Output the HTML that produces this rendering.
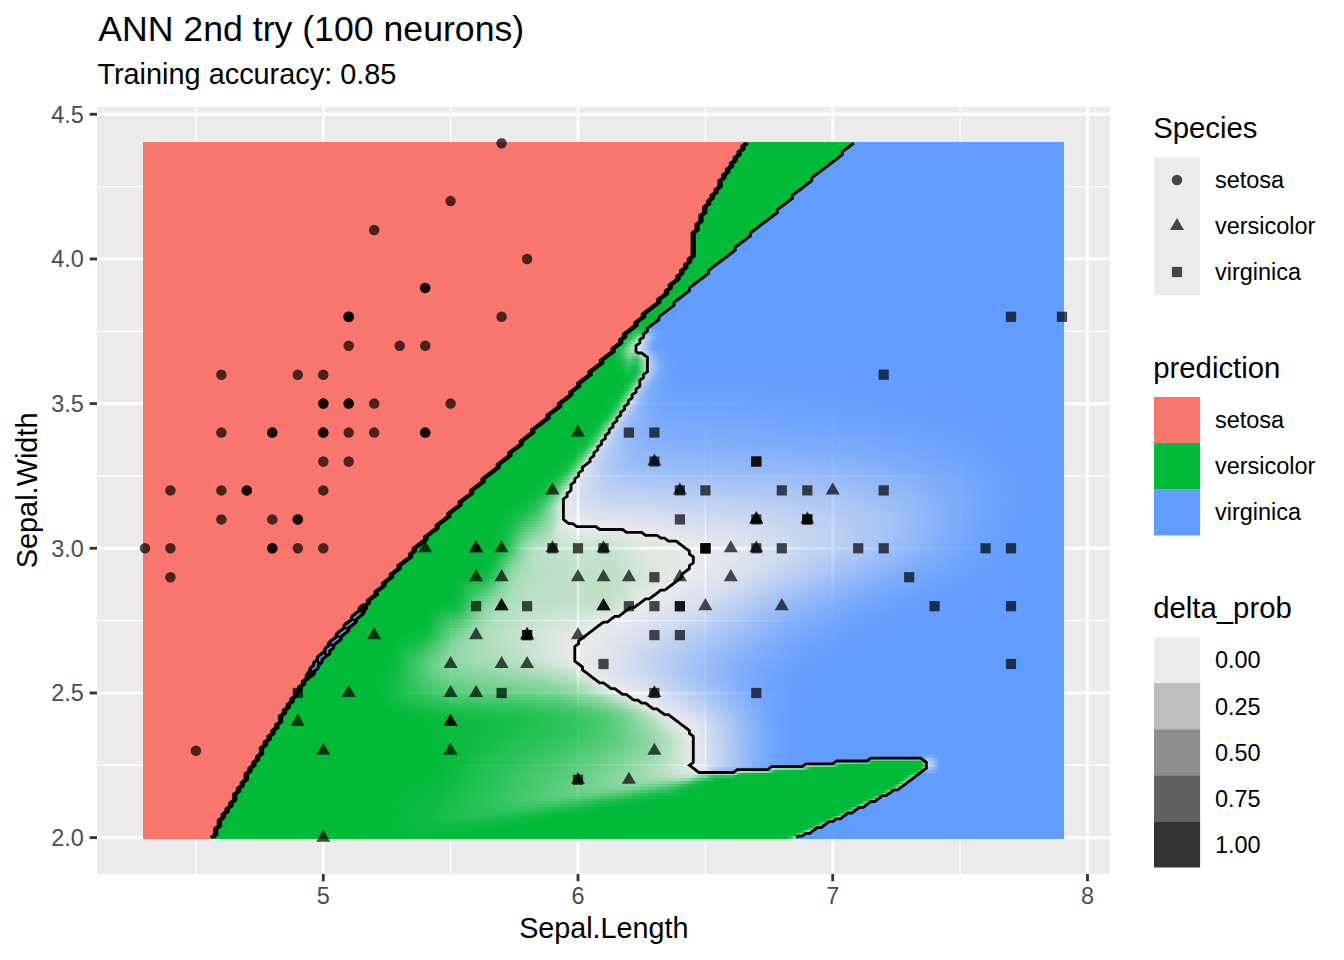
<!DOCTYPE html>
<html><head><meta charset="utf-8"><title>ANN 2nd try (100 neurons)</title>
<style>html,body{margin:0;padding:0;background:#fff}svg{display:block}text{font-family:"Liberation Sans",Arial,Helvetica,sans-serif}</style>
</head><body>
<svg width="1344" height="960" viewBox="0 0 1344 960">
<defs>
<linearGradient id="r0" gradientUnits="userSpaceOnUse" x1="143.04" x2="1063.91" y1="0" y2="0"><stop offset="0" stop-color="#F8766D"/><stop offset=".0747" stop-color="#F8766D"/><stop offset=".0747" stop-color="#00BA38"/><stop offset=".2386" stop-color="#00BA38"/><stop offset=".2759" stop-color="#00BA38" stop-opacity=".98"/><stop offset=".6992" stop-color="#00BA38"/><stop offset=".7033" stop-color="#00BA38" stop-opacity=".84"/><stop offset=".7075" stop-color="#00BA38" stop-opacity=".52"/><stop offset=".7095" stop-color="#00BA38" stop-opacity=".52"/><stop offset=".7095" stop-color="#619CFF"/><stop offset="1" stop-color="#619CFF"/></linearGradient>
<linearGradient id="r1" gradientUnits="userSpaceOnUse" x1="143.04" x2="1063.91" y1="0" y2="0"><stop offset="0" stop-color="#F8766D"/><stop offset=".0788" stop-color="#F8766D"/><stop offset=".0788" stop-color="#00BA38"/><stop offset=".2427" stop-color="#00BA38"/><stop offset=".2967" stop-color="#00BA38" stop-opacity=".98"/><stop offset=".3797" stop-color="#00BA38"/><stop offset=".7075" stop-color="#00BA38"/><stop offset=".7116" stop-color="#00BA38" stop-opacity=".71"/><stop offset=".7158" stop-color="#00BA38" stop-opacity=".39"/><stop offset=".7178" stop-color="#00BA38" stop-opacity=".39"/><stop offset=".7178" stop-color="#619CFF"/><stop offset="1" stop-color="#619CFF"/></linearGradient>
<linearGradient id="r2" gradientUnits="userSpaceOnUse" x1="143.04" x2="1063.91" y1="0" y2="0"><stop offset="0" stop-color="#F8766D"/><stop offset=".0788" stop-color="#F8766D"/><stop offset=".0788" stop-color="#00BA38"/><stop offset=".2427" stop-color="#00BA38"/><stop offset=".305" stop-color="#00BA38" stop-opacity=".97"/><stop offset=".3921" stop-color="#00BA38"/><stop offset=".7116" stop-color="#00BA38"/><stop offset=".7158" stop-color="#00BA38" stop-opacity=".91"/><stop offset=".7241" stop-color="#00BA38" stop-opacity=".23"/><stop offset=".7261" stop-color="#00BA38" stop-opacity=".23"/><stop offset=".7261" stop-color="#619CFF"/><stop offset="1" stop-color="#619CFF"/></linearGradient>
<linearGradient id="r3" gradientUnits="userSpaceOnUse" x1="143.04" x2="1063.91" y1="0" y2="0"><stop offset="0" stop-color="#F8766D"/><stop offset=".0788" stop-color="#F8766D"/><stop offset=".0788" stop-color="#00BA38"/><stop offset=".2469" stop-color="#00BA38"/><stop offset=".3133" stop-color="#00BA38" stop-opacity=".95"/><stop offset=".4087" stop-color="#00BA38"/><stop offset=".7199" stop-color="#00BA38"/><stop offset=".7241" stop-color="#00BA38" stop-opacity=".75"/><stop offset=".7282" stop-color="#00BA38" stop-opacity=".4"/><stop offset=".7303" stop-color="#00BA38" stop-opacity=".4"/><stop offset=".7303" stop-color="#619CFF"/><stop offset="1" stop-color="#619CFF"/></linearGradient>
<linearGradient id="r4" gradientUnits="userSpaceOnUse" x1="143.04" x2="1063.91" y1="0" y2="0"><stop offset="0" stop-color="#F8766D"/><stop offset=".083" stop-color="#F8766D"/><stop offset=".083" stop-color="#00BA38"/><stop offset=".251" stop-color="#00BA38"/><stop offset=".3216" stop-color="#00BA38" stop-opacity=".94"/><stop offset=".4212" stop-color="#00BA38"/><stop offset=".7241" stop-color="#00BA38"/><stop offset=".7282" stop-color="#00BA38" stop-opacity=".92"/><stop offset=".7365" stop-color="#00BA38" stop-opacity=".22"/><stop offset=".7386" stop-color="#00BA38" stop-opacity=".22"/><stop offset=".7386" stop-color="#619CFF"/><stop offset="1" stop-color="#619CFF"/></linearGradient>
<linearGradient id="r5" gradientUnits="userSpaceOnUse" x1="143.04" x2="1063.91" y1="0" y2="0"><stop offset="0" stop-color="#F8766D"/><stop offset=".083" stop-color="#F8766D"/><stop offset=".083" stop-color="#00BA38"/><stop offset=".251" stop-color="#00BA38"/><stop offset=".334" stop-color="#00BA38" stop-opacity=".92"/><stop offset=".4378" stop-color="#00BA38"/><stop offset=".7324" stop-color="#00BA38"/><stop offset=".7365" stop-color="#00BA38" stop-opacity=".75"/><stop offset=".7407" stop-color="#00BA38" stop-opacity=".45"/><stop offset=".7427" stop-color="#00BA38" stop-opacity=".45"/><stop offset=".7427" stop-color="#619CFF"/><stop offset="1" stop-color="#619CFF"/></linearGradient>
<linearGradient id="r6" gradientUnits="userSpaceOnUse" x1="143.04" x2="1063.91" y1="0" y2="0"><stop offset="0" stop-color="#F8766D"/><stop offset=".083" stop-color="#F8766D"/><stop offset=".083" stop-color="#00BA38"/><stop offset=".2552" stop-color="#00BA38"/><stop offset=".3465" stop-color="#00BA38" stop-opacity=".9"/><stop offset=".4502" stop-color="#00BA38"/><stop offset=".7365" stop-color="#00BA38"/><stop offset=".7407" stop-color="#00BA38" stop-opacity=".98"/><stop offset=".749" stop-color="#00BA38" stop-opacity=".37"/><stop offset=".751" stop-color="#00BA38" stop-opacity=".37"/><stop offset=".751" stop-color="#619CFF"/><stop offset="1" stop-color="#619CFF"/></linearGradient>
<linearGradient id="r7" gradientUnits="userSpaceOnUse" x1="143.04" x2="1063.91" y1="0" y2="0"><stop offset="0" stop-color="#F8766D"/><stop offset=".0871" stop-color="#F8766D"/><stop offset=".0871" stop-color="#00BA38"/><stop offset=".2552" stop-color="#00BA38"/><stop offset=".2842" stop-color="#00BA38" stop-opacity=".97"/><stop offset=".3423" stop-color="#00BA38" stop-opacity=".88"/><stop offset=".3631" stop-color="#00BA38" stop-opacity=".87"/><stop offset=".388" stop-color="#00BA38" stop-opacity=".89"/><stop offset=".4378" stop-color="#00BA38" stop-opacity=".98"/><stop offset=".4668" stop-color="#00BA38"/><stop offset=".7448" stop-color="#00BA38"/><stop offset=".749" stop-color="#00BA38" stop-opacity=".9"/><stop offset=".7573" stop-color="#00BA38" stop-opacity=".29"/><stop offset=".7593" stop-color="#00BA38" stop-opacity=".29"/><stop offset=".7593" stop-color="#619CFF"/><stop offset="1" stop-color="#619CFF"/></linearGradient>
<linearGradient id="r8" gradientUnits="userSpaceOnUse" x1="143.04" x2="1063.91" y1="0" y2="0"><stop offset="0" stop-color="#F8766D"/><stop offset=".0871" stop-color="#F8766D"/><stop offset=".0871" stop-color="#00BA38"/><stop offset=".2676" stop-color="#00BA38" stop-opacity=".99"/><stop offset=".2884" stop-color="#00BA38" stop-opacity=".97"/><stop offset=".3548" stop-color="#00BA38" stop-opacity=".86"/><stop offset=".3797" stop-color="#00BA38" stop-opacity=".84"/><stop offset=".4004" stop-color="#00BA38" stop-opacity=".86"/><stop offset=".4502" stop-color="#00BA38" stop-opacity=".97"/><stop offset=".4793" stop-color="#00BA38" stop-opacity=".99"/><stop offset=".7531" stop-color="#00BA38"/><stop offset=".7573" stop-color="#00BA38" stop-opacity=".81"/><stop offset=".7614" stop-color="#00BA38" stop-opacity=".47"/><stop offset=".7635" stop-color="#00BA38" stop-opacity=".47"/><stop offset=".7635" stop-color="#619CFF"/><stop offset="1" stop-color="#619CFF"/></linearGradient>
<linearGradient id="r9" gradientUnits="userSpaceOnUse" x1="143.04" x2="1063.91" y1="0" y2="0"><stop offset="0" stop-color="#F8766D"/><stop offset=".0913" stop-color="#F8766D"/><stop offset=".0913" stop-color="#00BA38"/><stop offset=".2759" stop-color="#00BA38" stop-opacity=".99"/><stop offset=".3631" stop-color="#00BA38" stop-opacity=".84"/><stop offset=".3921" stop-color="#00BA38" stop-opacity=".81"/><stop offset=".4129" stop-color="#00BA38" stop-opacity=".83"/><stop offset=".4668" stop-color="#00BA38" stop-opacity=".96"/><stop offset=".4959" stop-color="#00BA38" stop-opacity=".99"/><stop offset=".7573" stop-color="#00BA38"/><stop offset=".7614" stop-color="#00BA38" stop-opacity=".99"/><stop offset=".7697" stop-color="#00BA38" stop-opacity=".3"/><stop offset=".7718" stop-color="#00BA38" stop-opacity=".3"/><stop offset=".7718" stop-color="#619CFF"/><stop offset="1" stop-color="#619CFF"/></linearGradient>
<linearGradient id="r10" gradientUnits="userSpaceOnUse" x1="143.04" x2="1063.91" y1="0" y2="0"><stop offset="0" stop-color="#F8766D"/><stop offset=".0913" stop-color="#F8766D"/><stop offset=".0913" stop-color="#00BA38"/><stop offset=".2344" stop-color="#00BA38"/><stop offset=".2801" stop-color="#00BA38" stop-opacity=".98"/><stop offset=".3174" stop-color="#00BA38" stop-opacity=".93"/><stop offset=".3838" stop-color="#00BA38" stop-opacity=".8"/><stop offset=".4046" stop-color="#00BA38" stop-opacity=".78"/><stop offset=".4295" stop-color="#00BA38" stop-opacity=".81"/><stop offset=".4834" stop-color="#00BA38" stop-opacity=".96"/><stop offset=".5124" stop-color="#00BA38" stop-opacity=".99"/><stop offset=".7656" stop-color="#00BA38"/><stop offset=".7697" stop-color="#00BA38" stop-opacity=".82"/><stop offset=".7739" stop-color="#00BA38" stop-opacity=".48"/><stop offset=".7759" stop-color="#00BA38" stop-opacity=".48"/><stop offset=".7759" stop-color="#619CFF"/><stop offset="1" stop-color="#619CFF"/></linearGradient>
<linearGradient id="r11" gradientUnits="userSpaceOnUse" x1="143.04" x2="1063.91" y1="0" y2="0"><stop offset="0" stop-color="#F8766D"/><stop offset=".0954" stop-color="#F8766D"/><stop offset=".0954" stop-color="#00BA38"/><stop offset=".2801" stop-color="#00BA38" stop-opacity=".98"/><stop offset=".3174" stop-color="#00BA38" stop-opacity=".94"/><stop offset=".3921" stop-color="#00BA38" stop-opacity=".77"/><stop offset=".417" stop-color="#00BA38" stop-opacity=".74"/><stop offset=".4419" stop-color="#00BA38" stop-opacity=".77"/><stop offset=".4917" stop-color="#00BA38" stop-opacity=".93"/><stop offset=".5249" stop-color="#00BA38" stop-opacity=".99"/><stop offset=".7739" stop-color="#00BA38"/><stop offset=".7822" stop-color="#00BA38" stop-opacity=".31"/><stop offset=".7842" stop-color="#00BA38" stop-opacity=".31"/><stop offset=".7842" stop-color="#619CFF"/><stop offset="1" stop-color="#619CFF"/></linearGradient>
<linearGradient id="r12" gradientUnits="userSpaceOnUse" x1="143.04" x2="1063.91" y1="0" y2="0"><stop offset="0" stop-color="#F8766D"/><stop offset=".0954" stop-color="#F8766D"/><stop offset=".0954" stop-color="#00BA38"/><stop offset=".2344" stop-color="#00BA38"/><stop offset=".2842" stop-color="#00BA38" stop-opacity=".98"/><stop offset=".3216" stop-color="#00BA38" stop-opacity=".93"/><stop offset=".4046" stop-color="#00BA38" stop-opacity=".74"/><stop offset=".4336" stop-color="#00BA38" stop-opacity=".7"/><stop offset=".4544" stop-color="#00BA38" stop-opacity=".73"/><stop offset=".5083" stop-color="#00BA38" stop-opacity=".92"/><stop offset=".5415" stop-color="#00BA38" stop-opacity=".99"/><stop offset=".778" stop-color="#00BA38"/><stop offset=".7822" stop-color="#00BA38" stop-opacity=".83"/><stop offset=".7863" stop-color="#00BA38" stop-opacity=".49"/><stop offset=".7884" stop-color="#00BA38" stop-opacity=".49"/><stop offset=".7884" stop-color="#619CFF"/><stop offset="1" stop-color="#619CFF"/></linearGradient>
<linearGradient id="r13" gradientUnits="userSpaceOnUse" x1="143.04" x2="1063.91" y1="0" y2="0"><stop offset="0" stop-color="#F8766D"/><stop offset=".0996" stop-color="#F8766D"/><stop offset=".0996" stop-color="#00BA38"/><stop offset=".2842" stop-color="#00BA38" stop-opacity=".98"/><stop offset=".3216" stop-color="#00BA38" stop-opacity=".94"/><stop offset=".4212" stop-color="#00BA38" stop-opacity=".69"/><stop offset=".4461" stop-color="#00BA38" stop-opacity=".66"/><stop offset=".471" stop-color="#00BA38" stop-opacity=".7"/><stop offset=".5249" stop-color="#00BA38" stop-opacity=".92"/><stop offset=".5581" stop-color="#00BA38" stop-opacity=".98"/><stop offset=".5996" stop-color="#00BA38"/><stop offset=".7863" stop-color="#00BA38"/><stop offset=".7946" stop-color="#00BA38" stop-opacity=".32"/><stop offset=".7967" stop-color="#00BA38" stop-opacity=".32"/><stop offset=".7967" stop-color="#619CFF"/><stop offset="1" stop-color="#619CFF"/></linearGradient>
<linearGradient id="r14" gradientUnits="userSpaceOnUse" x1="143.04" x2="1063.91" y1="0" y2="0"><stop offset="0" stop-color="#F8766D"/><stop offset=".0996" stop-color="#F8766D"/><stop offset=".0996" stop-color="#00BA38"/><stop offset=".2552" stop-color="#00BA38"/><stop offset=".3133" stop-color="#00BA38" stop-opacity=".96"/><stop offset=".4336" stop-color="#00BA38" stop-opacity=".66"/><stop offset=".4627" stop-color="#00BA38" stop-opacity=".62"/><stop offset=".4876" stop-color="#00BA38" stop-opacity=".66"/><stop offset=".5415" stop-color="#00BA38" stop-opacity=".91"/><stop offset=".5747" stop-color="#00BA38" stop-opacity=".98"/><stop offset=".6079" stop-color="#00BA38"/><stop offset=".7905" stop-color="#00BA38"/><stop offset=".7946" stop-color="#00BA38" stop-opacity=".84"/><stop offset=".7988" stop-color="#00BA38" stop-opacity=".5"/><stop offset=".8008" stop-color="#00BA38" stop-opacity=".5"/><stop offset=".8008" stop-color="#619CFF"/><stop offset="1" stop-color="#619CFF"/></linearGradient>
<linearGradient id="r15" gradientUnits="userSpaceOnUse" x1="143.04" x2="1063.91" y1="0" y2="0"><stop offset="0" stop-color="#F8766D"/><stop offset=".0996" stop-color="#F8766D"/><stop offset=".0996" stop-color="#00BA38"/><stop offset=".251" stop-color="#00BA38"/><stop offset=".3133" stop-color="#00BA38" stop-opacity=".96"/><stop offset=".334" stop-color="#00BA38" stop-opacity=".92"/><stop offset=".4461" stop-color="#00BA38" stop-opacity=".62"/><stop offset=".4793" stop-color="#00BA38" stop-opacity=".58"/><stop offset=".5041" stop-color="#00BA38" stop-opacity=".63"/><stop offset=".5581" stop-color="#00BA38" stop-opacity=".9"/><stop offset=".5913" stop-color="#00BA38" stop-opacity=".99"/><stop offset=".7988" stop-color="#00BA38"/><stop offset=".8071" stop-color="#00BA38" stop-opacity=".31"/><stop offset=".8091" stop-color="#00BA38" stop-opacity=".31"/><stop offset=".8091" stop-color="#619CFF"/><stop offset="1" stop-color="#619CFF"/></linearGradient>
<linearGradient id="r16" gradientUnits="userSpaceOnUse" x1="143.04" x2="1063.91" y1="0" y2="0"><stop offset="0" stop-color="#F8766D"/><stop offset=".1037" stop-color="#F8766D"/><stop offset=".1037" stop-color="#00BA38"/><stop offset=".251" stop-color="#00BA38"/><stop offset=".3133" stop-color="#00BA38" stop-opacity=".97"/><stop offset=".4046" stop-color="#00BA38" stop-opacity=".75"/><stop offset=".4668" stop-color="#00BA38" stop-opacity=".57"/><stop offset=".4959" stop-color="#00BA38" stop-opacity=".53"/><stop offset=".5083" stop-color="#00BA38" stop-opacity=".55"/><stop offset=".5207" stop-color="#00BA38" stop-opacity=".59"/><stop offset=".583" stop-color="#00BA38" stop-opacity=".94"/><stop offset=".5996" stop-color="#00BA38" stop-opacity=".99"/><stop offset=".8029" stop-color="#00BA38"/><stop offset=".8071" stop-color="#00BA38" stop-opacity=".83"/><stop offset=".8112" stop-color="#00BA38" stop-opacity=".48"/><stop offset=".8133" stop-color="#00BA38" stop-opacity=".48"/><stop offset=".8133" stop-color="#619CFF"/><stop offset="1" stop-color="#619CFF"/></linearGradient>
<linearGradient id="r17" gradientUnits="userSpaceOnUse" x1="143.04" x2="1063.91" y1="0" y2="0"><stop offset="0" stop-color="#F8766D"/><stop offset=".1037" stop-color="#F8766D"/><stop offset=".1037" stop-color="#00BA38"/><stop offset=".251" stop-color="#00BA38"/><stop offset=".3174" stop-color="#00BA38" stop-opacity=".97"/><stop offset=".4087" stop-color="#00BA38" stop-opacity=".74"/><stop offset=".4834" stop-color="#00BA38" stop-opacity=".52"/><stop offset=".5083" stop-color="#00BA38" stop-opacity=".48"/><stop offset=".5249" stop-color="#00BA38" stop-opacity=".5"/><stop offset=".5415" stop-color="#00BA38" stop-opacity=".57"/><stop offset=".5705" stop-color="#00BA38" stop-opacity=".75"/><stop offset=".5913" stop-color="#00BA38" stop-opacity=".94"/><stop offset=".6037" stop-color="#00BA38" stop-opacity=".98"/><stop offset=".6328" stop-color="#00BA38"/><stop offset=".8071" stop-color="#00BA38"/><stop offset=".8112" stop-color="#00BA38" stop-opacity=".99"/><stop offset=".8154" stop-color="#00BA38" stop-opacity=".64"/><stop offset=".8195" stop-color="#00BA38" stop-opacity=".23"/><stop offset=".8216" stop-color="#00BA38" stop-opacity=".23"/><stop offset=".8216" stop-color="#619CFF"/><stop offset="1" stop-color="#619CFF"/></linearGradient>
<linearGradient id="r18" gradientUnits="userSpaceOnUse" x1="143.04" x2="1063.91" y1="0" y2="0"><stop offset="0" stop-color="#F8766D"/><stop offset=".1079" stop-color="#F8766D"/><stop offset=".1079" stop-color="#00BA38"/><stop offset=".251" stop-color="#00BA38"/><stop offset=".3174" stop-color="#00BA38" stop-opacity=".97"/><stop offset=".4129" stop-color="#00BA38" stop-opacity=".74"/><stop offset=".5" stop-color="#00BA38" stop-opacity=".47"/><stop offset=".5249" stop-color="#00BA38" stop-opacity=".43"/><stop offset=".5456" stop-color="#00BA38" stop-opacity=".47"/><stop offset=".5664" stop-color="#00BA38" stop-opacity=".58"/><stop offset=".5788" stop-color="#00BA38" stop-opacity=".69"/><stop offset=".5996" stop-color="#00BA38" stop-opacity=".95"/><stop offset=".6079" stop-color="#00BA38" stop-opacity=".98"/><stop offset=".6328" stop-color="#00BA38"/><stop offset=".8154" stop-color="#00BA38"/><stop offset=".8195" stop-color="#00BA38" stop-opacity=".7"/><stop offset=".8237" stop-color="#00BA38" stop-opacity=".26"/><stop offset=".8257" stop-color="#00BA38" stop-opacity=".26"/><stop offset=".8257" stop-color="#619CFF"/><stop offset="1" stop-color="#619CFF"/></linearGradient>
<linearGradient id="r19" gradientUnits="userSpaceOnUse" x1="143.04" x2="1063.91" y1="0" y2="0"><stop offset="0" stop-color="#F8766D"/><stop offset=".1079" stop-color="#F8766D"/><stop offset=".1079" stop-color="#00BA38"/><stop offset=".251" stop-color="#00BA38"/><stop offset=".3174" stop-color="#00BA38" stop-opacity=".98"/><stop offset=".417" stop-color="#00BA38" stop-opacity=".73"/><stop offset=".4627" stop-color="#00BA38" stop-opacity=".6"/><stop offset=".5124" stop-color="#00BA38" stop-opacity=".43"/><stop offset=".5415" stop-color="#00BA38" stop-opacity=".38"/><stop offset=".5581" stop-color="#00BA38" stop-opacity=".41"/><stop offset=".5788" stop-color="#00BA38" stop-opacity=".49"/><stop offset=".583" stop-color="#00BA38" stop-opacity=".53"/><stop offset=".5913" stop-color="#00BA38" stop-opacity=".66"/><stop offset=".5996" stop-color="#00BA38" stop-opacity=".84"/><stop offset=".6037" stop-color="#00BA38" stop-opacity=".91"/><stop offset=".6079" stop-color="#00BA38" stop-opacity=".94"/><stop offset=".6245" stop-color="#00BA38"/><stop offset=".8195" stop-color="#00BA38"/><stop offset=".8237" stop-color="#00BA38" stop-opacity=".73"/><stop offset=".8278" stop-color="#00BA38" stop-opacity=".29"/><stop offset=".8299" stop-color="#00BA38" stop-opacity=".29"/><stop offset=".8299" stop-color="#619CFF"/><stop offset="1" stop-color="#619CFF"/></linearGradient>
<linearGradient id="r20" gradientUnits="userSpaceOnUse" x1="143.04" x2="1063.91" y1="0" y2="0"><stop offset="0" stop-color="#F8766D"/><stop offset=".112" stop-color="#F8766D"/><stop offset=".112" stop-color="#00BA38"/><stop offset=".251" stop-color="#00BA38"/><stop offset=".3174" stop-color="#00BA38" stop-opacity=".98"/><stop offset=".4585" stop-color="#00BA38" stop-opacity=".62"/><stop offset=".5332" stop-color="#00BA38" stop-opacity=".36"/><stop offset=".5788" stop-color="#00BA38" stop-opacity=".3"/><stop offset=".583" stop-color="#00BA38" stop-opacity=".3"/><stop offset=".5913" stop-color="#00BA38" stop-opacity=".38"/><stop offset=".5954" stop-color="#00BA38" stop-opacity=".46"/><stop offset=".6037" stop-color="#00BA38" stop-opacity=".68"/><stop offset=".6079" stop-color="#00BA38" stop-opacity=".75"/><stop offset=".612" stop-color="#00BA38" stop-opacity=".79"/><stop offset=".6162" stop-color="#00BA38" stop-opacity=".85"/><stop offset=".6203" stop-color="#00BA38" stop-opacity=".94"/><stop offset=".6245" stop-color="#00BA38" stop-opacity=".99"/><stop offset=".8237" stop-color="#00BA38"/><stop offset=".8278" stop-color="#00BA38" stop-opacity=".76"/><stop offset=".832" stop-color="#00BA38" stop-opacity=".32"/><stop offset=".834" stop-color="#00BA38" stop-opacity=".32"/><stop offset=".834" stop-color="#619CFF"/><stop offset="1" stop-color="#619CFF"/></linearGradient>
<linearGradient id="r21" gradientUnits="userSpaceOnUse" x1="143.04" x2="1063.91" y1="0" y2="0"><stop offset="0" stop-color="#F8766D"/><stop offset=".112" stop-color="#F8766D"/><stop offset=".112" stop-color="#00BA38"/><stop offset=".2801" stop-color="#00BA38"/><stop offset=".3216" stop-color="#00BA38" stop-opacity=".98"/><stop offset=".4627" stop-color="#00BA38" stop-opacity=".62"/><stop offset=".5664" stop-color="#00BA38" stop-opacity=".25"/><stop offset=".583" stop-color="#00BA38" stop-opacity=".18"/><stop offset=".5913" stop-color="#00BA38" stop-opacity=".17"/><stop offset=".5954" stop-color="#00BA38" stop-opacity=".19"/><stop offset=".5996" stop-color="#00BA38" stop-opacity=".27"/><stop offset=".612" stop-color="#00BA38" stop-opacity=".57"/><stop offset=".6162" stop-color="#00BA38" stop-opacity=".73"/><stop offset=".6203" stop-color="#00BA38" stop-opacity=".82"/><stop offset=".6411" stop-color="#00BA38" stop-opacity=".82"/><stop offset=".6452" stop-color="#00BA38"/><stop offset=".8278" stop-color="#00BA38"/><stop offset=".832" stop-color="#00BA38" stop-opacity=".79"/><stop offset=".8361" stop-color="#00BA38" stop-opacity=".36"/><stop offset=".8382" stop-color="#00BA38" stop-opacity=".36"/><stop offset=".8382" stop-color="#619CFF"/><stop offset="1" stop-color="#619CFF"/></linearGradient>
<linearGradient id="r22" gradientUnits="userSpaceOnUse" x1="143.04" x2="1063.91" y1="0" y2="0"><stop offset="0" stop-color="#F8766D"/><stop offset=".112" stop-color="#F8766D"/><stop offset=".112" stop-color="#00BA38"/><stop offset=".2801" stop-color="#00BA38"/><stop offset=".3216" stop-color="#00BA38" stop-opacity=".98"/><stop offset=".471" stop-color="#00BA38" stop-opacity=".6"/><stop offset=".5622" stop-color="#00BA38" stop-opacity=".24"/><stop offset=".5954" stop-color="#00BA38" stop-opacity=".07"/><stop offset=".5996" stop-color="#00BA38" stop-opacity=".08"/><stop offset=".6037" stop-color="#00BA38" stop-opacity=".15"/><stop offset=".6079" stop-color="#00BA38" stop-opacity=".24"/><stop offset=".6411" stop-color="#00BA38" stop-opacity=".24"/><stop offset=".6452" stop-color="#00BA38" stop-opacity=".68"/><stop offset=".6494" stop-color="#00BA38" stop-opacity=".91"/><stop offset=".6826" stop-color="#00BA38"/><stop offset=".832" stop-color="#00BA38"/><stop offset=".8361" stop-color="#00BA38" stop-opacity=".85"/><stop offset=".8402" stop-color="#00BA38" stop-opacity=".44"/><stop offset=".8423" stop-color="#00BA38" stop-opacity=".44"/><stop offset=".8423" stop-color="#619CFF"/><stop offset=".8485" stop-color="#619CFF"/><stop offset=".8527" stop-color="#619CFF" stop-opacity=".93"/><stop offset=".861" stop-color="#619CFF"/><stop offset="1" stop-color="#619CFF"/></linearGradient>
<linearGradient id="r23" gradientUnits="userSpaceOnUse" x1="143.04" x2="1063.91" y1="0" y2="0"><stop offset="0" stop-color="#F8766D"/><stop offset=".1162" stop-color="#F8766D"/><stop offset=".1162" stop-color="#00BA38"/><stop offset=".2842" stop-color="#00BA38"/><stop offset=".3216" stop-color="#00BA38" stop-opacity=".98"/><stop offset=".4751" stop-color="#00BA38" stop-opacity=".6"/><stop offset=".5373" stop-color="#00BA38" stop-opacity=".36"/><stop offset=".5871" stop-color="#00BA38" stop-opacity=".11"/><stop offset=".5954" stop-color="#00BA38" stop-opacity=".05"/><stop offset=".6017" stop-color="#00BA38" stop-opacity=".02"/><stop offset=".6017" stop-color="#619CFF" stop-opacity=".03"/><stop offset=".6037" stop-color="#619CFF" stop-opacity=".03"/><stop offset=".6079" stop-color="#619CFF" stop-opacity=".07"/><stop offset=".612" stop-color="#619CFF" stop-opacity=".17"/><stop offset=".6203" stop-color="#619CFF" stop-opacity=".44"/><stop offset=".6245" stop-color="#619CFF" stop-opacity=".52"/><stop offset=".6328" stop-color="#619CFF" stop-opacity=".6"/><stop offset=".6432" stop-color="#619CFF" stop-opacity=".64"/><stop offset=".6432" stop-color="#00BA38" stop-opacity=".25"/><stop offset=".6452" stop-color="#00BA38" stop-opacity=".25"/><stop offset=".6494" stop-color="#00BA38" stop-opacity=".33"/><stop offset=".6784" stop-color="#00BA38" stop-opacity=".41"/><stop offset=".6826" stop-color="#00BA38" stop-opacity=".69"/><stop offset=".6867" stop-color="#00BA38" stop-opacity=".93"/><stop offset=".7116" stop-color="#00BA38"/><stop offset=".8361" stop-color="#00BA38"/><stop offset=".8402" stop-color="#00BA38" stop-opacity=".94"/><stop offset=".8444" stop-color="#00BA38" stop-opacity=".53"/><stop offset=".8465" stop-color="#00BA38" stop-opacity=".53"/><stop offset=".8465" stop-color="#619CFF" stop-opacity=".81"/><stop offset=".8485" stop-color="#619CFF" stop-opacity=".81"/><stop offset=".8527" stop-color="#619CFF" stop-opacity=".72"/><stop offset=".8568" stop-color="#619CFF" stop-opacity=".76"/><stop offset=".861" stop-color="#619CFF" stop-opacity=".92"/><stop offset=".8651" stop-color="#619CFF"/><stop offset="1" stop-color="#619CFF"/></linearGradient>
<linearGradient id="r24" gradientUnits="userSpaceOnUse" x1="143.04" x2="1063.91" y1="0" y2="0"><stop offset="0" stop-color="#F8766D"/><stop offset=".1162" stop-color="#F8766D"/><stop offset=".1162" stop-color="#00BA38"/><stop offset=".305" stop-color="#00BA38"/><stop offset=".3257" stop-color="#00BA38" stop-opacity=".98"/><stop offset=".3714" stop-color="#00BA38" stop-opacity=".86"/><stop offset=".4212" stop-color="#00BA38" stop-opacity=".75"/><stop offset=".4793" stop-color="#00BA38" stop-opacity=".59"/><stop offset=".5415" stop-color="#00BA38" stop-opacity=".35"/><stop offset=".5975" stop-color="#00BA38" stop-opacity=".03"/><stop offset=".5975" stop-color="#619CFF" stop-opacity=".02"/><stop offset=".6037" stop-color="#619CFF" stop-opacity=".04"/><stop offset=".6079" stop-color="#619CFF" stop-opacity=".08"/><stop offset=".612" stop-color="#619CFF" stop-opacity=".15"/><stop offset=".6203" stop-color="#619CFF" stop-opacity=".37"/><stop offset=".6245" stop-color="#619CFF" stop-opacity=".45"/><stop offset=".6286" stop-color="#619CFF" stop-opacity=".5"/><stop offset=".6452" stop-color="#619CFF" stop-opacity=".63"/><stop offset=".666" stop-color="#619CFF" stop-opacity=".81"/><stop offset=".6805" stop-color="#619CFF" stop-opacity=".88"/><stop offset=".6805" stop-color="#00BA38" stop-opacity=".21"/><stop offset=".6826" stop-color="#00BA38" stop-opacity=".21"/><stop offset=".6867" stop-color="#00BA38" stop-opacity=".35"/><stop offset=".7158" stop-color="#00BA38" stop-opacity=".43"/><stop offset=".7199" stop-color="#00BA38" stop-opacity=".68"/><stop offset=".7241" stop-color="#00BA38" stop-opacity=".99"/><stop offset=".7282" stop-color="#00BA38"/><stop offset=".8444" stop-color="#00BA38"/><stop offset=".8485" stop-color="#00BA38" stop-opacity=".45"/><stop offset=".8506" stop-color="#00BA38" stop-opacity=".45"/><stop offset=".8506" stop-color="#619CFF" stop-opacity=".51"/><stop offset=".8527" stop-color="#619CFF" stop-opacity=".51"/><stop offset=".8568" stop-color="#619CFF" stop-opacity=".58"/><stop offset=".8651" stop-color="#619CFF"/><stop offset="1" stop-color="#619CFF"/></linearGradient>
<linearGradient id="r25" gradientUnits="userSpaceOnUse" x1="143.04" x2="1063.91" y1="0" y2="0"><stop offset="0" stop-color="#F8766D"/><stop offset=".1203" stop-color="#F8766D"/><stop offset=".1203" stop-color="#00BA38"/><stop offset=".305" stop-color="#00BA38"/><stop offset=".3299" stop-color="#00BA38" stop-opacity=".97"/><stop offset=".3714" stop-color="#00BA38" stop-opacity=".86"/><stop offset=".4295" stop-color="#00BA38" stop-opacity=".74"/><stop offset=".4793" stop-color="#00BA38" stop-opacity=".6"/><stop offset=".5415" stop-color="#00BA38" stop-opacity=".37"/><stop offset=".5581" stop-color="#00BA38" stop-opacity=".28"/><stop offset=".583" stop-color="#00BA38" stop-opacity=".12"/><stop offset=".5913" stop-color="#00BA38" stop-opacity=".05"/><stop offset=".5934" stop-color="#00BA38" stop-opacity=".05"/><stop offset=".5934" stop-color="#619CFF" stop-opacity=".01"/><stop offset=".5996" stop-color="#619CFF" stop-opacity=".03"/><stop offset=".6079" stop-color="#619CFF" stop-opacity=".09"/><stop offset=".612" stop-color="#619CFF" stop-opacity=".13"/><stop offset=".6245" stop-color="#619CFF" stop-opacity=".36"/><stop offset=".666" stop-color="#619CFF" stop-opacity=".79"/><stop offset=".6826" stop-color="#619CFF" stop-opacity=".9"/><stop offset=".695" stop-color="#619CFF" stop-opacity=".95"/><stop offset=".7033" stop-color="#619CFF" stop-opacity=".98"/><stop offset=".7178" stop-color="#619CFF"/><stop offset=".7178" stop-color="#00BA38" stop-opacity=".29"/><stop offset=".7199" stop-color="#00BA38" stop-opacity=".29"/><stop offset=".7241" stop-color="#00BA38" stop-opacity=".41"/><stop offset=".749" stop-color="#00BA38" stop-opacity=".5"/><stop offset=".7531" stop-color="#00BA38" stop-opacity=".8"/><stop offset=".7573" stop-color="#00BA38"/><stop offset=".8444" stop-color="#00BA38"/><stop offset=".8485" stop-color="#00BA38" stop-opacity=".76"/><stop offset=".8506" stop-color="#00BA38" stop-opacity=".76"/><stop offset=".8506" stop-color="#619CFF" stop-opacity=".31"/><stop offset=".8527" stop-color="#619CFF" stop-opacity=".31"/><stop offset=".8568" stop-color="#619CFF" stop-opacity=".45"/><stop offset=".8651" stop-color="#619CFF" stop-opacity=".99"/><stop offset=".8693" stop-color="#619CFF"/><stop offset="1" stop-color="#619CFF"/></linearGradient>
<linearGradient id="r26" gradientUnits="userSpaceOnUse" x1="143.04" x2="1063.91" y1="0" y2="0"><stop offset="0" stop-color="#F8766D"/><stop offset=".1203" stop-color="#F8766D"/><stop offset=".1203" stop-color="#00BA38"/><stop offset=".305" stop-color="#00BA38"/><stop offset=".334" stop-color="#00BA38" stop-opacity=".97"/><stop offset=".4627" stop-color="#00BA38" stop-opacity=".67"/><stop offset=".5207" stop-color="#00BA38" stop-opacity=".47"/><stop offset=".5539" stop-color="#00BA38" stop-opacity=".31"/><stop offset=".583" stop-color="#00BA38" stop-opacity=".12"/><stop offset=".5954" stop-color="#00BA38" stop-opacity=".01"/><stop offset=".5975" stop-color="#00BA38" stop-opacity=".01"/><stop offset=".5975" stop-color="#619CFF" stop-opacity=".03"/><stop offset=".5996" stop-color="#619CFF" stop-opacity=".03"/><stop offset=".6079" stop-color="#619CFF" stop-opacity=".1"/><stop offset=".6618" stop-color="#619CFF" stop-opacity=".72"/><stop offset=".6826" stop-color="#619CFF" stop-opacity=".89"/><stop offset=".7033" stop-color="#619CFF" stop-opacity=".98"/><stop offset=".751" stop-color="#619CFF"/><stop offset=".751" stop-color="#00BA38" stop-opacity=".39"/><stop offset=".7531" stop-color="#00BA38" stop-opacity=".39"/><stop offset=".7573" stop-color="#00BA38" stop-opacity=".43"/><stop offset=".7863" stop-color="#00BA38" stop-opacity=".52"/><stop offset=".7905" stop-color="#00BA38" stop-opacity=".94"/><stop offset=".7946" stop-color="#00BA38"/><stop offset=".8444" stop-color="#00BA38"/><stop offset=".8485" stop-color="#00BA38" stop-opacity=".55"/><stop offset=".8506" stop-color="#00BA38" stop-opacity=".55"/><stop offset=".8506" stop-color="#619CFF" stop-opacity=".33"/><stop offset=".8527" stop-color="#619CFF" stop-opacity=".33"/><stop offset=".8568" stop-color="#619CFF" stop-opacity=".46"/><stop offset=".8651" stop-color="#619CFF" stop-opacity=".99"/><stop offset="1" stop-color="#619CFF"/></linearGradient>
<linearGradient id="r27" gradientUnits="userSpaceOnUse" x1="143.04" x2="1063.91" y1="0" y2="0"><stop offset="0" stop-color="#F8766D"/><stop offset=".1245" stop-color="#F8766D"/><stop offset=".1245" stop-color="#00BA38"/><stop offset=".305" stop-color="#00BA38"/><stop offset=".3382" stop-color="#00BA38" stop-opacity=".96"/><stop offset=".3714" stop-color="#00BA38" stop-opacity=".87"/><stop offset=".4585" stop-color="#00BA38" stop-opacity=".69"/><stop offset=".5166" stop-color="#00BA38" stop-opacity=".5"/><stop offset=".5539" stop-color="#00BA38" stop-opacity=".33"/><stop offset=".583" stop-color="#00BA38" stop-opacity=".12"/><stop offset=".5954" stop-color="#00BA38" stop-opacity=".02"/><stop offset=".5975" stop-color="#00BA38" stop-opacity=".02"/><stop offset=".5975" stop-color="#619CFF" stop-opacity=".03"/><stop offset=".6037" stop-color="#619CFF" stop-opacity=".06"/><stop offset=".6203" stop-color="#619CFF" stop-opacity=".23"/><stop offset=".666" stop-color="#619CFF" stop-opacity=".75"/><stop offset=".6867" stop-color="#619CFF" stop-opacity=".91"/><stop offset=".7033" stop-color="#619CFF" stop-opacity=".98"/><stop offset=".7158" stop-color="#619CFF"/><stop offset=".7884" stop-color="#619CFF"/><stop offset=".7884" stop-color="#00BA38" stop-opacity=".59"/><stop offset=".8465" stop-color="#00BA38" stop-opacity=".6"/><stop offset=".8465" stop-color="#619CFF" stop-opacity=".67"/><stop offset=".8485" stop-color="#619CFF" stop-opacity=".67"/><stop offset=".8527" stop-color="#619CFF" stop-opacity=".53"/><stop offset=".8568" stop-color="#619CFF" stop-opacity=".6"/><stop offset=".8651" stop-color="#619CFF"/><stop offset="1" stop-color="#619CFF"/></linearGradient>
<linearGradient id="r28" gradientUnits="userSpaceOnUse" x1="143.04" x2="1063.91" y1="0" y2="0"><stop offset="0" stop-color="#F8766D"/><stop offset=".1245" stop-color="#F8766D"/><stop offset=".1245" stop-color="#00BA38"/><stop offset=".3008" stop-color="#00BA38"/><stop offset=".3423" stop-color="#00BA38" stop-opacity=".95"/><stop offset=".4585" stop-color="#00BA38" stop-opacity=".7"/><stop offset=".5166" stop-color="#00BA38" stop-opacity=".52"/><stop offset=".5539" stop-color="#00BA38" stop-opacity=".34"/><stop offset=".5913" stop-color="#00BA38" stop-opacity=".06"/><stop offset=".5975" stop-color="#00BA38" stop-opacity=".03"/><stop offset=".5975" stop-color="#619CFF" stop-opacity=".03"/><stop offset=".6037" stop-color="#619CFF" stop-opacity=".06"/><stop offset=".6203" stop-color="#619CFF" stop-opacity=".23"/><stop offset=".6701" stop-color="#619CFF" stop-opacity=".79"/><stop offset=".6867" stop-color="#619CFF" stop-opacity=".91"/><stop offset=".7033" stop-color="#619CFF" stop-opacity=".98"/><stop offset=".7199" stop-color="#619CFF"/><stop offset=".8444" stop-color="#619CFF"/><stop offset=".8485" stop-color="#619CFF" stop-opacity=".83"/><stop offset=".8527" stop-color="#619CFF" stop-opacity=".74"/><stop offset=".8568" stop-color="#619CFF" stop-opacity=".78"/><stop offset=".861" stop-color="#619CFF" stop-opacity=".94"/><stop offset=".8651" stop-color="#619CFF"/><stop offset="1" stop-color="#619CFF"/></linearGradient>
<linearGradient id="r29" gradientUnits="userSpaceOnUse" x1="143.04" x2="1063.91" y1="0" y2="0"><stop offset="0" stop-color="#F8766D"/><stop offset=".1286" stop-color="#F8766D"/><stop offset=".1286" stop-color="#00BA38"/><stop offset=".3133" stop-color="#00BA38" stop-opacity=".99"/><stop offset=".3423" stop-color="#00BA38" stop-opacity=".96"/><stop offset=".3797" stop-color="#00BA38" stop-opacity=".87"/><stop offset=".4378" stop-color="#00BA38" stop-opacity=".77"/><stop offset=".4751" stop-color="#00BA38" stop-opacity=".67"/><stop offset=".529" stop-color="#00BA38" stop-opacity=".48"/><stop offset=".5539" stop-color="#00BA38" stop-opacity=".35"/><stop offset=".5913" stop-color="#00BA38" stop-opacity=".06"/><stop offset=".5975" stop-color="#00BA38" stop-opacity=".03"/><stop offset=".5975" stop-color="#619CFF" stop-opacity=".03"/><stop offset=".6037" stop-color="#619CFF" stop-opacity=".06"/><stop offset=".6162" stop-color="#619CFF" stop-opacity=".18"/><stop offset=".6701" stop-color="#619CFF" stop-opacity=".79"/><stop offset=".6867" stop-color="#619CFF" stop-opacity=".91"/><stop offset=".7033" stop-color="#619CFF" stop-opacity=".98"/><stop offset=".7241" stop-color="#619CFF"/><stop offset=".8485" stop-color="#619CFF"/><stop offset=".8527" stop-color="#619CFF" stop-opacity=".95"/><stop offset=".861" stop-color="#619CFF"/><stop offset="1" stop-color="#619CFF"/></linearGradient>
<linearGradient id="r30" gradientUnits="userSpaceOnUse" x1="143.04" x2="1063.91" y1="0" y2="0"><stop offset="0" stop-color="#F8766D"/><stop offset=".1286" stop-color="#F8766D"/><stop offset=".1286" stop-color="#00BA38"/><stop offset=".3091" stop-color="#00BA38"/><stop offset=".3465" stop-color="#00BA38" stop-opacity=".95"/><stop offset=".4419" stop-color="#00BA38" stop-opacity=".77"/><stop offset=".4751" stop-color="#00BA38" stop-opacity=".69"/><stop offset=".529" stop-color="#00BA38" stop-opacity=".49"/><stop offset=".5539" stop-color="#00BA38" stop-opacity=".36"/><stop offset=".5913" stop-color="#00BA38" stop-opacity=".06"/><stop offset=".5975" stop-color="#00BA38" stop-opacity=".03"/><stop offset=".5975" stop-color="#619CFF" stop-opacity=".03"/><stop offset=".6037" stop-color="#619CFF" stop-opacity=".06"/><stop offset=".6162" stop-color="#619CFF" stop-opacity=".18"/><stop offset=".6701" stop-color="#619CFF" stop-opacity=".79"/><stop offset=".6867" stop-color="#619CFF" stop-opacity=".91"/><stop offset=".7033" stop-color="#619CFF" stop-opacity=".98"/><stop offset=".7241" stop-color="#619CFF"/><stop offset="1" stop-color="#619CFF"/></linearGradient>
<linearGradient id="r31" gradientUnits="userSpaceOnUse" x1="143.04" x2="1063.91" y1="0" y2="0"><stop offset="0" stop-color="#F8766D"/><stop offset=".1286" stop-color="#F8766D"/><stop offset=".1286" stop-color="#00BA38"/><stop offset=".3091" stop-color="#00BA38" stop-opacity=".99"/><stop offset=".3465" stop-color="#00BA38" stop-opacity=".95"/><stop offset=".4502" stop-color="#00BA38" stop-opacity=".76"/><stop offset=".4793" stop-color="#00BA38" stop-opacity=".69"/><stop offset=".529" stop-color="#00BA38" stop-opacity=".51"/><stop offset=".5539" stop-color="#00BA38" stop-opacity=".37"/><stop offset=".5913" stop-color="#00BA38" stop-opacity=".06"/><stop offset=".5975" stop-color="#00BA38" stop-opacity=".03"/><stop offset=".5975" stop-color="#619CFF" stop-opacity=".03"/><stop offset=".6037" stop-color="#619CFF" stop-opacity=".06"/><stop offset=".6162" stop-color="#619CFF" stop-opacity=".18"/><stop offset=".6701" stop-color="#619CFF" stop-opacity=".79"/><stop offset=".6867" stop-color="#619CFF" stop-opacity=".91"/><stop offset=".7033" stop-color="#619CFF" stop-opacity=".98"/><stop offset=".7282" stop-color="#619CFF"/><stop offset="1" stop-color="#619CFF"/></linearGradient>
<linearGradient id="r32" gradientUnits="userSpaceOnUse" x1="143.04" x2="1063.91" y1="0" y2="0"><stop offset="0" stop-color="#F8766D"/><stop offset=".1328" stop-color="#F8766D"/><stop offset=".1328" stop-color="#00BA38"/><stop offset=".3091" stop-color="#00BA38" stop-opacity=".99"/><stop offset=".3506" stop-color="#00BA38" stop-opacity=".95"/><stop offset=".4585" stop-color="#00BA38" stop-opacity=".76"/><stop offset=".5" stop-color="#00BA38" stop-opacity=".63"/><stop offset=".5332" stop-color="#00BA38" stop-opacity=".49"/><stop offset=".5539" stop-color="#00BA38" stop-opacity=".37"/><stop offset=".5913" stop-color="#00BA38" stop-opacity=".06"/><stop offset=".5975" stop-color="#00BA38" stop-opacity=".03"/><stop offset=".5975" stop-color="#619CFF" stop-opacity=".03"/><stop offset=".5996" stop-color="#619CFF" stop-opacity=".03"/><stop offset=".6079" stop-color="#619CFF" stop-opacity=".1"/><stop offset=".6701" stop-color="#619CFF" stop-opacity=".79"/><stop offset=".6867" stop-color="#619CFF" stop-opacity=".91"/><stop offset=".7033" stop-color="#619CFF" stop-opacity=".98"/><stop offset=".7282" stop-color="#619CFF"/><stop offset="1" stop-color="#619CFF"/></linearGradient>
<linearGradient id="r33" gradientUnits="userSpaceOnUse" x1="143.04" x2="1063.91" y1="0" y2="0"><stop offset="0" stop-color="#F8766D"/><stop offset=".1328" stop-color="#F8766D"/><stop offset=".1328" stop-color="#00BA38"/><stop offset=".3091" stop-color="#00BA38" stop-opacity=".99"/><stop offset=".3548" stop-color="#00BA38" stop-opacity=".94"/><stop offset=".4627" stop-color="#00BA38" stop-opacity=".76"/><stop offset=".4959" stop-color="#00BA38" stop-opacity=".66"/><stop offset=".529" stop-color="#00BA38" stop-opacity=".52"/><stop offset=".5539" stop-color="#00BA38" stop-opacity=".38"/><stop offset=".5913" stop-color="#00BA38" stop-opacity=".06"/><stop offset=".5975" stop-color="#00BA38" stop-opacity=".03"/><stop offset=".5975" stop-color="#619CFF" stop-opacity=".03"/><stop offset=".5996" stop-color="#619CFF" stop-opacity=".03"/><stop offset=".6079" stop-color="#619CFF" stop-opacity=".1"/><stop offset=".6535" stop-color="#619CFF" stop-opacity=".62"/><stop offset=".6701" stop-color="#619CFF" stop-opacity=".79"/><stop offset=".6867" stop-color="#619CFF" stop-opacity=".91"/><stop offset=".7033" stop-color="#619CFF" stop-opacity=".98"/><stop offset=".7324" stop-color="#619CFF"/><stop offset="1" stop-color="#619CFF"/></linearGradient>
<linearGradient id="r34" gradientUnits="userSpaceOnUse" x1="143.04" x2="1063.91" y1="0" y2="0"><stop offset="0" stop-color="#F8766D"/><stop offset=".1369" stop-color="#F8766D"/><stop offset=".1369" stop-color="#00BA38"/><stop offset=".305" stop-color="#00BA38" stop-opacity=".99"/><stop offset=".3921" stop-color="#00BA38" stop-opacity=".89"/><stop offset=".4668" stop-color="#00BA38" stop-opacity=".76"/><stop offset=".4959" stop-color="#00BA38" stop-opacity=".67"/><stop offset=".529" stop-color="#00BA38" stop-opacity=".53"/><stop offset=".5539" stop-color="#00BA38" stop-opacity=".37"/><stop offset=".5913" stop-color="#00BA38" stop-opacity=".05"/><stop offset=".5975" stop-color="#00BA38" stop-opacity=".02"/><stop offset=".5975" stop-color="#619CFF" stop-opacity=".03"/><stop offset=".6037" stop-color="#619CFF" stop-opacity=".06"/><stop offset=".6535" stop-color="#619CFF" stop-opacity=".62"/><stop offset=".6701" stop-color="#619CFF" stop-opacity=".79"/><stop offset=".6867" stop-color="#619CFF" stop-opacity=".91"/><stop offset=".7033" stop-color="#619CFF" stop-opacity=".97"/><stop offset=".7324" stop-color="#619CFF"/><stop offset="1" stop-color="#619CFF"/></linearGradient>
<linearGradient id="r35" gradientUnits="userSpaceOnUse" x1="143.04" x2="1063.91" y1="0" y2="0"><stop offset="0" stop-color="#F8766D"/><stop offset=".1369" stop-color="#F8766D"/><stop offset=".1369" stop-color="#00BA38"/><stop offset=".305" stop-color="#00BA38" stop-opacity=".99"/><stop offset=".3921" stop-color="#00BA38" stop-opacity=".9"/><stop offset=".4668" stop-color="#00BA38" stop-opacity=".77"/><stop offset=".4959" stop-color="#00BA38" stop-opacity=".68"/><stop offset=".5249" stop-color="#00BA38" stop-opacity=".55"/><stop offset=".5539" stop-color="#00BA38" stop-opacity=".36"/><stop offset=".5788" stop-color="#00BA38" stop-opacity=".14"/><stop offset=".5913" stop-color="#00BA38" stop-opacity=".05"/><stop offset=".5975" stop-color="#00BA38" stop-opacity=".02"/><stop offset=".5975" stop-color="#619CFF" stop-opacity=".03"/><stop offset=".6037" stop-color="#619CFF" stop-opacity=".07"/><stop offset=".6535" stop-color="#619CFF" stop-opacity=".62"/><stop offset=".6701" stop-color="#619CFF" stop-opacity=".79"/><stop offset=".6867" stop-color="#619CFF" stop-opacity=".91"/><stop offset=".7033" stop-color="#619CFF" stop-opacity=".97"/><stop offset=".7324" stop-color="#619CFF"/><stop offset="1" stop-color="#619CFF"/></linearGradient>
<linearGradient id="r36" gradientUnits="userSpaceOnUse" x1="143.04" x2="1063.91" y1="0" y2="0"><stop offset="0" stop-color="#F8766D"/><stop offset=".1411" stop-color="#F8766D"/><stop offset=".1411" stop-color="#00BA38"/><stop offset=".305" stop-color="#00BA38" stop-opacity=".99"/><stop offset=".3963" stop-color="#00BA38" stop-opacity=".9"/><stop offset=".4668" stop-color="#00BA38" stop-opacity=".78"/><stop offset=".4959" stop-color="#00BA38" stop-opacity=".69"/><stop offset=".5249" stop-color="#00BA38" stop-opacity=".54"/><stop offset=".5539" stop-color="#00BA38" stop-opacity=".35"/><stop offset=".5788" stop-color="#00BA38" stop-opacity=".12"/><stop offset=".5934" stop-color="#00BA38" stop-opacity=".04"/><stop offset=".5934" stop-color="#619CFF" stop-opacity=".02"/><stop offset=".5996" stop-color="#619CFF" stop-opacity=".04"/><stop offset=".6037" stop-color="#619CFF" stop-opacity=".07"/><stop offset=".6535" stop-color="#619CFF" stop-opacity=".62"/><stop offset=".6701" stop-color="#619CFF" stop-opacity=".79"/><stop offset=".6867" stop-color="#619CFF" stop-opacity=".91"/><stop offset=".7033" stop-color="#619CFF" stop-opacity=".98"/><stop offset=".7324" stop-color="#619CFF"/><stop offset="1" stop-color="#619CFF"/></linearGradient>
<linearGradient id="r37" gradientUnits="userSpaceOnUse" x1="143.04" x2="1063.91" y1="0" y2="0"><stop offset="0" stop-color="#F8766D"/><stop offset=".1411" stop-color="#F8766D"/><stop offset=".1411" stop-color="#00BA38"/><stop offset=".3008" stop-color="#00BA38" stop-opacity=".99"/><stop offset=".3963" stop-color="#00BA38" stop-opacity=".9"/><stop offset=".4668" stop-color="#00BA38" stop-opacity=".78"/><stop offset=".4959" stop-color="#00BA38" stop-opacity=".69"/><stop offset=".5249" stop-color="#00BA38" stop-opacity=".54"/><stop offset=".5539" stop-color="#00BA38" stop-opacity=".32"/><stop offset=".5788" stop-color="#00BA38" stop-opacity=".09"/><stop offset=".5934" stop-color="#00BA38" stop-opacity=".02"/><stop offset=".5934" stop-color="#619CFF" stop-opacity=".03"/><stop offset=".6037" stop-color="#619CFF" stop-opacity=".08"/><stop offset=".6535" stop-color="#619CFF" stop-opacity=".63"/><stop offset=".6701" stop-color="#619CFF" stop-opacity=".79"/><stop offset=".6867" stop-color="#619CFF" stop-opacity=".91"/><stop offset=".7033" stop-color="#619CFF" stop-opacity=".98"/><stop offset=".7324" stop-color="#619CFF"/><stop offset="1" stop-color="#619CFF"/></linearGradient>
<linearGradient id="r38" gradientUnits="userSpaceOnUse" x1="143.04" x2="1063.91" y1="0" y2="0"><stop offset="0" stop-color="#F8766D"/><stop offset=".1452" stop-color="#F8766D"/><stop offset=".1452" stop-color="#00BA38"/><stop offset=".3008" stop-color="#00BA38" stop-opacity=".99"/><stop offset=".4046" stop-color="#00BA38" stop-opacity=".9"/><stop offset=".471" stop-color="#00BA38" stop-opacity=".78"/><stop offset=".5" stop-color="#00BA38" stop-opacity=".68"/><stop offset=".5249" stop-color="#00BA38" stop-opacity=".53"/><stop offset=".5539" stop-color="#00BA38" stop-opacity=".3"/><stop offset=".5788" stop-color="#00BA38" stop-opacity=".06"/><stop offset=".5892" stop-color="#00BA38" stop-opacity=".02"/><stop offset=".5892" stop-color="#619CFF" stop-opacity=".02"/><stop offset=".5954" stop-color="#619CFF" stop-opacity=".04"/><stop offset=".6037" stop-color="#619CFF" stop-opacity=".1"/><stop offset=".6535" stop-color="#619CFF" stop-opacity=".63"/><stop offset=".6743" stop-color="#619CFF" stop-opacity=".83"/><stop offset=".6867" stop-color="#619CFF" stop-opacity=".91"/><stop offset=".7033" stop-color="#619CFF" stop-opacity=".98"/><stop offset=".7324" stop-color="#619CFF"/><stop offset="1" stop-color="#619CFF"/></linearGradient>
<linearGradient id="r39" gradientUnits="userSpaceOnUse" x1="143.04" x2="1063.91" y1="0" y2="0"><stop offset="0" stop-color="#F8766D"/><stop offset=".1452" stop-color="#F8766D"/><stop offset=".1452" stop-color="#00BA38"/><stop offset=".3008" stop-color="#00BA38" stop-opacity=".99"/><stop offset=".4087" stop-color="#00BA38" stop-opacity=".89"/><stop offset=".471" stop-color="#00BA38" stop-opacity=".78"/><stop offset=".5" stop-color="#00BA38" stop-opacity=".68"/><stop offset=".5249" stop-color="#00BA38" stop-opacity=".53"/><stop offset=".5747" stop-color="#00BA38" stop-opacity=".07"/><stop offset=".5851" stop-color="#00BA38" stop-opacity=".02"/><stop offset=".5851" stop-color="#619CFF" stop-opacity=".02"/><stop offset=".5954" stop-color="#619CFF" stop-opacity=".05"/><stop offset=".6037" stop-color="#619CFF" stop-opacity=".12"/><stop offset=".6535" stop-color="#619CFF" stop-opacity=".64"/><stop offset=".6743" stop-color="#619CFF" stop-opacity=".83"/><stop offset=".6867" stop-color="#619CFF" stop-opacity=".92"/><stop offset=".7033" stop-color="#619CFF" stop-opacity=".98"/><stop offset=".7324" stop-color="#619CFF"/><stop offset="1" stop-color="#619CFF"/></linearGradient>
<linearGradient id="r40" gradientUnits="userSpaceOnUse" x1="143.04" x2="1063.91" y1="0" y2="0"><stop offset="0" stop-color="#F8766D"/><stop offset=".1494" stop-color="#F8766D"/><stop offset=".1494" stop-color="#00BA38"/><stop offset=".2967" stop-color="#00BA38" stop-opacity=".99"/><stop offset=".4087" stop-color="#00BA38" stop-opacity=".89"/><stop offset=".4668" stop-color="#00BA38" stop-opacity=".79"/><stop offset=".5" stop-color="#00BA38" stop-opacity=".68"/><stop offset=".5249" stop-color="#00BA38" stop-opacity=".52"/><stop offset=".5498" stop-color="#00BA38" stop-opacity=".29"/><stop offset=".5664" stop-color="#00BA38" stop-opacity=".11"/><stop offset=".5747" stop-color="#00BA38" stop-opacity=".04"/><stop offset=".5809" stop-color="#00BA38" stop-opacity=".02"/><stop offset=".5809" stop-color="#619CFF" stop-opacity=".03"/><stop offset=".5913" stop-color="#619CFF" stop-opacity=".05"/><stop offset=".6037" stop-color="#619CFF" stop-opacity=".13"/><stop offset=".6535" stop-color="#619CFF" stop-opacity=".65"/><stop offset=".6743" stop-color="#619CFF" stop-opacity=".84"/><stop offset=".6867" stop-color="#619CFF" stop-opacity=".92"/><stop offset=".7033" stop-color="#619CFF" stop-opacity=".98"/><stop offset=".7324" stop-color="#619CFF"/><stop offset="1" stop-color="#619CFF"/></linearGradient>
<linearGradient id="r41" gradientUnits="userSpaceOnUse" x1="143.04" x2="1063.91" y1="0" y2="0"><stop offset="0" stop-color="#F8766D"/><stop offset=".1494" stop-color="#F8766D"/><stop offset=".1494" stop-color="#00BA38"/><stop offset=".2801" stop-color="#00BA38" stop-opacity=".99"/><stop offset=".4129" stop-color="#00BA38" stop-opacity=".88"/><stop offset=".4668" stop-color="#00BA38" stop-opacity=".79"/><stop offset=".5" stop-color="#00BA38" stop-opacity=".67"/><stop offset=".5249" stop-color="#00BA38" stop-opacity=".51"/><stop offset=".5332" stop-color="#00BA38" stop-opacity=".44"/><stop offset=".5622" stop-color="#00BA38" stop-opacity=".12"/><stop offset=".5705" stop-color="#00BA38" stop-opacity=".05"/><stop offset=".5768" stop-color="#00BA38" stop-opacity=".02"/><stop offset=".5768" stop-color="#619CFF" stop-opacity=".04"/><stop offset=".5913" stop-color="#619CFF" stop-opacity=".07"/><stop offset=".6037" stop-color="#619CFF" stop-opacity=".16"/><stop offset=".6535" stop-color="#619CFF" stop-opacity=".66"/><stop offset=".6743" stop-color="#619CFF" stop-opacity=".84"/><stop offset=".6867" stop-color="#619CFF" stop-opacity=".92"/><stop offset=".7033" stop-color="#619CFF" stop-opacity=".98"/><stop offset=".7324" stop-color="#619CFF"/><stop offset="1" stop-color="#619CFF"/></linearGradient>
<linearGradient id="r42" gradientUnits="userSpaceOnUse" x1="143.04" x2="1063.91" y1="0" y2="0"><stop offset="0" stop-color="#F8766D"/><stop offset=".1494" stop-color="#F8766D"/><stop offset=".1494" stop-color="#00BA38"/><stop offset=".2718" stop-color="#00BA38"/><stop offset=".417" stop-color="#00BA38" stop-opacity=".87"/><stop offset=".4668" stop-color="#00BA38" stop-opacity=".78"/><stop offset=".5" stop-color="#00BA38" stop-opacity=".65"/><stop offset=".5249" stop-color="#00BA38" stop-opacity=".5"/><stop offset=".5332" stop-color="#00BA38" stop-opacity=".42"/><stop offset=".5622" stop-color="#00BA38" stop-opacity=".09"/><stop offset=".5726" stop-color="#00BA38" stop-opacity=".03"/><stop offset=".5726" stop-color="#619CFF" stop-opacity=".04"/><stop offset=".5871" stop-color="#619CFF" stop-opacity=".09"/><stop offset=".5996" stop-color="#619CFF" stop-opacity=".16"/><stop offset=".612" stop-color="#619CFF" stop-opacity=".26"/><stop offset=".6494" stop-color="#619CFF" stop-opacity=".63"/><stop offset=".6701" stop-color="#619CFF" stop-opacity=".81"/><stop offset=".6867" stop-color="#619CFF" stop-opacity=".92"/><stop offset=".7033" stop-color="#619CFF" stop-opacity=".98"/><stop offset=".7324" stop-color="#619CFF"/><stop offset="1" stop-color="#619CFF"/></linearGradient>
<linearGradient id="r43" gradientUnits="userSpaceOnUse" x1="143.04" x2="1063.91" y1="0" y2="0"><stop offset="0" stop-color="#F8766D"/><stop offset=".1535" stop-color="#F8766D"/><stop offset=".1535" stop-color="#00BA38"/><stop offset=".2676" stop-color="#00BA38"/><stop offset=".3382" stop-color="#00BA38" stop-opacity=".91"/><stop offset=".417" stop-color="#00BA38" stop-opacity=".85"/><stop offset=".4627" stop-color="#00BA38" stop-opacity=".77"/><stop offset=".5" stop-color="#00BA38" stop-opacity=".63"/><stop offset=".5207" stop-color="#00BA38" stop-opacity=".49"/><stop offset=".5332" stop-color="#00BA38" stop-opacity=".38"/><stop offset=".5581" stop-color="#00BA38" stop-opacity=".08"/><stop offset=".5643" stop-color="#00BA38" stop-opacity=".06"/><stop offset=".5643" stop-color="#619CFF" stop-opacity=".02"/><stop offset=".5705" stop-color="#619CFF" stop-opacity=".04"/><stop offset=".5996" stop-color="#619CFF" stop-opacity=".19"/><stop offset=".612" stop-color="#619CFF" stop-opacity=".29"/><stop offset=".6494" stop-color="#619CFF" stop-opacity=".64"/><stop offset=".6701" stop-color="#619CFF" stop-opacity=".82"/><stop offset=".6867" stop-color="#619CFF" stop-opacity=".92"/><stop offset=".7033" stop-color="#619CFF" stop-opacity=".98"/><stop offset=".7324" stop-color="#619CFF"/><stop offset="1" stop-color="#619CFF"/></linearGradient>
<linearGradient id="r44" gradientUnits="userSpaceOnUse" x1="143.04" x2="1063.91" y1="0" y2="0"><stop offset="0" stop-color="#F8766D"/><stop offset=".1535" stop-color="#F8766D"/><stop offset=".1535" stop-color="#00BA38"/><stop offset=".2676" stop-color="#00BA38" stop-opacity=".99"/><stop offset=".334" stop-color="#00BA38" stop-opacity=".88"/><stop offset=".417" stop-color="#00BA38" stop-opacity=".81"/><stop offset=".4627" stop-color="#00BA38" stop-opacity=".73"/><stop offset=".5041" stop-color="#00BA38" stop-opacity=".55"/><stop offset=".5249" stop-color="#00BA38" stop-opacity=".4"/><stop offset=".5498" stop-color="#00BA38" stop-opacity=".12"/><stop offset=".5581" stop-color="#00BA38" stop-opacity=".04"/><stop offset=".5602" stop-color="#00BA38" stop-opacity=".04"/><stop offset=".5602" stop-color="#619CFF" stop-opacity=".03"/><stop offset=".5705" stop-color="#619CFF" stop-opacity=".06"/><stop offset=".6037" stop-color="#619CFF" stop-opacity=".26"/><stop offset=".6535" stop-color="#619CFF" stop-opacity=".69"/><stop offset=".6743" stop-color="#619CFF" stop-opacity=".85"/><stop offset=".6867" stop-color="#619CFF" stop-opacity=".92"/><stop offset=".7033" stop-color="#619CFF" stop-opacity=".97"/><stop offset=".7365" stop-color="#619CFF"/><stop offset="1" stop-color="#619CFF"/></linearGradient>
<linearGradient id="r45" gradientUnits="userSpaceOnUse" x1="143.04" x2="1063.91" y1="0" y2="0"><stop offset="0" stop-color="#F8766D"/><stop offset=".1577" stop-color="#F8766D"/><stop offset=".1577" stop-color="#00BA38"/><stop offset=".2635" stop-color="#00BA38" stop-opacity=".99"/><stop offset=".2884" stop-color="#00BA38" stop-opacity=".93"/><stop offset=".334" stop-color="#00BA38" stop-opacity=".85"/><stop offset=".4212" stop-color="#00BA38" stop-opacity=".77"/><stop offset=".4585" stop-color="#00BA38" stop-opacity=".7"/><stop offset=".471" stop-color="#00BA38" stop-opacity=".67"/><stop offset=".5" stop-color="#00BA38" stop-opacity=".52"/><stop offset=".5249" stop-color="#00BA38" stop-opacity=".33"/><stop offset=".5456" stop-color="#00BA38" stop-opacity=".09"/><stop offset=".5519" stop-color="#00BA38" stop-opacity=".07"/><stop offset=".5519" stop-color="#619CFF" stop-opacity=".02"/><stop offset=".5664" stop-color="#619CFF" stop-opacity=".07"/><stop offset=".5996" stop-color="#619CFF" stop-opacity=".26"/><stop offset=".6535" stop-color="#619CFF" stop-opacity=".71"/><stop offset=".6743" stop-color="#619CFF" stop-opacity=".86"/><stop offset=".6867" stop-color="#619CFF" stop-opacity=".92"/><stop offset=".7033" stop-color="#619CFF" stop-opacity=".97"/><stop offset=".7365" stop-color="#619CFF"/><stop offset="1" stop-color="#619CFF"/></linearGradient>
<linearGradient id="r46" gradientUnits="userSpaceOnUse" x1="143.04" x2="1063.91" y1="0" y2="0"><stop offset="0" stop-color="#F8766D"/><stop offset=".1577" stop-color="#F8766D"/><stop offset=".1577" stop-color="#00BA38"/><stop offset=".2593" stop-color="#00BA38" stop-opacity=".99"/><stop offset=".2925" stop-color="#00BA38" stop-opacity=".9"/><stop offset=".334" stop-color="#00BA38" stop-opacity=".81"/><stop offset=".4212" stop-color="#00BA38" stop-opacity=".73"/><stop offset=".4544" stop-color="#00BA38" stop-opacity=".67"/><stop offset=".471" stop-color="#00BA38" stop-opacity=".62"/><stop offset=".5" stop-color="#00BA38" stop-opacity=".46"/><stop offset=".5249" stop-color="#00BA38" stop-opacity=".25"/><stop offset=".5373" stop-color="#00BA38" stop-opacity=".11"/><stop offset=".5456" stop-color="#00BA38" stop-opacity=".04"/><stop offset=".5477" stop-color="#00BA38" stop-opacity=".04"/><stop offset=".5477" stop-color="#619CFF" stop-opacity=".03"/><stop offset=".5581" stop-color="#619CFF" stop-opacity=".05"/><stop offset=".5996" stop-color="#619CFF" stop-opacity=".29"/><stop offset=".6701" stop-color="#619CFF" stop-opacity=".84"/><stop offset=".6867" stop-color="#619CFF" stop-opacity=".92"/><stop offset=".7033" stop-color="#619CFF" stop-opacity=".97"/><stop offset=".7365" stop-color="#619CFF"/><stop offset="1" stop-color="#619CFF"/></linearGradient>
<linearGradient id="r47" gradientUnits="userSpaceOnUse" x1="143.04" x2="1063.91" y1="0" y2="0"><stop offset="0" stop-color="#F8766D"/><stop offset=".1618" stop-color="#F8766D"/><stop offset=".1618" stop-color="#00BA38"/><stop offset=".2593" stop-color="#00BA38" stop-opacity=".99"/><stop offset=".2925" stop-color="#00BA38" stop-opacity=".88"/><stop offset=".334" stop-color="#00BA38" stop-opacity=".77"/><stop offset=".4253" stop-color="#00BA38" stop-opacity=".68"/><stop offset=".4544" stop-color="#00BA38" stop-opacity=".63"/><stop offset=".471" stop-color="#00BA38" stop-opacity=".57"/><stop offset=".5" stop-color="#00BA38" stop-opacity=".4"/><stop offset=".5373" stop-color="#00BA38" stop-opacity=".06"/><stop offset=".5394" stop-color="#00BA38" stop-opacity=".06"/><stop offset=".5394" stop-color="#619CFF" stop-opacity=".02"/><stop offset=".5581" stop-color="#619CFF" stop-opacity=".07"/><stop offset=".5996" stop-color="#619CFF" stop-opacity=".33"/><stop offset=".6701" stop-color="#619CFF" stop-opacity=".84"/><stop offset=".6867" stop-color="#619CFF" stop-opacity=".92"/><stop offset=".7033" stop-color="#619CFF" stop-opacity=".97"/><stop offset=".7365" stop-color="#619CFF"/><stop offset="1" stop-color="#619CFF"/></linearGradient>
<linearGradient id="r48" gradientUnits="userSpaceOnUse" x1="143.04" x2="1063.91" y1="0" y2="0"><stop offset="0" stop-color="#F8766D"/><stop offset=".1618" stop-color="#F8766D"/><stop offset=".1618" stop-color="#00BA38"/><stop offset=".2552" stop-color="#00BA38" stop-opacity=".99"/><stop offset=".2676" stop-color="#00BA38" stop-opacity=".96"/><stop offset=".2884" stop-color="#00BA38" stop-opacity=".87"/><stop offset=".334" stop-color="#00BA38" stop-opacity=".73"/><stop offset=".4502" stop-color="#00BA38" stop-opacity=".59"/><stop offset=".4751" stop-color="#00BA38" stop-opacity=".49"/><stop offset=".5" stop-color="#00BA38" stop-opacity=".34"/><stop offset=".5207" stop-color="#00BA38" stop-opacity=".14"/><stop offset=".5311" stop-color="#00BA38" stop-opacity=".08"/><stop offset=".5311" stop-color="#619CFF" stop-opacity=".01"/><stop offset=".5415" stop-color="#619CFF" stop-opacity=".02"/><stop offset=".5581" stop-color="#619CFF" stop-opacity=".1"/><stop offset=".6037" stop-color="#619CFF" stop-opacity=".39"/><stop offset=".666" stop-color="#619CFF" stop-opacity=".82"/><stop offset=".6826" stop-color="#619CFF" stop-opacity=".91"/><stop offset=".7033" stop-color="#619CFF" stop-opacity=".97"/><stop offset=".7407" stop-color="#619CFF"/><stop offset="1" stop-color="#619CFF"/></linearGradient>
<linearGradient id="r49" gradientUnits="userSpaceOnUse" x1="143.04" x2="1063.91" y1="0" y2="0"><stop offset="0" stop-color="#F8766D"/><stop offset=".166" stop-color="#F8766D"/><stop offset=".166" stop-color="#00BA38"/><stop offset=".2552" stop-color="#00BA38" stop-opacity=".99"/><stop offset=".2676" stop-color="#00BA38" stop-opacity=".95"/><stop offset=".2884" stop-color="#00BA38" stop-opacity=".86"/><stop offset=".334" stop-color="#00BA38" stop-opacity=".7"/><stop offset=".4502" stop-color="#00BA38" stop-opacity=".54"/><stop offset=".4751" stop-color="#00BA38" stop-opacity=".44"/><stop offset=".5" stop-color="#00BA38" stop-opacity=".27"/><stop offset=".5166" stop-color="#00BA38" stop-opacity=".11"/><stop offset=".527" stop-color="#00BA38" stop-opacity=".06"/><stop offset=".527" stop-color="#619CFF" stop-opacity=".01"/><stop offset=".5415" stop-color="#619CFF" stop-opacity=".04"/><stop offset=".5581" stop-color="#619CFF" stop-opacity=".12"/><stop offset=".6494" stop-color="#619CFF" stop-opacity=".73"/><stop offset=".6701" stop-color="#619CFF" stop-opacity=".85"/><stop offset=".6867" stop-color="#619CFF" stop-opacity=".92"/><stop offset=".7033" stop-color="#619CFF" stop-opacity=".97"/><stop offset=".7407" stop-color="#619CFF"/><stop offset="1" stop-color="#619CFF"/></linearGradient>
<linearGradient id="r50" gradientUnits="userSpaceOnUse" x1="143.04" x2="1063.91" y1="0" y2="0"><stop offset="0" stop-color="#F8766D"/><stop offset=".166" stop-color="#F8766D"/><stop offset=".166" stop-color="#00BA38"/><stop offset=".2386" stop-color="#00BA38"/><stop offset=".2552" stop-color="#00BA38" stop-opacity=".98"/><stop offset=".2676" stop-color="#00BA38" stop-opacity=".95"/><stop offset=".2884" stop-color="#00BA38" stop-opacity=".85"/><stop offset=".334" stop-color="#00BA38" stop-opacity=".66"/><stop offset=".3631" stop-color="#00BA38" stop-opacity=".61"/><stop offset=".4461" stop-color="#00BA38" stop-opacity=".51"/><stop offset=".471" stop-color="#00BA38" stop-opacity=".42"/><stop offset=".4959" stop-color="#00BA38" stop-opacity=".24"/><stop offset=".5124" stop-color="#00BA38" stop-opacity=".09"/><stop offset=".5187" stop-color="#00BA38" stop-opacity=".07"/><stop offset=".5187" stop-color="#619CFF" stop-opacity=".01"/><stop offset=".5415" stop-color="#619CFF" stop-opacity=".06"/><stop offset=".6577" stop-color="#619CFF" stop-opacity=".79"/><stop offset=".6826" stop-color="#619CFF" stop-opacity=".91"/><stop offset=".7033" stop-color="#619CFF" stop-opacity=".97"/><stop offset=".7448" stop-color="#619CFF"/><stop offset="1" stop-color="#619CFF"/></linearGradient>
<linearGradient id="r51" gradientUnits="userSpaceOnUse" x1="143.04" x2="1063.91" y1="0" y2="0"><stop offset="0" stop-color="#F8766D"/><stop offset=".1701" stop-color="#F8766D"/><stop offset=".1701" stop-color="#00BA38"/><stop offset=".2386" stop-color="#00BA38"/><stop offset=".2552" stop-color="#00BA38" stop-opacity=".98"/><stop offset=".2676" stop-color="#00BA38" stop-opacity=".95"/><stop offset=".3216" stop-color="#00BA38" stop-opacity=".68"/><stop offset=".3382" stop-color="#00BA38" stop-opacity=".62"/><stop offset=".4461" stop-color="#00BA38" stop-opacity=".47"/><stop offset=".471" stop-color="#00BA38" stop-opacity=".37"/><stop offset=".5041" stop-color="#00BA38" stop-opacity=".1"/><stop offset=".5145" stop-color="#00BA38" stop-opacity=".05"/><stop offset=".5145" stop-color="#619CFF" stop-opacity=".02"/><stop offset=".5415" stop-color="#619CFF" stop-opacity=".08"/><stop offset=".6535" stop-color="#619CFF" stop-opacity=".78"/><stop offset=".6784" stop-color="#619CFF" stop-opacity=".9"/><stop offset=".7033" stop-color="#619CFF" stop-opacity=".97"/><stop offset=".7448" stop-color="#619CFF"/><stop offset="1" stop-color="#619CFF"/></linearGradient>
<linearGradient id="r52" gradientUnits="userSpaceOnUse" x1="143.04" x2="1063.91" y1="0" y2="0"><stop offset="0" stop-color="#F8766D"/><stop offset=".1701" stop-color="#F8766D"/><stop offset=".1701" stop-color="#00BA38"/><stop offset=".2386" stop-color="#00BA38"/><stop offset=".2593" stop-color="#00BA38" stop-opacity=".97"/><stop offset=".2718" stop-color="#00BA38" stop-opacity=".93"/><stop offset=".3174" stop-color="#00BA38" stop-opacity=".67"/><stop offset=".334" stop-color="#00BA38" stop-opacity=".6"/><stop offset=".3631" stop-color="#00BA38" stop-opacity=".54"/><stop offset=".4336" stop-color="#00BA38" stop-opacity=".46"/><stop offset=".4544" stop-color="#00BA38" stop-opacity=".4"/><stop offset=".471" stop-color="#00BA38" stop-opacity=".33"/><stop offset=".5" stop-color="#00BA38" stop-opacity=".08"/><stop offset=".5062" stop-color="#00BA38" stop-opacity=".06"/><stop offset=".5062" stop-color="#619CFF" stop-opacity=".01"/><stop offset=".5415" stop-color="#619CFF" stop-opacity=".11"/><stop offset=".6494" stop-color="#619CFF" stop-opacity=".76"/><stop offset=".6784" stop-color="#619CFF" stop-opacity=".9"/><stop offset=".7033" stop-color="#619CFF" stop-opacity=".97"/><stop offset=".749" stop-color="#619CFF"/><stop offset="1" stop-color="#619CFF"/></linearGradient>
<linearGradient id="r53" gradientUnits="userSpaceOnUse" x1="143.04" x2="1063.91" y1="0" y2="0"><stop offset="0" stop-color="#F8766D"/><stop offset=".1743" stop-color="#F8766D"/><stop offset=".1743" stop-color="#00BA38"/><stop offset=".2427" stop-color="#00BA38"/><stop offset=".2635" stop-color="#00BA38" stop-opacity=".96"/><stop offset=".2718" stop-color="#00BA38" stop-opacity=".93"/><stop offset=".3174" stop-color="#00BA38" stop-opacity=".65"/><stop offset=".334" stop-color="#00BA38" stop-opacity=".57"/><stop offset=".3631" stop-color="#00BA38" stop-opacity=".51"/><stop offset=".4336" stop-color="#00BA38" stop-opacity=".42"/><stop offset=".4585" stop-color="#00BA38" stop-opacity=".34"/><stop offset=".471" stop-color="#00BA38" stop-opacity=".28"/><stop offset=".4876" stop-color="#00BA38" stop-opacity=".13"/><stop offset=".5" stop-color="#00BA38" stop-opacity=".04"/><stop offset=".5021" stop-color="#00BA38" stop-opacity=".04"/><stop offset=".5021" stop-color="#619CFF" stop-opacity=".02"/><stop offset=".5124" stop-color="#619CFF" stop-opacity=".04"/><stop offset=".5415" stop-color="#619CFF" stop-opacity=".13"/><stop offset=".6079" stop-color="#619CFF" stop-opacity=".54"/><stop offset=".6494" stop-color="#619CFF" stop-opacity=".77"/><stop offset=".6784" stop-color="#619CFF" stop-opacity=".9"/><stop offset=".7033" stop-color="#619CFF" stop-opacity=".96"/><stop offset=".749" stop-color="#619CFF"/><stop offset="1" stop-color="#619CFF"/></linearGradient>
<linearGradient id="r54" gradientUnits="userSpaceOnUse" x1="143.04" x2="1063.91" y1="0" y2="0"><stop offset="0" stop-color="#F8766D"/><stop offset=".1743" stop-color="#F8766D"/><stop offset=".1743" stop-color="#00BA38"/><stop offset=".2427" stop-color="#00BA38"/><stop offset=".2635" stop-color="#00BA38" stop-opacity=".97"/><stop offset=".2759" stop-color="#00BA38" stop-opacity=".91"/><stop offset=".3174" stop-color="#00BA38" stop-opacity=".63"/><stop offset=".334" stop-color="#00BA38" stop-opacity=".55"/><stop offset=".3631" stop-color="#00BA38" stop-opacity=".48"/><stop offset=".4253" stop-color="#00BA38" stop-opacity=".4"/><stop offset=".4419" stop-color="#00BA38" stop-opacity=".36"/><stop offset=".471" stop-color="#00BA38" stop-opacity=".24"/><stop offset=".4876" stop-color="#00BA38" stop-opacity=".09"/><stop offset=".4938" stop-color="#00BA38" stop-opacity=".06"/><stop offset=".4938" stop-color="#619CFF" stop-opacity=".01"/><stop offset=".5083" stop-color="#619CFF" stop-opacity=".04"/><stop offset=".5415" stop-color="#619CFF" stop-opacity=".16"/><stop offset=".6037" stop-color="#619CFF" stop-opacity=".53"/><stop offset=".6452" stop-color="#619CFF" stop-opacity=".75"/><stop offset=".6784" stop-color="#619CFF" stop-opacity=".9"/><stop offset=".7033" stop-color="#619CFF" stop-opacity=".96"/><stop offset=".7531" stop-color="#619CFF"/><stop offset="1" stop-color="#619CFF"/></linearGradient>
<linearGradient id="r55" gradientUnits="userSpaceOnUse" x1="143.04" x2="1063.91" y1="0" y2="0"><stop offset="0" stop-color="#F8766D"/><stop offset=".1784" stop-color="#F8766D"/><stop offset=".1784" stop-color="#00BA38"/><stop offset=".2469" stop-color="#00BA38"/><stop offset=".2676" stop-color="#00BA38" stop-opacity=".96"/><stop offset=".2759" stop-color="#00BA38" stop-opacity=".92"/><stop offset=".3174" stop-color="#00BA38" stop-opacity=".6"/><stop offset=".334" stop-color="#00BA38" stop-opacity=".52"/><stop offset=".3631" stop-color="#00BA38" stop-opacity=".45"/><stop offset=".4378" stop-color="#00BA38" stop-opacity=".33"/><stop offset=".4668" stop-color="#00BA38" stop-opacity=".23"/><stop offset=".4834" stop-color="#00BA38" stop-opacity=".08"/><stop offset=".4896" stop-color="#00BA38" stop-opacity=".06"/><stop offset=".4896" stop-color="#619CFF" stop-opacity=".01"/><stop offset=".5083" stop-color="#619CFF" stop-opacity=".06"/><stop offset=".5456" stop-color="#619CFF" stop-opacity=".2"/><stop offset=".5996" stop-color="#619CFF" stop-opacity=".52"/><stop offset=".6535" stop-color="#619CFF" stop-opacity=".8"/><stop offset=".6826" stop-color="#619CFF" stop-opacity=".91"/><stop offset=".7033" stop-color="#619CFF" stop-opacity=".96"/><stop offset=".7241" stop-color="#619CFF" stop-opacity=".99"/><stop offset=".7573" stop-color="#619CFF"/><stop offset="1" stop-color="#619CFF"/></linearGradient>
<linearGradient id="r56" gradientUnits="userSpaceOnUse" x1="143.04" x2="1063.91" y1="0" y2="0"><stop offset="0" stop-color="#F8766D"/><stop offset=".1784" stop-color="#F8766D"/><stop offset=".1784" stop-color="#00BA38"/><stop offset=".2469" stop-color="#00BA38"/><stop offset=".2676" stop-color="#00BA38" stop-opacity=".96"/><stop offset=".2759" stop-color="#00BA38" stop-opacity=".92"/><stop offset=".3174" stop-color="#00BA38" stop-opacity=".58"/><stop offset=".334" stop-color="#00BA38" stop-opacity=".5"/><stop offset=".3631" stop-color="#00BA38" stop-opacity=".43"/><stop offset=".4336" stop-color="#00BA38" stop-opacity=".31"/><stop offset=".4668" stop-color="#00BA38" stop-opacity=".19"/><stop offset=".4793" stop-color="#00BA38" stop-opacity=".09"/><stop offset=".4855" stop-color="#00BA38" stop-opacity=".06"/><stop offset=".4855" stop-color="#619CFF" stop-opacity=".01"/><stop offset=".5083" stop-color="#619CFF" stop-opacity=".08"/><stop offset=".5415" stop-color="#619CFF" stop-opacity=".21"/><stop offset=".5954" stop-color="#619CFF" stop-opacity=".51"/><stop offset=".6535" stop-color="#619CFF" stop-opacity=".8"/><stop offset=".6826" stop-color="#619CFF" stop-opacity=".9"/><stop offset=".7033" stop-color="#619CFF" stop-opacity=".95"/><stop offset=".7282" stop-color="#619CFF" stop-opacity=".99"/><stop offset=".7614" stop-color="#619CFF"/><stop offset="1" stop-color="#619CFF"/></linearGradient>
<linearGradient id="r57" gradientUnits="userSpaceOnUse" x1="143.04" x2="1063.91" y1="0" y2="0"><stop offset="0" stop-color="#F8766D"/><stop offset=".1826" stop-color="#F8766D"/><stop offset=".1826" stop-color="#00BA38"/><stop offset=".2469" stop-color="#00BA38"/><stop offset=".2676" stop-color="#00BA38" stop-opacity=".97"/><stop offset=".2759" stop-color="#00BA38" stop-opacity=".93"/><stop offset=".3174" stop-color="#00BA38" stop-opacity=".56"/><stop offset=".334" stop-color="#00BA38" stop-opacity=".47"/><stop offset=".3631" stop-color="#00BA38" stop-opacity=".4"/><stop offset=".4295" stop-color="#00BA38" stop-opacity=".28"/><stop offset=".4668" stop-color="#00BA38" stop-opacity=".15"/><stop offset=".4793" stop-color="#00BA38" stop-opacity=".06"/><stop offset=".4813" stop-color="#00BA38" stop-opacity=".06"/><stop offset=".4813" stop-color="#619CFF" stop-opacity=".01"/><stop offset=".5083" stop-color="#619CFF" stop-opacity=".09"/><stop offset=".5456" stop-color="#619CFF" stop-opacity=".24"/><stop offset=".5954" stop-color="#619CFF" stop-opacity=".52"/><stop offset=".6494" stop-color="#619CFF" stop-opacity=".78"/><stop offset=".6826" stop-color="#619CFF" stop-opacity=".9"/><stop offset=".7033" stop-color="#619CFF" stop-opacity=".95"/><stop offset=".7282" stop-color="#619CFF" stop-opacity=".98"/><stop offset=".7656" stop-color="#619CFF"/><stop offset="1" stop-color="#619CFF"/></linearGradient>
<linearGradient id="r58" gradientUnits="userSpaceOnUse" x1="143.04" x2="1063.91" y1="0" y2="0"><stop offset="0" stop-color="#F8766D"/><stop offset=".1826" stop-color="#F8766D"/><stop offset=".1826" stop-color="#00BA38"/><stop offset=".2469" stop-color="#00BA38"/><stop offset=".2676" stop-color="#00BA38" stop-opacity=".97"/><stop offset=".2801" stop-color="#00BA38" stop-opacity=".9"/><stop offset=".3174" stop-color="#00BA38" stop-opacity=".55"/><stop offset=".334" stop-color="#00BA38" stop-opacity=".45"/><stop offset=".3589" stop-color="#00BA38" stop-opacity=".38"/><stop offset=".4253" stop-color="#00BA38" stop-opacity=".26"/><stop offset=".4627" stop-color="#00BA38" stop-opacity=".13"/><stop offset=".4772" stop-color="#00BA38" stop-opacity=".05"/><stop offset=".4772" stop-color="#619CFF" stop-opacity=".01"/><stop offset=".5083" stop-color="#619CFF" stop-opacity=".1"/><stop offset=".5415" stop-color="#619CFF" stop-opacity=".24"/><stop offset=".5954" stop-color="#619CFF" stop-opacity=".52"/><stop offset=".6494" stop-color="#619CFF" stop-opacity=".78"/><stop offset=".6826" stop-color="#619CFF" stop-opacity=".89"/><stop offset=".7075" stop-color="#619CFF" stop-opacity=".95"/><stop offset=".7324" stop-color="#619CFF" stop-opacity=".98"/><stop offset=".7697" stop-color="#619CFF"/><stop offset="1" stop-color="#619CFF"/></linearGradient>
<linearGradient id="r59" gradientUnits="userSpaceOnUse" x1="143.04" x2="1063.91" y1="0" y2="0"><stop offset="0" stop-color="#F8766D"/><stop offset=".1867" stop-color="#F8766D"/><stop offset=".1867" stop-color="#00BA38"/><stop offset=".251" stop-color="#00BA38"/><stop offset=".2718" stop-color="#00BA38" stop-opacity=".96"/><stop offset=".2801" stop-color="#00BA38" stop-opacity=".91"/><stop offset=".3174" stop-color="#00BA38" stop-opacity=".54"/><stop offset=".334" stop-color="#00BA38" stop-opacity=".43"/><stop offset=".3589" stop-color="#00BA38" stop-opacity=".36"/><stop offset=".4253" stop-color="#00BA38" stop-opacity=".23"/><stop offset=".4772" stop-color="#00BA38" stop-opacity=".02"/><stop offset=".4772" stop-color="#619CFF" stop-opacity=".02"/><stop offset=".5083" stop-color="#619CFF" stop-opacity=".11"/><stop offset=".5373" stop-color="#619CFF" stop-opacity=".22"/><stop offset=".5954" stop-color="#619CFF" stop-opacity=".52"/><stop offset=".6494" stop-color="#619CFF" stop-opacity=".77"/><stop offset=".6826" stop-color="#619CFF" stop-opacity=".88"/><stop offset=".7075" stop-color="#619CFF" stop-opacity=".94"/><stop offset=".7365" stop-color="#619CFF" stop-opacity=".98"/><stop offset=".7739" stop-color="#619CFF"/><stop offset="1" stop-color="#619CFF"/></linearGradient>
<linearGradient id="r60" gradientUnits="userSpaceOnUse" x1="143.04" x2="1063.91" y1="0" y2="0"><stop offset="0" stop-color="#F8766D"/><stop offset=".1867" stop-color="#F8766D"/><stop offset=".1867" stop-color="#00BA38"/><stop offset=".251" stop-color="#00BA38"/><stop offset=".2718" stop-color="#00BA38" stop-opacity=".97"/><stop offset=".2801" stop-color="#00BA38" stop-opacity=".91"/><stop offset=".3174" stop-color="#00BA38" stop-opacity=".53"/><stop offset=".334" stop-color="#00BA38" stop-opacity=".42"/><stop offset=".3589" stop-color="#00BA38" stop-opacity=".34"/><stop offset=".4212" stop-color="#00BA38" stop-opacity=".21"/><stop offset=".473" stop-color="#00BA38" stop-opacity=".02"/><stop offset=".473" stop-color="#619CFF" stop-opacity=".02"/><stop offset=".5083" stop-color="#619CFF" stop-opacity=".11"/><stop offset=".529" stop-color="#619CFF" stop-opacity=".19"/><stop offset=".6494" stop-color="#619CFF" stop-opacity=".76"/><stop offset=".6826" stop-color="#619CFF" stop-opacity=".87"/><stop offset=".7075" stop-color="#619CFF" stop-opacity=".94"/><stop offset=".7365" stop-color="#619CFF" stop-opacity=".98"/><stop offset=".7739" stop-color="#619CFF"/><stop offset="1" stop-color="#619CFF"/></linearGradient>
<linearGradient id="r61" gradientUnits="userSpaceOnUse" x1="143.04" x2="1063.91" y1="0" y2="0"><stop offset="0" stop-color="#F8766D"/><stop offset=".1909" stop-color="#F8766D"/><stop offset=".1909" stop-color="#00BA38"/><stop offset=".2552" stop-color="#00BA38"/><stop offset=".2718" stop-color="#00BA38" stop-opacity=".97"/><stop offset=".2801" stop-color="#00BA38" stop-opacity=".92"/><stop offset=".3216" stop-color="#00BA38" stop-opacity=".5"/><stop offset=".3382" stop-color="#00BA38" stop-opacity=".4"/><stop offset=".3631" stop-color="#00BA38" stop-opacity=".32"/><stop offset=".417" stop-color="#00BA38" stop-opacity=".2"/><stop offset=".4689" stop-color="#00BA38" stop-opacity=".02"/><stop offset=".4689" stop-color="#619CFF" stop-opacity=".01"/><stop offset=".4834" stop-color="#619CFF" stop-opacity=".03"/><stop offset=".5207" stop-color="#619CFF" stop-opacity=".15"/><stop offset=".6535" stop-color="#619CFF" stop-opacity=".77"/><stop offset=".6867" stop-color="#619CFF" stop-opacity=".88"/><stop offset=".7116" stop-color="#619CFF" stop-opacity=".94"/><stop offset=".7407" stop-color="#619CFF" stop-opacity=".98"/><stop offset=".778" stop-color="#619CFF"/><stop offset="1" stop-color="#619CFF"/></linearGradient>
<linearGradient id="r62" gradientUnits="userSpaceOnUse" x1="143.04" x2="1063.91" y1="0" y2="0"><stop offset="0" stop-color="#F8766D"/><stop offset=".1909" stop-color="#F8766D"/><stop offset=".1909" stop-color="#00BA38"/><stop offset=".2552" stop-color="#00BA38"/><stop offset=".2718" stop-color="#00BA38" stop-opacity=".97"/><stop offset=".2801" stop-color="#00BA38" stop-opacity=".92"/><stop offset=".2967" stop-color="#00BA38" stop-opacity=".77"/><stop offset=".3257" stop-color="#00BA38" stop-opacity=".48"/><stop offset=".3382" stop-color="#00BA38" stop-opacity=".39"/><stop offset=".3631" stop-color="#00BA38" stop-opacity=".31"/><stop offset=".417" stop-color="#00BA38" stop-opacity=".19"/><stop offset=".4689" stop-color="#00BA38" stop-opacity=".01"/><stop offset=".4689" stop-color="#619CFF" stop-opacity=".01"/><stop offset=".5124" stop-color="#619CFF" stop-opacity=".12"/><stop offset=".6494" stop-color="#619CFF" stop-opacity=".74"/><stop offset=".6867" stop-color="#619CFF" stop-opacity=".87"/><stop offset=".7158" stop-color="#619CFF" stop-opacity=".94"/><stop offset=".7448" stop-color="#619CFF" stop-opacity=".98"/><stop offset=".7822" stop-color="#619CFF"/><stop offset="1" stop-color="#619CFF"/></linearGradient>
<linearGradient id="r63" gradientUnits="userSpaceOnUse" x1="143.04" x2="1063.91" y1="0" y2="0"><stop offset="0" stop-color="#F8766D"/><stop offset=".195" stop-color="#F8766D"/><stop offset=".195" stop-color="#00BA38"/><stop offset=".2552" stop-color="#00BA38"/><stop offset=".2718" stop-color="#00BA38" stop-opacity=".98"/><stop offset=".2967" stop-color="#00BA38" stop-opacity=".8"/><stop offset=".3257" stop-color="#00BA38" stop-opacity=".5"/><stop offset=".3423" stop-color="#00BA38" stop-opacity=".38"/><stop offset=".3672" stop-color="#00BA38" stop-opacity=".3"/><stop offset=".4129" stop-color="#00BA38" stop-opacity=".19"/><stop offset=".4689" stop-color="#00BA38" stop-opacity=".01"/><stop offset=".4689" stop-color="#619CFF" stop-opacity=".01"/><stop offset=".4834" stop-color="#619CFF" stop-opacity=".03"/><stop offset=".5124" stop-color="#619CFF" stop-opacity=".11"/><stop offset=".6494" stop-color="#619CFF" stop-opacity=".72"/><stop offset=".6867" stop-color="#619CFF" stop-opacity=".85"/><stop offset=".7158" stop-color="#619CFF" stop-opacity=".93"/><stop offset=".749" stop-color="#619CFF" stop-opacity=".97"/><stop offset=".7863" stop-color="#619CFF"/><stop offset="1" stop-color="#619CFF"/></linearGradient>
<linearGradient id="r64" gradientUnits="userSpaceOnUse" x1="143.04" x2="1063.91" y1="0" y2="0"><stop offset="0" stop-color="#F8766D"/><stop offset=".1992" stop-color="#F8766D"/><stop offset=".1992" stop-color="#00BA38"/><stop offset=".2593" stop-color="#00BA38"/><stop offset=".2718" stop-color="#00BA38" stop-opacity=".98"/><stop offset=".3008" stop-color="#00BA38" stop-opacity=".79"/><stop offset=".3299" stop-color="#00BA38" stop-opacity=".48"/><stop offset=".3465" stop-color="#00BA38" stop-opacity=".36"/><stop offset=".4689" stop-color="#00BA38" stop-opacity=".01"/><stop offset=".4689" stop-color="#619CFF" stop-opacity=".01"/><stop offset=".4834" stop-color="#619CFF" stop-opacity=".03"/><stop offset=".5166" stop-color="#619CFF" stop-opacity=".12"/><stop offset=".6535" stop-color="#619CFF" stop-opacity=".73"/><stop offset=".6909" stop-color="#619CFF" stop-opacity=".85"/><stop offset=".7199" stop-color="#619CFF" stop-opacity=".93"/><stop offset=".7531" stop-color="#619CFF" stop-opacity=".97"/><stop offset=".7905" stop-color="#619CFF"/><stop offset="1" stop-color="#619CFF"/></linearGradient>
<linearGradient id="r65" gradientUnits="userSpaceOnUse" x1="143.04" x2="1063.91" y1="0" y2="0"><stop offset="0" stop-color="#F8766D"/><stop offset=".1992" stop-color="#F8766D"/><stop offset=".1992" stop-color="#00BA38"/><stop offset=".2718" stop-color="#00BA38" stop-opacity=".99"/><stop offset=".3008" stop-color="#00BA38" stop-opacity=".83"/><stop offset=".3299" stop-color="#00BA38" stop-opacity=".5"/><stop offset=".3465" stop-color="#00BA38" stop-opacity=".36"/><stop offset=".3672" stop-color="#00BA38" stop-opacity=".29"/><stop offset=".4087" stop-color="#00BA38" stop-opacity=".19"/><stop offset=".4689" stop-color="#00BA38" stop-opacity=".01"/><stop offset=".4689" stop-color="#619CFF" stop-opacity=".01"/><stop offset=".4834" stop-color="#619CFF" stop-opacity=".02"/><stop offset=".5166" stop-color="#619CFF" stop-opacity=".11"/><stop offset=".6577" stop-color="#619CFF" stop-opacity=".73"/><stop offset=".695" stop-color="#619CFF" stop-opacity=".86"/><stop offset=".7241" stop-color="#619CFF" stop-opacity=".93"/><stop offset=".7573" stop-color="#619CFF" stop-opacity=".97"/><stop offset=".7946" stop-color="#619CFF"/><stop offset="1" stop-color="#619CFF"/></linearGradient>
<linearGradient id="r66" gradientUnits="userSpaceOnUse" x1="143.04" x2="1063.91" y1="0" y2="0"><stop offset="0" stop-color="#F8766D"/><stop offset=".2033" stop-color="#F8766D"/><stop offset=".2033" stop-color="#00BA38"/><stop offset=".2635" stop-color="#00BA38"/><stop offset=".2759" stop-color="#00BA38" stop-opacity=".97"/><stop offset=".2967" stop-color="#00BA38" stop-opacity=".88"/><stop offset=".305" stop-color="#00BA38" stop-opacity=".82"/><stop offset=".334" stop-color="#00BA38" stop-opacity=".48"/><stop offset=".3423" stop-color="#00BA38" stop-opacity=".4"/><stop offset=".3506" stop-color="#00BA38" stop-opacity=".35"/><stop offset=".3714" stop-color="#00BA38" stop-opacity=".27"/><stop offset=".4689" stop-color="#00BA38" stop-opacity=".01"/><stop offset=".4689" stop-color="#619CFF" stop-opacity="0"/><stop offset=".4834" stop-color="#619CFF" stop-opacity=".02"/><stop offset=".5166" stop-color="#619CFF" stop-opacity=".11"/><stop offset=".5539" stop-color="#619CFF" stop-opacity=".25"/><stop offset=".6618" stop-color="#619CFF" stop-opacity=".73"/><stop offset=".6992" stop-color="#619CFF" stop-opacity=".86"/><stop offset=".7282" stop-color="#619CFF" stop-opacity=".93"/><stop offset=".7656" stop-color="#619CFF" stop-opacity=".98"/><stop offset=".7988" stop-color="#619CFF" stop-opacity=".99"/><stop offset="1" stop-color="#619CFF"/></linearGradient>
<linearGradient id="r67" gradientUnits="userSpaceOnUse" x1="143.04" x2="1063.91" y1="0" y2="0"><stop offset="0" stop-color="#F8766D"/><stop offset=".2033" stop-color="#F8766D"/><stop offset=".2033" stop-color="#00BA38"/><stop offset=".2676" stop-color="#00BA38"/><stop offset=".2967" stop-color="#00BA38" stop-opacity=".91"/><stop offset=".3008" stop-color="#00BA38" stop-opacity=".89"/><stop offset=".3091" stop-color="#00BA38" stop-opacity=".82"/><stop offset=".334" stop-color="#00BA38" stop-opacity=".5"/><stop offset=".3506" stop-color="#00BA38" stop-opacity=".35"/><stop offset=".3714" stop-color="#00BA38" stop-opacity=".27"/><stop offset=".473" stop-color="#00BA38" stop-opacity="0"/><stop offset=".473" stop-color="#619CFF" stop-opacity="0"/><stop offset=".4834" stop-color="#619CFF" stop-opacity=".01"/><stop offset=".5207" stop-color="#619CFF" stop-opacity=".11"/><stop offset=".5581" stop-color="#619CFF" stop-opacity=".25"/><stop offset=".6701" stop-color="#619CFF" stop-opacity=".74"/><stop offset=".7033" stop-color="#619CFF" stop-opacity=".86"/><stop offset=".7324" stop-color="#619CFF" stop-opacity=".92"/><stop offset=".7656" stop-color="#619CFF" stop-opacity=".97"/><stop offset=".8029" stop-color="#619CFF" stop-opacity=".99"/><stop offset="1" stop-color="#619CFF"/></linearGradient>
<linearGradient id="r68" gradientUnits="userSpaceOnUse" x1="143.04" x2="1063.91" y1="0" y2="0"><stop offset="0" stop-color="#F8766D"/><stop offset=".2075" stop-color="#F8766D"/><stop offset=".2075" stop-color="#00BA38"/><stop offset=".2676" stop-color="#00BA38"/><stop offset=".3008" stop-color="#00BA38" stop-opacity=".92"/><stop offset=".3091" stop-color="#00BA38" stop-opacity=".85"/><stop offset=".3382" stop-color="#00BA38" stop-opacity=".47"/><stop offset=".3465" stop-color="#00BA38" stop-opacity=".39"/><stop offset=".3548" stop-color="#00BA38" stop-opacity=".34"/><stop offset=".3755" stop-color="#00BA38" stop-opacity=".26"/><stop offset=".473" stop-color="#00BA38" stop-opacity=".01"/><stop offset=".473" stop-color="#619CFF" stop-opacity="0"/><stop offset=".4834" stop-color="#619CFF" stop-opacity=".01"/><stop offset=".5249" stop-color="#619CFF" stop-opacity=".11"/><stop offset=".5705" stop-color="#619CFF" stop-opacity=".29"/><stop offset=".6743" stop-color="#619CFF" stop-opacity=".74"/><stop offset=".7075" stop-color="#619CFF" stop-opacity=".86"/><stop offset=".7365" stop-color="#619CFF" stop-opacity=".92"/><stop offset=".7697" stop-color="#619CFF" stop-opacity=".97"/><stop offset=".8029" stop-color="#619CFF" stop-opacity=".99"/><stop offset="1" stop-color="#619CFF"/></linearGradient>
<linearGradient id="r69" gradientUnits="userSpaceOnUse" x1="143.04" x2="1063.91" y1="0" y2="0"><stop offset="0" stop-color="#F8766D"/><stop offset=".2116" stop-color="#F8766D"/><stop offset=".2116" stop-color="#00BA38"/><stop offset=".2676" stop-color="#00BA38"/><stop offset=".3008" stop-color="#00BA38" stop-opacity=".94"/><stop offset=".305" stop-color="#00BA38" stop-opacity=".92"/><stop offset=".3133" stop-color="#00BA38" stop-opacity=".83"/><stop offset=".3299" stop-color="#00BA38" stop-opacity=".6"/><stop offset=".3423" stop-color="#00BA38" stop-opacity=".45"/><stop offset=".3589" stop-color="#00BA38" stop-opacity=".32"/><stop offset=".388" stop-color="#00BA38" stop-opacity=".22"/><stop offset=".4668" stop-color="#00BA38" stop-opacity=".02"/><stop offset=".4772" stop-color="#00BA38" stop-opacity=".01"/><stop offset=".4772" stop-color="#619CFF" stop-opacity="0"/><stop offset=".5249" stop-color="#619CFF" stop-opacity=".1"/><stop offset=".5747" stop-color="#619CFF" stop-opacity=".29"/><stop offset=".6784" stop-color="#619CFF" stop-opacity=".74"/><stop offset=".7116" stop-color="#619CFF" stop-opacity=".85"/><stop offset=".7407" stop-color="#619CFF" stop-opacity=".92"/><stop offset=".7739" stop-color="#619CFF" stop-opacity=".97"/><stop offset=".8071" stop-color="#619CFF" stop-opacity=".99"/><stop offset="1" stop-color="#619CFF"/></linearGradient>
<linearGradient id="r70" gradientUnits="userSpaceOnUse" x1="143.04" x2="1063.91" y1="0" y2="0"><stop offset="0" stop-color="#F8766D"/><stop offset=".2116" stop-color="#F8766D"/><stop offset=".2116" stop-color="#00BA38"/><stop offset=".2676" stop-color="#00BA38"/><stop offset=".3008" stop-color="#00BA38" stop-opacity=".96"/><stop offset=".305" stop-color="#00BA38" stop-opacity=".94"/><stop offset=".3133" stop-color="#00BA38" stop-opacity=".86"/><stop offset=".3299" stop-color="#00BA38" stop-opacity=".63"/><stop offset=".3465" stop-color="#00BA38" stop-opacity=".44"/><stop offset=".3631" stop-color="#00BA38" stop-opacity=".31"/><stop offset=".3797" stop-color="#00BA38" stop-opacity=".24"/><stop offset=".4129" stop-color="#00BA38" stop-opacity=".15"/><stop offset=".4668" stop-color="#00BA38" stop-opacity=".02"/><stop offset=".4813" stop-color="#00BA38" stop-opacity=".01"/><stop offset=".4813" stop-color="#619CFF" stop-opacity="0"/><stop offset=".5166" stop-color="#619CFF" stop-opacity=".07"/><stop offset=".5622" stop-color="#619CFF" stop-opacity=".22"/><stop offset=".6826" stop-color="#619CFF" stop-opacity=".74"/><stop offset=".7158" stop-color="#619CFF" stop-opacity=".85"/><stop offset=".7448" stop-color="#619CFF" stop-opacity=".92"/><stop offset=".778" stop-color="#619CFF" stop-opacity=".97"/><stop offset=".8112" stop-color="#619CFF" stop-opacity=".99"/><stop offset="1" stop-color="#619CFF"/></linearGradient>
<linearGradient id="r71" gradientUnits="userSpaceOnUse" x1="143.04" x2="1063.91" y1="0" y2="0"><stop offset="0" stop-color="#F8766D"/><stop offset=".2158" stop-color="#F8766D"/><stop offset=".2158" stop-color="#00BA38"/><stop offset=".2718" stop-color="#00BA38"/><stop offset=".3008" stop-color="#00BA38" stop-opacity=".98"/><stop offset=".3091" stop-color="#00BA38" stop-opacity=".93"/><stop offset=".3133" stop-color="#00BA38" stop-opacity=".89"/><stop offset=".3299" stop-color="#00BA38" stop-opacity=".66"/><stop offset=".3506" stop-color="#00BA38" stop-opacity=".42"/><stop offset=".3589" stop-color="#00BA38" stop-opacity=".35"/><stop offset=".3714" stop-color="#00BA38" stop-opacity=".28"/><stop offset=".3838" stop-color="#00BA38" stop-opacity=".23"/><stop offset=".417" stop-color="#00BA38" stop-opacity=".14"/><stop offset=".4668" stop-color="#00BA38" stop-opacity=".03"/><stop offset=".4855" stop-color="#00BA38" stop-opacity=".02"/><stop offset=".4855" stop-color="#619CFF" stop-opacity=".01"/><stop offset=".5207" stop-color="#619CFF" stop-opacity=".07"/><stop offset=".5705" stop-color="#619CFF" stop-opacity=".23"/><stop offset=".6867" stop-color="#619CFF" stop-opacity=".74"/><stop offset=".7199" stop-color="#619CFF" stop-opacity=".85"/><stop offset=".749" stop-color="#619CFF" stop-opacity=".92"/><stop offset=".7822" stop-color="#619CFF" stop-opacity=".97"/><stop offset=".8154" stop-color="#619CFF" stop-opacity=".99"/><stop offset="1" stop-color="#619CFF"/></linearGradient>
<linearGradient id="r72" gradientUnits="userSpaceOnUse" x1="143.04" x2="1063.91" y1="0" y2="0"><stop offset="0" stop-color="#F8766D"/><stop offset=".2199" stop-color="#F8766D"/><stop offset=".2199" stop-color="#00BA38"/><stop offset=".2925" stop-color="#00BA38" stop-opacity=".99"/><stop offset=".305" stop-color="#00BA38" stop-opacity=".97"/><stop offset=".3133" stop-color="#00BA38" stop-opacity=".91"/><stop offset=".3299" stop-color="#00BA38" stop-opacity=".69"/><stop offset=".3548" stop-color="#00BA38" stop-opacity=".41"/><stop offset=".3755" stop-color="#00BA38" stop-opacity=".27"/><stop offset=".388" stop-color="#00BA38" stop-opacity=".22"/><stop offset=".417" stop-color="#00BA38" stop-opacity=".14"/><stop offset=".4896" stop-color="#00BA38" stop-opacity=".02"/><stop offset=".4896" stop-color="#619CFF" stop-opacity=".01"/><stop offset=".5207" stop-color="#619CFF" stop-opacity=".06"/><stop offset=".5747" stop-color="#619CFF" stop-opacity=".23"/><stop offset=".6867" stop-color="#619CFF" stop-opacity=".72"/><stop offset=".7199" stop-color="#619CFF" stop-opacity=".84"/><stop offset=".7531" stop-color="#619CFF" stop-opacity=".92"/><stop offset=".7863" stop-color="#619CFF" stop-opacity=".97"/><stop offset=".8195" stop-color="#619CFF" stop-opacity=".99"/><stop offset="1" stop-color="#619CFF"/></linearGradient>
<linearGradient id="r73" gradientUnits="userSpaceOnUse" x1="143.04" x2="1063.91" y1="0" y2="0"><stop offset="0" stop-color="#F8766D"/><stop offset=".2199" stop-color="#F8766D"/><stop offset=".2199" stop-color="#00BA38"/><stop offset=".2925" stop-color="#00BA38"/><stop offset=".305" stop-color="#00BA38" stop-opacity=".98"/><stop offset=".3133" stop-color="#00BA38" stop-opacity=".92"/><stop offset=".3257" stop-color="#00BA38" stop-opacity=".76"/><stop offset=".3423" stop-color="#00BA38" stop-opacity=".6"/><stop offset=".3589" stop-color="#00BA38" stop-opacity=".4"/><stop offset=".3797" stop-color="#00BA38" stop-opacity=".26"/><stop offset=".417" stop-color="#00BA38" stop-opacity=".15"/><stop offset=".4938" stop-color="#00BA38" stop-opacity=".02"/><stop offset=".4938" stop-color="#619CFF" stop-opacity=".01"/><stop offset=".5207" stop-color="#619CFF" stop-opacity=".05"/><stop offset=".5788" stop-color="#619CFF" stop-opacity=".22"/><stop offset=".6909" stop-color="#619CFF" stop-opacity=".72"/><stop offset=".7241" stop-color="#619CFF" stop-opacity=".84"/><stop offset=".7573" stop-color="#619CFF" stop-opacity=".92"/><stop offset=".7905" stop-color="#619CFF" stop-opacity=".97"/><stop offset=".8237" stop-color="#619CFF" stop-opacity=".99"/><stop offset="1" stop-color="#619CFF"/></linearGradient>
<linearGradient id="r74" gradientUnits="userSpaceOnUse" x1="143.04" x2="1063.91" y1="0" y2="0"><stop offset="0" stop-color="#F8766D"/><stop offset=".2241" stop-color="#F8766D"/><stop offset=".2241" stop-color="#00BA38"/><stop offset=".305" stop-color="#00BA38" stop-opacity=".99"/><stop offset=".3133" stop-color="#00BA38" stop-opacity=".94"/><stop offset=".3257" stop-color="#00BA38" stop-opacity=".79"/><stop offset=".3423" stop-color="#00BA38" stop-opacity=".65"/><stop offset=".3589" stop-color="#00BA38" stop-opacity=".44"/><stop offset=".3797" stop-color="#00BA38" stop-opacity=".27"/><stop offset=".417" stop-color="#00BA38" stop-opacity=".16"/><stop offset=".4979" stop-color="#00BA38" stop-opacity=".03"/><stop offset=".4979" stop-color="#619CFF" stop-opacity=".01"/><stop offset=".5207" stop-color="#619CFF" stop-opacity=".04"/><stop offset=".5788" stop-color="#619CFF" stop-opacity=".2"/><stop offset=".6037" stop-color="#619CFF" stop-opacity=".3"/><stop offset=".6909" stop-color="#619CFF" stop-opacity=".7"/><stop offset=".7282" stop-color="#619CFF" stop-opacity=".83"/><stop offset=".7614" stop-color="#619CFF" stop-opacity=".91"/><stop offset=".7946" stop-color="#619CFF" stop-opacity=".96"/><stop offset=".8278" stop-color="#619CFF" stop-opacity=".99"/><stop offset="1" stop-color="#619CFF"/></linearGradient>
<linearGradient id="r75" gradientUnits="userSpaceOnUse" x1="143.04" x2="1063.91" y1="0" y2="0"><stop offset="0" stop-color="#F8766D"/><stop offset=".2282" stop-color="#F8766D"/><stop offset=".2282" stop-color="#00BA38"/><stop offset=".305" stop-color="#00BA38" stop-opacity=".99"/><stop offset=".3133" stop-color="#00BA38" stop-opacity=".95"/><stop offset=".3257" stop-color="#00BA38" stop-opacity=".82"/><stop offset=".3423" stop-color="#00BA38" stop-opacity=".7"/><stop offset=".3631" stop-color="#00BA38" stop-opacity=".42"/><stop offset=".3755" stop-color="#00BA38" stop-opacity=".31"/><stop offset=".3838" stop-color="#00BA38" stop-opacity=".26"/><stop offset=".417" stop-color="#00BA38" stop-opacity=".16"/><stop offset=".4751" stop-color="#00BA38" stop-opacity=".09"/><stop offset=".5062" stop-color="#00BA38" stop-opacity=".02"/><stop offset=".5062" stop-color="#619CFF" stop-opacity=".01"/><stop offset=".5207" stop-color="#619CFF" stop-opacity=".02"/><stop offset=".583" stop-color="#619CFF" stop-opacity=".2"/><stop offset=".6037" stop-color="#619CFF" stop-opacity=".28"/><stop offset=".6909" stop-color="#619CFF" stop-opacity=".69"/><stop offset=".7282" stop-color="#619CFF" stop-opacity=".82"/><stop offset=".7656" stop-color="#619CFF" stop-opacity=".91"/><stop offset=".7946" stop-color="#619CFF" stop-opacity=".96"/><stop offset=".8278" stop-color="#619CFF" stop-opacity=".98"/><stop offset="1" stop-color="#619CFF"/></linearGradient>
<linearGradient id="r76" gradientUnits="userSpaceOnUse" x1="143.04" x2="1063.91" y1="0" y2="0"><stop offset="0" stop-color="#F8766D"/><stop offset=".2282" stop-color="#F8766D"/><stop offset=".2282" stop-color="#00BA38"/><stop offset=".2967" stop-color="#00BA38"/><stop offset=".3091" stop-color="#00BA38" stop-opacity=".98"/><stop offset=".3257" stop-color="#00BA38" stop-opacity=".85"/><stop offset=".3423" stop-color="#00BA38" stop-opacity=".75"/><stop offset=".3631" stop-color="#00BA38" stop-opacity=".45"/><stop offset=".3755" stop-color="#00BA38" stop-opacity=".32"/><stop offset=".3838" stop-color="#00BA38" stop-opacity=".26"/><stop offset=".417" stop-color="#00BA38" stop-opacity=".17"/><stop offset=".4751" stop-color="#00BA38" stop-opacity=".1"/><stop offset=".5104" stop-color="#00BA38" stop-opacity=".04"/><stop offset=".5104" stop-color="#619CFF" stop-opacity=".01"/><stop offset=".5249" stop-color="#619CFF" stop-opacity=".02"/><stop offset=".5871" stop-color="#619CFF" stop-opacity=".19"/><stop offset=".6079" stop-color="#619CFF" stop-opacity=".27"/><stop offset=".695" stop-color="#619CFF" stop-opacity=".68"/><stop offset=".7324" stop-color="#619CFF" stop-opacity=".81"/><stop offset=".7697" stop-color="#619CFF" stop-opacity=".91"/><stop offset=".7988" stop-color="#619CFF" stop-opacity=".95"/><stop offset=".832" stop-color="#619CFF" stop-opacity=".98"/><stop offset="1" stop-color="#619CFF"/></linearGradient>
<linearGradient id="r77" gradientUnits="userSpaceOnUse" x1="143.04" x2="1063.91" y1="0" y2="0"><stop offset="0" stop-color="#F8766D"/><stop offset=".2324" stop-color="#F8766D"/><stop offset=".2324" stop-color="#00BA38"/><stop offset=".3091" stop-color="#00BA38" stop-opacity=".99"/><stop offset=".3423" stop-color="#00BA38" stop-opacity=".8"/><stop offset=".3465" stop-color="#00BA38" stop-opacity=".75"/><stop offset=".3631" stop-color="#00BA38" stop-opacity=".48"/><stop offset=".3755" stop-color="#00BA38" stop-opacity=".33"/><stop offset=".3838" stop-color="#00BA38" stop-opacity=".27"/><stop offset=".417" stop-color="#00BA38" stop-opacity=".18"/><stop offset=".4959" stop-color="#00BA38" stop-opacity=".1"/><stop offset=".5187" stop-color="#00BA38" stop-opacity=".03"/><stop offset=".5187" stop-color="#619CFF" stop-opacity=".01"/><stop offset=".5664" stop-color="#619CFF" stop-opacity=".11"/><stop offset=".5913" stop-color="#619CFF" stop-opacity=".19"/><stop offset=".612" stop-color="#619CFF" stop-opacity=".27"/><stop offset=".695" stop-color="#619CFF" stop-opacity=".66"/><stop offset=".7365" stop-color="#619CFF" stop-opacity=".81"/><stop offset=".7739" stop-color="#619CFF" stop-opacity=".9"/><stop offset=".8029" stop-color="#619CFF" stop-opacity=".95"/><stop offset=".8361" stop-color="#619CFF" stop-opacity=".98"/><stop offset="1" stop-color="#619CFF"/></linearGradient>
<linearGradient id="r78" gradientUnits="userSpaceOnUse" x1="143.04" x2="1063.91" y1="0" y2="0"><stop offset="0" stop-color="#F8766D"/><stop offset=".2365" stop-color="#F8766D"/><stop offset=".2365" stop-color="#00BA38"/><stop offset=".3008" stop-color="#00BA38"/><stop offset=".3133" stop-color="#00BA38" stop-opacity=".98"/><stop offset=".3257" stop-color="#00BA38" stop-opacity=".91"/><stop offset=".3382" stop-color="#00BA38" stop-opacity=".88"/><stop offset=".3423" stop-color="#00BA38" stop-opacity=".84"/><stop offset=".3465" stop-color="#00BA38" stop-opacity=".79"/><stop offset=".3631" stop-color="#00BA38" stop-opacity=".5"/><stop offset=".3714" stop-color="#00BA38" stop-opacity=".39"/><stop offset=".3797" stop-color="#00BA38" stop-opacity=".31"/><stop offset=".388" stop-color="#00BA38" stop-opacity=".27"/><stop offset=".4212" stop-color="#00BA38" stop-opacity=".18"/><stop offset=".5041" stop-color="#00BA38" stop-opacity=".12"/><stop offset=".5166" stop-color="#00BA38" stop-opacity=".05"/><stop offset=".5228" stop-color="#00BA38" stop-opacity=".03"/><stop offset=".5228" stop-color="#619CFF" stop-opacity=".01"/><stop offset=".5622" stop-color="#619CFF" stop-opacity=".09"/><stop offset=".5954" stop-color="#619CFF" stop-opacity=".18"/><stop offset=".612" stop-color="#619CFF" stop-opacity=".24"/><stop offset=".695" stop-color="#619CFF" stop-opacity=".64"/><stop offset=".7407" stop-color="#619CFF" stop-opacity=".8"/><stop offset=".778" stop-color="#619CFF" stop-opacity=".9"/><stop offset=".8071" stop-color="#619CFF" stop-opacity=".95"/><stop offset=".8402" stop-color="#619CFF" stop-opacity=".98"/><stop offset="1" stop-color="#619CFF"/></linearGradient>
<linearGradient id="r79" gradientUnits="userSpaceOnUse" x1="143.04" x2="1063.91" y1="0" y2="0"><stop offset="0" stop-color="#F8766D"/><stop offset=".2365" stop-color="#F8766D"/><stop offset=".2365" stop-color="#00BA38"/><stop offset=".305" stop-color="#00BA38"/><stop offset=".334" stop-color="#00BA38" stop-opacity=".93"/><stop offset=".3423" stop-color="#00BA38" stop-opacity=".88"/><stop offset=".3465" stop-color="#00BA38" stop-opacity=".83"/><stop offset=".3631" stop-color="#00BA38" stop-opacity=".53"/><stop offset=".3714" stop-color="#00BA38" stop-opacity=".41"/><stop offset=".3797" stop-color="#00BA38" stop-opacity=".33"/><stop offset=".388" stop-color="#00BA38" stop-opacity=".28"/><stop offset=".4046" stop-color="#00BA38" stop-opacity=".22"/><stop offset=".4212" stop-color="#00BA38" stop-opacity=".19"/><stop offset=".4793" stop-color="#00BA38" stop-opacity=".15"/><stop offset=".5041" stop-color="#00BA38" stop-opacity=".16"/><stop offset=".5207" stop-color="#00BA38" stop-opacity=".06"/><stop offset=".527" stop-color="#00BA38" stop-opacity=".06"/><stop offset=".527" stop-color="#619CFF" stop-opacity=".01"/><stop offset=".5622" stop-color="#619CFF" stop-opacity=".07"/><stop offset=".5996" stop-color="#619CFF" stop-opacity=".18"/><stop offset=".695" stop-color="#619CFF" stop-opacity=".62"/><stop offset=".7407" stop-color="#619CFF" stop-opacity=".79"/><stop offset=".7822" stop-color="#619CFF" stop-opacity=".89"/><stop offset=".8154" stop-color="#619CFF" stop-opacity=".95"/><stop offset=".8485" stop-color="#619CFF" stop-opacity=".97"/><stop offset="1" stop-color="#619CFF"/></linearGradient>
<linearGradient id="r80" gradientUnits="userSpaceOnUse" x1="143.04" x2="1063.91" y1="0" y2="0"><stop offset="0" stop-color="#F8766D"/><stop offset=".2407" stop-color="#F8766D"/><stop offset=".2407" stop-color="#00BA38"/><stop offset=".305" stop-color="#00BA38"/><stop offset=".334" stop-color="#00BA38" stop-opacity=".96"/><stop offset=".3423" stop-color="#00BA38" stop-opacity=".91"/><stop offset=".3465" stop-color="#00BA38" stop-opacity=".86"/><stop offset=".3631" stop-color="#00BA38" stop-opacity=".56"/><stop offset=".3755" stop-color="#00BA38" stop-opacity=".39"/><stop offset=".3838" stop-color="#00BA38" stop-opacity=".32"/><stop offset=".3921" stop-color="#00BA38" stop-opacity=".28"/><stop offset=".4046" stop-color="#00BA38" stop-opacity=".23"/><stop offset=".4212" stop-color="#00BA38" stop-opacity=".19"/><stop offset=".4793" stop-color="#00BA38" stop-opacity=".16"/><stop offset=".5041" stop-color="#00BA38" stop-opacity=".18"/><stop offset=".5166" stop-color="#00BA38" stop-opacity=".11"/><stop offset=".5249" stop-color="#00BA38" stop-opacity=".09"/><stop offset=".5353" stop-color="#00BA38" stop-opacity=".04"/><stop offset=".5353" stop-color="#619CFF" stop-opacity=".02"/><stop offset=".5622" stop-color="#619CFF" stop-opacity=".06"/><stop offset=".6037" stop-color="#619CFF" stop-opacity=".17"/><stop offset=".6992" stop-color="#619CFF" stop-opacity=".61"/><stop offset=".7448" stop-color="#619CFF" stop-opacity=".78"/><stop offset=".7863" stop-color="#619CFF" stop-opacity=".89"/><stop offset=".8195" stop-color="#619CFF" stop-opacity=".94"/><stop offset=".8527" stop-color="#619CFF" stop-opacity=".97"/><stop offset="1" stop-color="#619CFF"/></linearGradient>
<linearGradient id="r81" gradientUnits="userSpaceOnUse" x1="143.04" x2="1063.91" y1="0" y2="0"><stop offset="0" stop-color="#F8766D"/><stop offset=".2448" stop-color="#F8766D"/><stop offset=".2448" stop-color="#00BA38"/><stop offset=".3091" stop-color="#00BA38"/><stop offset=".3382" stop-color="#00BA38" stop-opacity=".96"/><stop offset=".3465" stop-color="#00BA38" stop-opacity=".88"/><stop offset=".3589" stop-color="#00BA38" stop-opacity=".66"/><stop offset=".3755" stop-color="#00BA38" stop-opacity=".42"/><stop offset=".3838" stop-color="#00BA38" stop-opacity=".34"/><stop offset=".3963" stop-color="#00BA38" stop-opacity=".27"/><stop offset=".4087" stop-color="#00BA38" stop-opacity=".22"/><stop offset=".4253" stop-color="#00BA38" stop-opacity=".2"/><stop offset=".4793" stop-color="#00BA38" stop-opacity=".17"/><stop offset=".5041" stop-color="#00BA38" stop-opacity=".2"/><stop offset=".5166" stop-color="#00BA38" stop-opacity=".12"/><stop offset=".5249" stop-color="#00BA38" stop-opacity=".12"/><stop offset=".5332" stop-color="#00BA38" stop-opacity=".05"/><stop offset=".5394" stop-color="#00BA38" stop-opacity=".03"/><stop offset=".5394" stop-color="#619CFF" stop-opacity=".01"/><stop offset=".5622" stop-color="#619CFF" stop-opacity=".04"/><stop offset=".6079" stop-color="#619CFF" stop-opacity=".17"/><stop offset=".7033" stop-color="#619CFF" stop-opacity=".61"/><stop offset=".749" stop-color="#619CFF" stop-opacity=".77"/><stop offset=".7905" stop-color="#619CFF" stop-opacity=".88"/><stop offset=".8237" stop-color="#619CFF" stop-opacity=".94"/><stop offset=".861" stop-color="#619CFF" stop-opacity=".97"/><stop offset="1" stop-color="#619CFF"/></linearGradient>
<linearGradient id="r82" gradientUnits="userSpaceOnUse" x1="143.04" x2="1063.91" y1="0" y2="0"><stop offset="0" stop-color="#F8766D"/><stop offset=".2448" stop-color="#F8766D"/><stop offset=".2448" stop-color="#00BA38"/><stop offset=".3091" stop-color="#00BA38"/><stop offset=".3382" stop-color="#00BA38" stop-opacity=".98"/><stop offset=".3465" stop-color="#00BA38" stop-opacity=".9"/><stop offset=".3589" stop-color="#00BA38" stop-opacity=".69"/><stop offset=".3797" stop-color="#00BA38" stop-opacity=".41"/><stop offset=".388" stop-color="#00BA38" stop-opacity=".34"/><stop offset=".4004" stop-color="#00BA38" stop-opacity=".26"/><stop offset=".4253" stop-color="#00BA38" stop-opacity=".2"/><stop offset=".4793" stop-color="#00BA38" stop-opacity=".18"/><stop offset=".5041" stop-color="#00BA38" stop-opacity=".2"/><stop offset=".5166" stop-color="#00BA38" stop-opacity=".14"/><stop offset=".5249" stop-color="#00BA38" stop-opacity=".13"/><stop offset=".5373" stop-color="#00BA38" stop-opacity=".03"/><stop offset=".5436" stop-color="#00BA38" stop-opacity=".02"/><stop offset=".5436" stop-color="#619CFF" stop-opacity=".01"/><stop offset=".5622" stop-color="#619CFF" stop-opacity=".03"/><stop offset=".612" stop-color="#619CFF" stop-opacity=".16"/><stop offset=".6743" stop-color="#619CFF" stop-opacity=".46"/><stop offset=".7075" stop-color="#619CFF" stop-opacity=".6"/><stop offset=".7531" stop-color="#619CFF" stop-opacity=".76"/><stop offset=".7946" stop-color="#619CFF" stop-opacity=".88"/><stop offset=".8278" stop-color="#619CFF" stop-opacity=".94"/><stop offset=".8693" stop-color="#619CFF" stop-opacity=".97"/><stop offset="1" stop-color="#619CFF"/></linearGradient>
<linearGradient id="r83" gradientUnits="userSpaceOnUse" x1="143.04" x2="1063.91" y1="0" y2="0"><stop offset="0" stop-color="#F8766D"/><stop offset=".249" stop-color="#F8766D"/><stop offset=".249" stop-color="#00BA38"/><stop offset=".3257" stop-color="#00BA38"/><stop offset=".3382" stop-color="#00BA38" stop-opacity=".98"/><stop offset=".3465" stop-color="#00BA38" stop-opacity=".9"/><stop offset=".3589" stop-color="#00BA38" stop-opacity=".72"/><stop offset=".3838" stop-color="#00BA38" stop-opacity=".4"/><stop offset=".3963" stop-color="#00BA38" stop-opacity=".3"/><stop offset=".4046" stop-color="#00BA38" stop-opacity=".26"/><stop offset=".417" stop-color="#00BA38" stop-opacity=".22"/><stop offset=".4295" stop-color="#00BA38" stop-opacity=".2"/><stop offset=".4793" stop-color="#00BA38" stop-opacity=".18"/><stop offset=".5041" stop-color="#00BA38" stop-opacity=".2"/><stop offset=".5124" stop-color="#00BA38" stop-opacity=".16"/><stop offset=".5249" stop-color="#00BA38" stop-opacity=".14"/><stop offset=".5373" stop-color="#00BA38" stop-opacity=".04"/><stop offset=".5519" stop-color="#00BA38" stop-opacity=".01"/><stop offset=".5519" stop-color="#619CFF" stop-opacity=".01"/><stop offset=".5664" stop-color="#619CFF" stop-opacity=".03"/><stop offset=".6162" stop-color="#619CFF" stop-opacity=".16"/><stop offset=".6743" stop-color="#619CFF" stop-opacity=".43"/><stop offset=".7282" stop-color="#619CFF" stop-opacity=".65"/><stop offset=".7656" stop-color="#619CFF" stop-opacity=".78"/><stop offset=".8029" stop-color="#619CFF" stop-opacity=".88"/><stop offset=".8361" stop-color="#619CFF" stop-opacity=".94"/><stop offset=".8817" stop-color="#619CFF" stop-opacity=".98"/><stop offset="1" stop-color="#619CFF"/></linearGradient>
<linearGradient id="r84" gradientUnits="userSpaceOnUse" x1="143.04" x2="1063.91" y1="0" y2="0"><stop offset="0" stop-color="#F8766D"/><stop offset=".2531" stop-color="#F8766D"/><stop offset=".2531" stop-color="#00BA38"/><stop offset=".3299" stop-color="#00BA38"/><stop offset=".3382" stop-color="#00BA38" stop-opacity=".98"/><stop offset=".3423" stop-color="#00BA38" stop-opacity=".96"/><stop offset=".3548" stop-color="#00BA38" stop-opacity=".8"/><stop offset=".3672" stop-color="#00BA38" stop-opacity=".67"/><stop offset=".388" stop-color="#00BA38" stop-opacity=".39"/><stop offset=".4046" stop-color="#00BA38" stop-opacity=".26"/><stop offset=".417" stop-color="#00BA38" stop-opacity=".22"/><stop offset=".4295" stop-color="#00BA38" stop-opacity=".2"/><stop offset=".4793" stop-color="#00BA38" stop-opacity=".18"/><stop offset=".5041" stop-color="#00BA38" stop-opacity=".2"/><stop offset=".5249" stop-color="#00BA38" stop-opacity=".14"/><stop offset=".5373" stop-color="#00BA38" stop-opacity=".05"/><stop offset=".556" stop-color="#00BA38" stop-opacity=".01"/><stop offset=".556" stop-color="#619CFF" stop-opacity=".01"/><stop offset=".5664" stop-color="#619CFF" stop-opacity=".02"/><stop offset=".6203" stop-color="#619CFF" stop-opacity=".15"/><stop offset=".6743" stop-color="#619CFF" stop-opacity=".4"/><stop offset=".7282" stop-color="#619CFF" stop-opacity=".63"/><stop offset=".7697" stop-color="#619CFF" stop-opacity=".77"/><stop offset=".8071" stop-color="#619CFF" stop-opacity=".87"/><stop offset=".8444" stop-color="#619CFF" stop-opacity=".94"/><stop offset=".89" stop-color="#619CFF" stop-opacity=".98"/><stop offset="1" stop-color="#619CFF"/></linearGradient>
<linearGradient id="r85" gradientUnits="userSpaceOnUse" x1="143.04" x2="1063.91" y1="0" y2="0"><stop offset="0" stop-color="#F8766D"/><stop offset=".2531" stop-color="#F8766D"/><stop offset=".2531" stop-color="#00BA38"/><stop offset=".3299" stop-color="#00BA38"/><stop offset=".3382" stop-color="#00BA38" stop-opacity=".99"/><stop offset=".3423" stop-color="#00BA38" stop-opacity=".96"/><stop offset=".3548" stop-color="#00BA38" stop-opacity=".82"/><stop offset=".3672" stop-color="#00BA38" stop-opacity=".72"/><stop offset=".3714" stop-color="#00BA38" stop-opacity=".67"/><stop offset=".3838" stop-color="#00BA38" stop-opacity=".48"/><stop offset=".3921" stop-color="#00BA38" stop-opacity=".38"/><stop offset=".4004" stop-color="#00BA38" stop-opacity=".3"/><stop offset=".4087" stop-color="#00BA38" stop-opacity=".25"/><stop offset=".4212" stop-color="#00BA38" stop-opacity=".21"/><stop offset=".4336" stop-color="#00BA38" stop-opacity=".2"/><stop offset=".4793" stop-color="#00BA38" stop-opacity=".18"/><stop offset=".5041" stop-color="#00BA38" stop-opacity=".2"/><stop offset=".5207" stop-color="#00BA38" stop-opacity=".16"/><stop offset=".5373" stop-color="#00BA38" stop-opacity=".06"/><stop offset=".5602" stop-color="#00BA38" stop-opacity=".02"/><stop offset=".5602" stop-color="#619CFF" stop-opacity=".01"/><stop offset=".6245" stop-color="#619CFF" stop-opacity=".15"/><stop offset=".7324" stop-color="#619CFF" stop-opacity=".62"/><stop offset=".7739" stop-color="#619CFF" stop-opacity=".76"/><stop offset=".8154" stop-color="#619CFF" stop-opacity=".87"/><stop offset=".8485" stop-color="#619CFF" stop-opacity=".93"/><stop offset=".8942" stop-color="#619CFF" stop-opacity=".98"/><stop offset="1" stop-color="#619CFF"/></linearGradient>
<linearGradient id="r86" gradientUnits="userSpaceOnUse" x1="143.04" x2="1063.91" y1="0" y2="0"><stop offset="0" stop-color="#F8766D"/><stop offset=".2573" stop-color="#F8766D"/><stop offset=".2573" stop-color="#00BA38"/><stop offset=".3382" stop-color="#00BA38" stop-opacity=".99"/><stop offset=".3714" stop-color="#00BA38" stop-opacity=".73"/><stop offset=".388" stop-color="#00BA38" stop-opacity=".45"/><stop offset=".3963" stop-color="#00BA38" stop-opacity=".35"/><stop offset=".4046" stop-color="#00BA38" stop-opacity=".28"/><stop offset=".417" stop-color="#00BA38" stop-opacity=".23"/><stop offset=".471" stop-color="#00BA38" stop-opacity=".18"/><stop offset=".5083" stop-color="#00BA38" stop-opacity=".2"/><stop offset=".5207" stop-color="#00BA38" stop-opacity=".16"/><stop offset=".5373" stop-color="#00BA38" stop-opacity=".07"/><stop offset=".5685" stop-color="#00BA38" stop-opacity=".01"/><stop offset=".5685" stop-color="#619CFF" stop-opacity=".02"/><stop offset=".6079" stop-color="#619CFF" stop-opacity=".09"/><stop offset=".6286" stop-color="#619CFF" stop-opacity=".15"/><stop offset=".7365" stop-color="#619CFF" stop-opacity=".61"/><stop offset=".778" stop-color="#619CFF" stop-opacity=".75"/><stop offset=".8195" stop-color="#619CFF" stop-opacity=".87"/><stop offset=".8527" stop-color="#619CFF" stop-opacity=".93"/><stop offset=".8983" stop-color="#619CFF" stop-opacity=".98"/><stop offset="1" stop-color="#619CFF"/></linearGradient>
<linearGradient id="r87" gradientUnits="userSpaceOnUse" x1="143.04" x2="1063.91" y1="0" y2="0"><stop offset="0" stop-color="#F8766D"/><stop offset=".2614" stop-color="#F8766D"/><stop offset=".2614" stop-color="#00BA38"/><stop offset=".3299" stop-color="#00BA38"/><stop offset=".3423" stop-color="#00BA38" stop-opacity=".97"/><stop offset=".3548" stop-color="#00BA38" stop-opacity=".87"/><stop offset=".3672" stop-color="#00BA38" stop-opacity=".82"/><stop offset=".3714" stop-color="#00BA38" stop-opacity=".78"/><stop offset=".3755" stop-color="#00BA38" stop-opacity=".72"/><stop offset=".388" stop-color="#00BA38" stop-opacity=".49"/><stop offset=".3963" stop-color="#00BA38" stop-opacity=".36"/><stop offset=".4046" stop-color="#00BA38" stop-opacity=".29"/><stop offset=".417" stop-color="#00BA38" stop-opacity=".23"/><stop offset=".471" stop-color="#00BA38" stop-opacity=".18"/><stop offset=".5083" stop-color="#00BA38" stop-opacity=".2"/><stop offset=".5207" stop-color="#00BA38" stop-opacity=".16"/><stop offset=".5373" stop-color="#00BA38" stop-opacity=".08"/><stop offset=".5726" stop-color="#00BA38" stop-opacity=".01"/><stop offset=".5726" stop-color="#619CFF" stop-opacity=".02"/><stop offset=".6079" stop-color="#619CFF" stop-opacity=".08"/><stop offset=".6328" stop-color="#619CFF" stop-opacity=".14"/><stop offset=".7407" stop-color="#619CFF" stop-opacity=".6"/><stop offset=".7863" stop-color="#619CFF" stop-opacity=".76"/><stop offset=".8278" stop-color="#619CFF" stop-opacity=".87"/><stop offset=".861" stop-color="#619CFF" stop-opacity=".93"/><stop offset=".9025" stop-color="#619CFF" stop-opacity=".98"/><stop offset="1" stop-color="#619CFF"/></linearGradient>
<linearGradient id="r88" gradientUnits="userSpaceOnUse" x1="143.04" x2="1063.91" y1="0" y2="0"><stop offset="0" stop-color="#F8766D"/><stop offset=".2614" stop-color="#F8766D"/><stop offset=".2614" stop-color="#00BA38"/><stop offset=".334" stop-color="#00BA38"/><stop offset=".3672" stop-color="#00BA38" stop-opacity=".86"/><stop offset=".3755" stop-color="#00BA38" stop-opacity=".77"/><stop offset=".388" stop-color="#00BA38" stop-opacity=".52"/><stop offset=".3963" stop-color="#00BA38" stop-opacity=".38"/><stop offset=".4046" stop-color="#00BA38" stop-opacity=".3"/><stop offset=".417" stop-color="#00BA38" stop-opacity=".24"/><stop offset=".4336" stop-color="#00BA38" stop-opacity=".21"/><stop offset=".471" stop-color="#00BA38" stop-opacity=".18"/><stop offset=".5083" stop-color="#00BA38" stop-opacity=".2"/><stop offset=".5332" stop-color="#00BA38" stop-opacity=".11"/><stop offset=".5768" stop-color="#00BA38" stop-opacity=".01"/><stop offset=".5768" stop-color="#619CFF" stop-opacity=".02"/><stop offset=".6037" stop-color="#619CFF" stop-opacity=".06"/><stop offset=".6369" stop-color="#619CFF" stop-opacity=".14"/><stop offset=".7448" stop-color="#619CFF" stop-opacity=".59"/><stop offset=".7946" stop-color="#619CFF" stop-opacity=".76"/><stop offset=".832" stop-color="#619CFF" stop-opacity=".86"/><stop offset=".8651" stop-color="#619CFF" stop-opacity=".93"/><stop offset=".9025" stop-color="#619CFF" stop-opacity=".97"/><stop offset="1" stop-color="#619CFF"/></linearGradient>
<linearGradient id="r89" gradientUnits="userSpaceOnUse" x1="143.04" x2="1063.91" y1="0" y2="0"><stop offset="0" stop-color="#F8766D"/><stop offset=".2656" stop-color="#F8766D"/><stop offset=".2656" stop-color="#00BA38"/><stop offset=".334" stop-color="#00BA38"/><stop offset=".3672" stop-color="#00BA38" stop-opacity=".9"/><stop offset=".3755" stop-color="#00BA38" stop-opacity=".82"/><stop offset=".3921" stop-color="#00BA38" stop-opacity=".47"/><stop offset=".3963" stop-color="#00BA38" stop-opacity=".4"/><stop offset=".4046" stop-color="#00BA38" stop-opacity=".31"/><stop offset=".417" stop-color="#00BA38" stop-opacity=".24"/><stop offset=".4336" stop-color="#00BA38" stop-opacity=".21"/><stop offset=".471" stop-color="#00BA38" stop-opacity=".18"/><stop offset=".5083" stop-color="#00BA38" stop-opacity=".2"/><stop offset=".5332" stop-color="#00BA38" stop-opacity=".12"/><stop offset=".5809" stop-color="#00BA38" stop-opacity=".01"/><stop offset=".5809" stop-color="#619CFF" stop-opacity=".01"/><stop offset=".6037" stop-color="#619CFF" stop-opacity=".05"/><stop offset=".6411" stop-color="#619CFF" stop-opacity=".14"/><stop offset=".7531" stop-color="#619CFF" stop-opacity=".59"/><stop offset=".8029" stop-color="#619CFF" stop-opacity=".76"/><stop offset=".8402" stop-color="#619CFF" stop-opacity=".87"/><stop offset=".9066" stop-color="#619CFF" stop-opacity=".97"/><stop offset="1" stop-color="#619CFF"/></linearGradient>
<linearGradient id="r90" gradientUnits="userSpaceOnUse" x1="143.04" x2="1063.91" y1="0" y2="0"><stop offset="0" stop-color="#F8766D"/><stop offset=".2697" stop-color="#F8766D"/><stop offset=".2697" stop-color="#00BA38"/><stop offset=".334" stop-color="#00BA38"/><stop offset=".3672" stop-color="#00BA38" stop-opacity=".94"/><stop offset=".3755" stop-color="#00BA38" stop-opacity=".87"/><stop offset=".3797" stop-color="#00BA38" stop-opacity=".79"/><stop offset=".3921" stop-color="#00BA38" stop-opacity=".5"/><stop offset=".4004" stop-color="#00BA38" stop-opacity=".36"/><stop offset=".4087" stop-color="#00BA38" stop-opacity=".29"/><stop offset=".4212" stop-color="#00BA38" stop-opacity=".23"/><stop offset=".471" stop-color="#00BA38" stop-opacity=".18"/><stop offset=".5083" stop-color="#00BA38" stop-opacity=".2"/><stop offset=".5747" stop-color="#00BA38" stop-opacity=".02"/><stop offset=".5851" stop-color="#00BA38" stop-opacity=".01"/><stop offset=".5851" stop-color="#619CFF" stop-opacity=".01"/><stop offset=".5996" stop-color="#619CFF" stop-opacity=".03"/><stop offset=".6452" stop-color="#619CFF" stop-opacity=".14"/><stop offset=".7656" stop-color="#619CFF" stop-opacity=".61"/><stop offset=".8112" stop-color="#619CFF" stop-opacity=".77"/><stop offset=".8444" stop-color="#619CFF" stop-opacity=".86"/><stop offset=".8776" stop-color="#619CFF" stop-opacity=".93"/><stop offset=".9108" stop-color="#619CFF" stop-opacity=".97"/><stop offset="1" stop-color="#619CFF"/></linearGradient>
<linearGradient id="r91" gradientUnits="userSpaceOnUse" x1="143.04" x2="1063.91" y1="0" y2="0"><stop offset="0" stop-color="#F8766D"/><stop offset=".2697" stop-color="#F8766D"/><stop offset=".2697" stop-color="#00BA38"/><stop offset=".3382" stop-color="#00BA38"/><stop offset=".3631" stop-color="#00BA38" stop-opacity=".97"/><stop offset=".3714" stop-color="#00BA38" stop-opacity=".94"/><stop offset=".3755" stop-color="#00BA38" stop-opacity=".9"/><stop offset=".3797" stop-color="#00BA38" stop-opacity=".84"/><stop offset=".3921" stop-color="#00BA38" stop-opacity=".53"/><stop offset=".4004" stop-color="#00BA38" stop-opacity=".38"/><stop offset=".4087" stop-color="#00BA38" stop-opacity=".3"/><stop offset=".4212" stop-color="#00BA38" stop-opacity=".24"/><stop offset=".471" stop-color="#00BA38" stop-opacity=".18"/><stop offset=".5083" stop-color="#00BA38" stop-opacity=".2"/><stop offset=".5332" stop-color="#00BA38" stop-opacity=".13"/><stop offset=".5581" stop-color="#00BA38" stop-opacity=".08"/><stop offset=".5747" stop-color="#00BA38" stop-opacity=".02"/><stop offset=".5851" stop-color="#00BA38" stop-opacity=".02"/><stop offset=".5851" stop-color="#619CFF" stop-opacity=".01"/><stop offset=".5996" stop-color="#619CFF" stop-opacity=".02"/><stop offset=".6452" stop-color="#619CFF" stop-opacity=".13"/><stop offset=".7946" stop-color="#619CFF" stop-opacity=".69"/><stop offset=".8568" stop-color="#619CFF" stop-opacity=".88"/><stop offset=".89" stop-color="#619CFF" stop-opacity=".94"/><stop offset=".9191" stop-color="#619CFF" stop-opacity=".98"/><stop offset="1" stop-color="#619CFF"/></linearGradient>
<linearGradient id="r92" gradientUnits="userSpaceOnUse" x1="143.04" x2="1063.91" y1="0" y2="0"><stop offset="0" stop-color="#F8766D"/><stop offset=".2739" stop-color="#F8766D"/><stop offset=".2739" stop-color="#00BA38"/><stop offset=".3382" stop-color="#00BA38"/><stop offset=".3631" stop-color="#00BA38" stop-opacity=".99"/><stop offset=".3714" stop-color="#00BA38" stop-opacity=".97"/><stop offset=".3755" stop-color="#00BA38" stop-opacity=".93"/><stop offset=".3797" stop-color="#00BA38" stop-opacity=".87"/><stop offset=".3921" stop-color="#00BA38" stop-opacity=".57"/><stop offset=".4004" stop-color="#00BA38" stop-opacity=".41"/><stop offset=".4129" stop-color="#00BA38" stop-opacity=".29"/><stop offset=".4253" stop-color="#00BA38" stop-opacity=".23"/><stop offset=".4751" stop-color="#00BA38" stop-opacity=".18"/><stop offset=".5083" stop-color="#00BA38" stop-opacity=".2"/><stop offset=".5373" stop-color="#00BA38" stop-opacity=".11"/><stop offset=".5892" stop-color="#00BA38" stop-opacity=".01"/><stop offset=".5892" stop-color="#619CFF" stop-opacity=".01"/><stop offset=".6494" stop-color="#619CFF" stop-opacity=".13"/><stop offset=".8071" stop-color="#619CFF" stop-opacity=".71"/><stop offset=".8651" stop-color="#619CFF" stop-opacity=".89"/><stop offset=".9232" stop-color="#619CFF" stop-opacity=".98"/><stop offset="1" stop-color="#619CFF"/></linearGradient>
<linearGradient id="r93" gradientUnits="userSpaceOnUse" x1="143.04" x2="1063.91" y1="0" y2="0"><stop offset="0" stop-color="#F8766D"/><stop offset=".278" stop-color="#F8766D"/><stop offset=".278" stop-color="#00BA38"/><stop offset=".3589" stop-color="#00BA38"/><stop offset=".3714" stop-color="#00BA38" stop-opacity=".98"/><stop offset=".3755" stop-color="#00BA38" stop-opacity=".95"/><stop offset=".3797" stop-color="#00BA38" stop-opacity=".9"/><stop offset=".3838" stop-color="#00BA38" stop-opacity=".82"/><stop offset=".3963" stop-color="#00BA38" stop-opacity=".52"/><stop offset=".4004" stop-color="#00BA38" stop-opacity=".44"/><stop offset=".4129" stop-color="#00BA38" stop-opacity=".3"/><stop offset=".4253" stop-color="#00BA38" stop-opacity=".23"/><stop offset=".4751" stop-color="#00BA38" stop-opacity=".17"/><stop offset=".5083" stop-color="#00BA38" stop-opacity=".2"/><stop offset=".5415" stop-color="#00BA38" stop-opacity=".1"/><stop offset=".5934" stop-color="#00BA38" stop-opacity=".01"/><stop offset=".5934" stop-color="#619CFF" stop-opacity=".01"/><stop offset=".6494" stop-color="#619CFF" stop-opacity=".12"/><stop offset=".8154" stop-color="#619CFF" stop-opacity=".72"/><stop offset=".8693" stop-color="#619CFF" stop-opacity=".88"/><stop offset=".8983" stop-color="#619CFF" stop-opacity=".94"/><stop offset=".9274" stop-color="#619CFF" stop-opacity=".98"/><stop offset="1" stop-color="#619CFF"/></linearGradient>
<linearGradient id="r94" gradientUnits="userSpaceOnUse" x1="143.04" x2="1063.91" y1="0" y2="0"><stop offset="0" stop-color="#F8766D"/><stop offset=".278" stop-color="#F8766D"/><stop offset=".278" stop-color="#00BA38"/><stop offset=".3631" stop-color="#00BA38"/><stop offset=".3755" stop-color="#00BA38" stop-opacity=".97"/><stop offset=".3797" stop-color="#00BA38" stop-opacity=".92"/><stop offset=".3838" stop-color="#00BA38" stop-opacity=".85"/><stop offset=".3963" stop-color="#00BA38" stop-opacity=".56"/><stop offset=".4046" stop-color="#00BA38" stop-opacity=".41"/><stop offset=".417" stop-color="#00BA38" stop-opacity=".28"/><stop offset=".4253" stop-color="#00BA38" stop-opacity=".23"/><stop offset=".471" stop-color="#00BA38" stop-opacity=".17"/><stop offset=".5083" stop-color="#00BA38" stop-opacity=".19"/><stop offset=".5456" stop-color="#00BA38" stop-opacity=".08"/><stop offset=".5934" stop-color="#00BA38" stop-opacity=".01"/><stop offset=".5934" stop-color="#619CFF" stop-opacity=".01"/><stop offset=".6535" stop-color="#619CFF" stop-opacity=".13"/><stop offset=".832" stop-color="#619CFF" stop-opacity=".76"/><stop offset=".8776" stop-color="#619CFF" stop-opacity=".89"/><stop offset=".9315" stop-color="#619CFF" stop-opacity=".98"/><stop offset="1" stop-color="#619CFF"/></linearGradient>
<linearGradient id="r95" gradientUnits="userSpaceOnUse" x1="143.04" x2="1063.91" y1="0" y2="0"><stop offset="0" stop-color="#F8766D"/><stop offset=".2822" stop-color="#F8766D"/><stop offset=".2822" stop-color="#00BA38"/><stop offset=".3631" stop-color="#00BA38"/><stop offset=".3755" stop-color="#00BA38" stop-opacity=".98"/><stop offset=".3797" stop-color="#00BA38" stop-opacity=".94"/><stop offset=".3838" stop-color="#00BA38" stop-opacity=".88"/><stop offset=".3963" stop-color="#00BA38" stop-opacity=".6"/><stop offset=".4046" stop-color="#00BA38" stop-opacity=".44"/><stop offset=".417" stop-color="#00BA38" stop-opacity=".28"/><stop offset=".4253" stop-color="#00BA38" stop-opacity=".23"/><stop offset=".471" stop-color="#00BA38" stop-opacity=".17"/><stop offset=".5083" stop-color="#00BA38" stop-opacity=".19"/><stop offset=".5456" stop-color="#00BA38" stop-opacity=".08"/><stop offset=".5975" stop-color="#00BA38" stop-opacity="0"/><stop offset=".5975" stop-color="#619CFF" stop-opacity=".01"/><stop offset=".6452" stop-color="#619CFF" stop-opacity=".1"/><stop offset=".6826" stop-color="#619CFF" stop-opacity=".21"/><stop offset=".8402" stop-color="#619CFF" stop-opacity=".77"/><stop offset=".8817" stop-color="#619CFF" stop-opacity=".9"/><stop offset=".9357" stop-color="#619CFF" stop-opacity=".98"/><stop offset="1" stop-color="#619CFF"/></linearGradient>
<linearGradient id="r96" gradientUnits="userSpaceOnUse" x1="143.04" x2="1063.91" y1="0" y2="0"><stop offset="0" stop-color="#F8766D"/><stop offset=".2863" stop-color="#F8766D"/><stop offset=".2863" stop-color="#00BA38"/><stop offset=".3631" stop-color="#00BA38"/><stop offset=".3755" stop-color="#00BA38" stop-opacity=".98"/><stop offset=".3797" stop-color="#00BA38" stop-opacity=".96"/><stop offset=".3838" stop-color="#00BA38" stop-opacity=".91"/><stop offset=".4004" stop-color="#00BA38" stop-opacity=".55"/><stop offset=".4129" stop-color="#00BA38" stop-opacity=".35"/><stop offset=".4212" stop-color="#00BA38" stop-opacity=".25"/><stop offset=".4295" stop-color="#00BA38" stop-opacity=".21"/><stop offset=".4751" stop-color="#00BA38" stop-opacity=".16"/><stop offset=".5083" stop-color="#00BA38" stop-opacity=".19"/><stop offset=".5498" stop-color="#00BA38" stop-opacity=".06"/><stop offset=".5975" stop-color="#00BA38" stop-opacity="0"/><stop offset=".5975" stop-color="#619CFF" stop-opacity=".01"/><stop offset=".6452" stop-color="#619CFF" stop-opacity=".09"/><stop offset=".6867" stop-color="#619CFF" stop-opacity=".21"/><stop offset=".7614" stop-color="#619CFF" stop-opacity=".46"/><stop offset=".8527" stop-color="#619CFF" stop-opacity=".8"/><stop offset=".8859" stop-color="#619CFF" stop-opacity=".9"/><stop offset=".9357" stop-color="#619CFF" stop-opacity=".98"/><stop offset="1" stop-color="#619CFF"/></linearGradient>
<linearGradient id="r97" gradientUnits="userSpaceOnUse" x1="143.04" x2="1063.91" y1="0" y2="0"><stop offset="0" stop-color="#F8766D"/><stop offset=".2905" stop-color="#F8766D"/><stop offset=".2905" stop-color="#00BA38"/><stop offset=".3672" stop-color="#00BA38"/><stop offset=".3797" stop-color="#00BA38" stop-opacity=".97"/><stop offset=".388" stop-color="#00BA38" stop-opacity=".86"/><stop offset=".4046" stop-color="#00BA38" stop-opacity=".51"/><stop offset=".4129" stop-color="#00BA38" stop-opacity=".36"/><stop offset=".4212" stop-color="#00BA38" stop-opacity=".26"/><stop offset=".4295" stop-color="#00BA38" stop-opacity=".21"/><stop offset=".4751" stop-color="#00BA38" stop-opacity=".16"/><stop offset=".5083" stop-color="#00BA38" stop-opacity=".18"/><stop offset=".5498" stop-color="#00BA38" stop-opacity=".06"/><stop offset=".5975" stop-color="#00BA38" stop-opacity="0"/><stop offset=".5975" stop-color="#619CFF" stop-opacity=".01"/><stop offset=".6452" stop-color="#619CFF" stop-opacity=".09"/><stop offset=".6867" stop-color="#619CFF" stop-opacity=".2"/><stop offset=".7614" stop-color="#619CFF" stop-opacity=".44"/><stop offset=".8568" stop-color="#619CFF" stop-opacity=".8"/><stop offset=".89" stop-color="#619CFF" stop-opacity=".9"/><stop offset=".9398" stop-color="#619CFF" stop-opacity=".98"/><stop offset="1" stop-color="#619CFF"/></linearGradient>
<linearGradient id="r98" gradientUnits="userSpaceOnUse" x1="143.04" x2="1063.91" y1="0" y2="0"><stop offset="0" stop-color="#F8766D"/><stop offset=".2905" stop-color="#F8766D"/><stop offset=".2905" stop-color="#00BA38"/><stop offset=".3672" stop-color="#00BA38"/><stop offset=".3797" stop-color="#00BA38" stop-opacity=".98"/><stop offset=".3838" stop-color="#00BA38" stop-opacity=".95"/><stop offset=".3921" stop-color="#00BA38" stop-opacity=".82"/><stop offset=".4046" stop-color="#00BA38" stop-opacity=".54"/><stop offset=".4129" stop-color="#00BA38" stop-opacity=".37"/><stop offset=".4212" stop-color="#00BA38" stop-opacity=".26"/><stop offset=".4295" stop-color="#00BA38" stop-opacity=".22"/><stop offset=".471" stop-color="#00BA38" stop-opacity=".16"/><stop offset=".5083" stop-color="#00BA38" stop-opacity=".18"/><stop offset=".5498" stop-color="#00BA38" stop-opacity=".05"/><stop offset=".5934" stop-color="#00BA38" stop-opacity=".01"/><stop offset=".5934" stop-color="#619CFF" stop-opacity="0"/><stop offset=".6452" stop-color="#619CFF" stop-opacity=".09"/><stop offset=".6909" stop-color="#619CFF" stop-opacity=".2"/><stop offset=".7656" stop-color="#619CFF" stop-opacity=".44"/><stop offset=".861" stop-color="#619CFF" stop-opacity=".8"/><stop offset=".8942" stop-color="#619CFF" stop-opacity=".9"/><stop offset=".9398" stop-color="#619CFF" stop-opacity=".98"/><stop offset="1" stop-color="#619CFF"/></linearGradient>
<linearGradient id="r99" gradientUnits="userSpaceOnUse" x1="143.04" x2="1063.91" y1="0" y2="0"><stop offset="0" stop-color="#F8766D"/><stop offset=".2946" stop-color="#F8766D"/><stop offset=".2946" stop-color="#00BA38"/><stop offset=".3714" stop-color="#00BA38"/><stop offset=".3838" stop-color="#00BA38" stop-opacity=".96"/><stop offset=".3921" stop-color="#00BA38" stop-opacity=".86"/><stop offset=".4129" stop-color="#00BA38" stop-opacity=".39"/><stop offset=".4212" stop-color="#00BA38" stop-opacity=".28"/><stop offset=".4295" stop-color="#00BA38" stop-opacity=".22"/><stop offset=".4502" stop-color="#00BA38" stop-opacity=".17"/><stop offset=".471" stop-color="#00BA38" stop-opacity=".15"/><stop offset=".5083" stop-color="#00BA38" stop-opacity=".17"/><stop offset=".5456" stop-color="#00BA38" stop-opacity=".06"/><stop offset=".5934" stop-color="#00BA38" stop-opacity=".01"/><stop offset=".5934" stop-color="#619CFF" stop-opacity="0"/><stop offset=".6452" stop-color="#619CFF" stop-opacity=".08"/><stop offset=".6909" stop-color="#619CFF" stop-opacity=".2"/><stop offset=".7697" stop-color="#619CFF" stop-opacity=".44"/><stop offset=".8651" stop-color="#619CFF" stop-opacity=".8"/><stop offset=".8983" stop-color="#619CFF" stop-opacity=".91"/><stop offset=".944" stop-color="#619CFF" stop-opacity=".98"/><stop offset="1" stop-color="#619CFF"/></linearGradient>
<linearGradient id="r100" gradientUnits="userSpaceOnUse" x1="143.04" x2="1063.91" y1="0" y2="0"><stop offset="0" stop-color="#F8766D"/><stop offset=".2946" stop-color="#F8766D"/><stop offset=".2946" stop-color="#00BA38"/><stop offset=".3714" stop-color="#00BA38"/><stop offset=".3838" stop-color="#00BA38" stop-opacity=".98"/><stop offset=".3921" stop-color="#00BA38" stop-opacity=".89"/><stop offset=".3963" stop-color="#00BA38" stop-opacity=".81"/><stop offset=".4087" stop-color="#00BA38" stop-opacity=".5"/><stop offset=".417" stop-color="#00BA38" stop-opacity=".35"/><stop offset=".4253" stop-color="#00BA38" stop-opacity=".26"/><stop offset=".4336" stop-color="#00BA38" stop-opacity=".22"/><stop offset=".4502" stop-color="#00BA38" stop-opacity=".17"/><stop offset=".471" stop-color="#00BA38" stop-opacity=".14"/><stop offset=".4917" stop-color="#00BA38" stop-opacity=".14"/><stop offset=".5041" stop-color="#00BA38" stop-opacity=".17"/><stop offset=".5415" stop-color="#00BA38" stop-opacity=".07"/><stop offset=".5892" stop-color="#00BA38" stop-opacity=".01"/><stop offset=".5892" stop-color="#619CFF" stop-opacity=".01"/><stop offset=".6535" stop-color="#619CFF" stop-opacity=".1"/><stop offset=".7448" stop-color="#619CFF" stop-opacity=".35"/><stop offset=".7946" stop-color="#619CFF" stop-opacity=".51"/><stop offset=".8734" stop-color="#619CFF" stop-opacity=".82"/><stop offset=".9025" stop-color="#619CFF" stop-opacity=".91"/><stop offset=".9481" stop-color="#619CFF" stop-opacity=".98"/><stop offset="1" stop-color="#619CFF"/></linearGradient>
<linearGradient id="r101" gradientUnits="userSpaceOnUse" x1="143.04" x2="1063.91" y1="0" y2="0"><stop offset="0" stop-color="#F8766D"/><stop offset=".2988" stop-color="#F8766D"/><stop offset=".2988" stop-color="#00BA38"/><stop offset=".3714" stop-color="#00BA38"/><stop offset=".3838" stop-color="#00BA38" stop-opacity=".98"/><stop offset=".3921" stop-color="#00BA38" stop-opacity=".91"/><stop offset=".3963" stop-color="#00BA38" stop-opacity=".84"/><stop offset=".4129" stop-color="#00BA38" stop-opacity=".45"/><stop offset=".4212" stop-color="#00BA38" stop-opacity=".32"/><stop offset=".4295" stop-color="#00BA38" stop-opacity=".25"/><stop offset=".4502" stop-color="#00BA38" stop-opacity=".16"/><stop offset=".4834" stop-color="#00BA38" stop-opacity=".13"/><stop offset=".5041" stop-color="#00BA38" stop-opacity=".16"/><stop offset=".529" stop-color="#00BA38" stop-opacity=".09"/><stop offset=".5851" stop-color="#00BA38" stop-opacity=".01"/><stop offset=".5851" stop-color="#619CFF" stop-opacity=".01"/><stop offset=".6535" stop-color="#619CFF" stop-opacity=".11"/><stop offset=".7448" stop-color="#619CFF" stop-opacity=".34"/><stop offset=".7988" stop-color="#619CFF" stop-opacity=".51"/><stop offset=".8776" stop-color="#619CFF" stop-opacity=".83"/><stop offset=".9066" stop-color="#619CFF" stop-opacity=".92"/><stop offset=".9481" stop-color="#619CFF" stop-opacity=".98"/><stop offset="1" stop-color="#619CFF"/></linearGradient>
<linearGradient id="r102" gradientUnits="userSpaceOnUse" x1="143.04" x2="1063.91" y1="0" y2="0"><stop offset="0" stop-color="#F8766D"/><stop offset=".3029" stop-color="#F8766D"/><stop offset=".3029" stop-color="#00BA38"/><stop offset=".3755" stop-color="#00BA38"/><stop offset=".388" stop-color="#00BA38" stop-opacity=".96"/><stop offset=".3963" stop-color="#00BA38" stop-opacity=".86"/><stop offset=".4129" stop-color="#00BA38" stop-opacity=".48"/><stop offset=".4212" stop-color="#00BA38" stop-opacity=".36"/><stop offset=".4295" stop-color="#00BA38" stop-opacity=".28"/><stop offset=".4544" stop-color="#00BA38" stop-opacity=".13"/><stop offset=".4876" stop-color="#00BA38" stop-opacity=".11"/><stop offset=".5041" stop-color="#00BA38" stop-opacity=".14"/><stop offset=".5249" stop-color="#00BA38" stop-opacity=".08"/><stop offset=".5809" stop-color="#00BA38" stop-opacity=".01"/><stop offset=".5809" stop-color="#619CFF" stop-opacity=".01"/><stop offset=".6535" stop-color="#619CFF" stop-opacity=".11"/><stop offset=".7448" stop-color="#619CFF" stop-opacity=".33"/><stop offset=".7946" stop-color="#619CFF" stop-opacity=".49"/><stop offset=".8776" stop-color="#619CFF" stop-opacity=".82"/><stop offset=".9108" stop-color="#619CFF" stop-opacity=".92"/><stop offset=".9523" stop-color="#619CFF" stop-opacity=".99"/><stop offset="1" stop-color="#619CFF"/></linearGradient>
<linearGradient id="r103" gradientUnits="userSpaceOnUse" x1="143.04" x2="1063.91" y1="0" y2="0"><stop offset="0" stop-color="#F8766D"/><stop offset=".3071" stop-color="#F8766D"/><stop offset=".3071" stop-color="#00BA38"/><stop offset=".3755" stop-color="#00BA38"/><stop offset=".388" stop-color="#00BA38" stop-opacity=".97"/><stop offset=".3963" stop-color="#00BA38" stop-opacity=".88"/><stop offset=".4129" stop-color="#00BA38" stop-opacity=".52"/><stop offset=".4212" stop-color="#00BA38" stop-opacity=".4"/><stop offset=".4295" stop-color="#00BA38" stop-opacity=".31"/><stop offset=".4419" stop-color="#00BA38" stop-opacity=".23"/><stop offset=".4502" stop-color="#00BA38" stop-opacity=".14"/><stop offset=".4544" stop-color="#00BA38" stop-opacity=".12"/><stop offset=".4876" stop-color="#00BA38" stop-opacity=".09"/><stop offset=".5041" stop-color="#00BA38" stop-opacity=".12"/><stop offset=".5249" stop-color="#00BA38" stop-opacity=".06"/><stop offset=".5685" stop-color="#00BA38" stop-opacity=".01"/><stop offset=".5685" stop-color="#619CFF" stop-opacity=".01"/><stop offset=".6079" stop-color="#619CFF" stop-opacity=".07"/><stop offset=".6535" stop-color="#619CFF" stop-opacity=".12"/><stop offset=".7448" stop-color="#619CFF" stop-opacity=".33"/><stop offset=".7988" stop-color="#619CFF" stop-opacity=".49"/><stop offset=".8776" stop-color="#619CFF" stop-opacity=".81"/><stop offset=".9149" stop-color="#619CFF" stop-opacity=".93"/><stop offset=".9523" stop-color="#619CFF" stop-opacity=".98"/><stop offset="1" stop-color="#619CFF"/></linearGradient>
<linearGradient id="r104" gradientUnits="userSpaceOnUse" x1="143.04" x2="1063.91" y1="0" y2="0"><stop offset="0" stop-color="#F8766D"/><stop offset=".3071" stop-color="#F8766D"/><stop offset=".3071" stop-color="#00BA38"/><stop offset=".3755" stop-color="#00BA38"/><stop offset=".388" stop-color="#00BA38" stop-opacity=".97"/><stop offset=".3963" stop-color="#00BA38" stop-opacity=".89"/><stop offset=".4004" stop-color="#00BA38" stop-opacity=".82"/><stop offset=".4129" stop-color="#00BA38" stop-opacity=".57"/><stop offset=".4212" stop-color="#00BA38" stop-opacity=".44"/><stop offset=".4295" stop-color="#00BA38" stop-opacity=".35"/><stop offset=".4419" stop-color="#00BA38" stop-opacity=".25"/><stop offset=".4502" stop-color="#00BA38" stop-opacity=".13"/><stop offset=".4544" stop-color="#00BA38" stop-opacity=".1"/><stop offset=".4876" stop-color="#00BA38" stop-opacity=".07"/><stop offset=".5041" stop-color="#00BA38" stop-opacity=".09"/><stop offset=".5249" stop-color="#00BA38" stop-opacity=".04"/><stop offset=".5602" stop-color="#00BA38" stop-opacity=".01"/><stop offset=".5602" stop-color="#619CFF" stop-opacity=".01"/><stop offset=".6079" stop-color="#619CFF" stop-opacity=".09"/><stop offset=".6535" stop-color="#619CFF" stop-opacity=".13"/><stop offset=".749" stop-color="#619CFF" stop-opacity=".34"/><stop offset=".8029" stop-color="#619CFF" stop-opacity=".5"/><stop offset=".8817" stop-color="#619CFF" stop-opacity=".82"/><stop offset=".9149" stop-color="#619CFF" stop-opacity=".92"/><stop offset=".9523" stop-color="#619CFF" stop-opacity=".98"/><stop offset="1" stop-color="#619CFF"/></linearGradient>
<linearGradient id="r105" gradientUnits="userSpaceOnUse" x1="143.04" x2="1063.91" y1="0" y2="0"><stop offset="0" stop-color="#F8766D"/><stop offset=".3112" stop-color="#F8766D"/><stop offset=".3112" stop-color="#00BA38"/><stop offset=".3755" stop-color="#00BA38"/><stop offset=".388" stop-color="#00BA38" stop-opacity=".97"/><stop offset=".3963" stop-color="#00BA38" stop-opacity=".9"/><stop offset=".4004" stop-color="#00BA38" stop-opacity=".84"/><stop offset=".417" stop-color="#00BA38" stop-opacity=".55"/><stop offset=".4295" stop-color="#00BA38" stop-opacity=".38"/><stop offset=".4419" stop-color="#00BA38" stop-opacity=".27"/><stop offset=".4502" stop-color="#00BA38" stop-opacity=".12"/><stop offset=".4544" stop-color="#00BA38" stop-opacity=".09"/><stop offset=".4668" stop-color="#00BA38" stop-opacity=".06"/><stop offset=".4917" stop-color="#00BA38" stop-opacity=".04"/><stop offset=".5041" stop-color="#00BA38" stop-opacity=".06"/><stop offset=".5207" stop-color="#00BA38" stop-opacity=".03"/><stop offset=".5436" stop-color="#00BA38" stop-opacity=".01"/><stop offset=".5436" stop-color="#619CFF" stop-opacity=".01"/><stop offset=".5622" stop-color="#619CFF" stop-opacity=".02"/><stop offset=".6037" stop-color="#619CFF" stop-opacity=".1"/><stop offset=".6494" stop-color="#619CFF" stop-opacity=".14"/><stop offset=".7365" stop-color="#619CFF" stop-opacity=".31"/><stop offset=".8029" stop-color="#619CFF" stop-opacity=".5"/><stop offset=".8817" stop-color="#619CFF" stop-opacity=".82"/><stop offset=".9108" stop-color="#619CFF" stop-opacity=".91"/><stop offset=".9523" stop-color="#619CFF" stop-opacity=".98"/><stop offset="1" stop-color="#619CFF"/></linearGradient>
<linearGradient id="r106" gradientUnits="userSpaceOnUse" x1="143.04" x2="1063.91" y1="0" y2="0"><stop offset="0" stop-color="#F8766D"/><stop offset=".3154" stop-color="#F8766D"/><stop offset=".3154" stop-color="#00BA38"/><stop offset=".3755" stop-color="#00BA38"/><stop offset=".388" stop-color="#00BA38" stop-opacity=".97"/><stop offset=".4004" stop-color="#00BA38" stop-opacity=".86"/><stop offset=".4129" stop-color="#00BA38" stop-opacity=".66"/><stop offset=".4295" stop-color="#00BA38" stop-opacity=".42"/><stop offset=".4419" stop-color="#00BA38" stop-opacity=".3"/><stop offset=".4502" stop-color="#00BA38" stop-opacity=".12"/><stop offset=".4544" stop-color="#00BA38" stop-opacity=".07"/><stop offset=".4668" stop-color="#00BA38" stop-opacity=".04"/><stop offset=".4917" stop-color="#00BA38" stop-opacity=".02"/><stop offset=".5041" stop-color="#00BA38" stop-opacity=".04"/><stop offset=".5228" stop-color="#00BA38" stop-opacity=".01"/><stop offset=".5228" stop-color="#619CFF" stop-opacity=".02"/><stop offset=".5581" stop-color="#619CFF" stop-opacity=".03"/><stop offset=".6037" stop-color="#619CFF" stop-opacity=".12"/><stop offset=".6452" stop-color="#619CFF" stop-opacity=".14"/><stop offset=".7324" stop-color="#619CFF" stop-opacity=".3"/><stop offset=".8071" stop-color="#619CFF" stop-opacity=".51"/><stop offset=".8817" stop-color="#619CFF" stop-opacity=".81"/><stop offset=".9108" stop-color="#619CFF" stop-opacity=".9"/><stop offset=".9523" stop-color="#619CFF" stop-opacity=".98"/><stop offset="1" stop-color="#619CFF"/></linearGradient>
<linearGradient id="r107" gradientUnits="userSpaceOnUse" x1="143.04" x2="1063.91" y1="0" y2="0"><stop offset="0" stop-color="#F8766D"/><stop offset=".3195" stop-color="#F8766D"/><stop offset=".3195" stop-color="#00BA38"/><stop offset=".3797" stop-color="#00BA38"/><stop offset=".3921" stop-color="#00BA38" stop-opacity=".95"/><stop offset=".4004" stop-color="#00BA38" stop-opacity=".88"/><stop offset=".4336" stop-color="#00BA38" stop-opacity=".4"/><stop offset=".4419" stop-color="#00BA38" stop-opacity=".32"/><stop offset=".4502" stop-color="#00BA38" stop-opacity=".12"/><stop offset=".4544" stop-color="#00BA38" stop-opacity=".06"/><stop offset=".4627" stop-color="#00BA38" stop-opacity=".03"/><stop offset=".4938" stop-color="#00BA38" stop-opacity=".01"/><stop offset=".4938" stop-color="#619CFF" stop-opacity=".01"/><stop offset=".5581" stop-color="#619CFF" stop-opacity=".05"/><stop offset=".6037" stop-color="#619CFF" stop-opacity=".14"/><stop offset=".6452" stop-color="#619CFF" stop-opacity=".16"/><stop offset=".7324" stop-color="#619CFF" stop-opacity=".31"/><stop offset=".8071" stop-color="#619CFF" stop-opacity=".5"/><stop offset=".8859" stop-color="#619CFF" stop-opacity=".82"/><stop offset=".9149" stop-color="#619CFF" stop-opacity=".91"/><stop offset=".9523" stop-color="#619CFF" stop-opacity=".98"/><stop offset="1" stop-color="#619CFF"/></linearGradient>
<linearGradient id="r108" gradientUnits="userSpaceOnUse" x1="143.04" x2="1063.91" y1="0" y2="0"><stop offset="0" stop-color="#F8766D"/><stop offset=".3195" stop-color="#F8766D"/><stop offset=".3195" stop-color="#00BA38"/><stop offset=".3797" stop-color="#00BA38"/><stop offset=".3921" stop-color="#00BA38" stop-opacity=".96"/><stop offset=".4046" stop-color="#00BA38" stop-opacity=".85"/><stop offset=".4212" stop-color="#00BA38" stop-opacity=".64"/><stop offset=".4336" stop-color="#00BA38" stop-opacity=".44"/><stop offset=".4419" stop-color="#00BA38" stop-opacity=".34"/><stop offset=".4502" stop-color="#00BA38" stop-opacity=".13"/><stop offset=".4544" stop-color="#00BA38" stop-opacity=".05"/><stop offset=".4585" stop-color="#00BA38" stop-opacity=".03"/><stop offset=".4689" stop-color="#00BA38" stop-opacity=".01"/><stop offset=".4689" stop-color="#619CFF" stop-opacity=".01"/><stop offset=".5581" stop-color="#619CFF" stop-opacity=".08"/><stop offset=".6037" stop-color="#619CFF" stop-opacity=".16"/><stop offset=".6452" stop-color="#619CFF" stop-opacity=".18"/><stop offset=".7324" stop-color="#619CFF" stop-opacity=".32"/><stop offset=".8071" stop-color="#619CFF" stop-opacity=".5"/><stop offset=".8859" stop-color="#619CFF" stop-opacity=".82"/><stop offset=".9149" stop-color="#619CFF" stop-opacity=".91"/><stop offset=".9564" stop-color="#619CFF" stop-opacity=".98"/><stop offset="1" stop-color="#619CFF"/></linearGradient>
<linearGradient id="r109" gradientUnits="userSpaceOnUse" x1="143.04" x2="1063.91" y1="0" y2="0"><stop offset="0" stop-color="#F8766D"/><stop offset=".3237" stop-color="#F8766D"/><stop offset=".3237" stop-color="#00BA38"/><stop offset=".3797" stop-color="#00BA38"/><stop offset=".388" stop-color="#00BA38" stop-opacity=".98"/><stop offset=".3963" stop-color="#00BA38" stop-opacity=".94"/><stop offset=".4087" stop-color="#00BA38" stop-opacity=".83"/><stop offset=".4253" stop-color="#00BA38" stop-opacity=".63"/><stop offset=".4336" stop-color="#00BA38" stop-opacity=".48"/><stop offset=".4419" stop-color="#00BA38" stop-opacity=".36"/><stop offset=".4544" stop-color="#00BA38" stop-opacity=".05"/><stop offset=".4606" stop-color="#00BA38" stop-opacity=".02"/><stop offset=".4606" stop-color="#619CFF" stop-opacity=".01"/><stop offset=".5" stop-color="#619CFF" stop-opacity=".04"/><stop offset=".5249" stop-color="#619CFF" stop-opacity=".09"/><stop offset=".5622" stop-color="#619CFF" stop-opacity=".1"/><stop offset=".6037" stop-color="#619CFF" stop-opacity=".18"/><stop offset=".6494" stop-color="#619CFF" stop-opacity=".2"/><stop offset=".7365" stop-color="#619CFF" stop-opacity=".33"/><stop offset=".8112" stop-color="#619CFF" stop-opacity=".52"/><stop offset=".8859" stop-color="#619CFF" stop-opacity=".81"/><stop offset=".9149" stop-color="#619CFF" stop-opacity=".91"/><stop offset=".9564" stop-color="#619CFF" stop-opacity=".98"/><stop offset="1" stop-color="#619CFF"/></linearGradient>
<linearGradient id="r110" gradientUnits="userSpaceOnUse" x1="143.04" x2="1063.91" y1="0" y2="0"><stop offset="0" stop-color="#F8766D"/><stop offset=".3278" stop-color="#F8766D"/><stop offset=".3278" stop-color="#00BA38"/><stop offset=".3838" stop-color="#00BA38"/><stop offset=".3921" stop-color="#00BA38" stop-opacity=".97"/><stop offset=".4004" stop-color="#00BA38" stop-opacity=".93"/><stop offset=".417" stop-color="#00BA38" stop-opacity=".78"/><stop offset=".4253" stop-color="#00BA38" stop-opacity=".68"/><stop offset=".4419" stop-color="#00BA38" stop-opacity=".38"/><stop offset=".4544" stop-color="#00BA38" stop-opacity=".06"/><stop offset=".4564" stop-color="#00BA38" stop-opacity=".06"/><stop offset=".4564" stop-color="#619CFF" stop-opacity=".01"/><stop offset=".5207" stop-color="#619CFF" stop-opacity=".11"/><stop offset=".5622" stop-color="#619CFF" stop-opacity=".13"/><stop offset=".6037" stop-color="#619CFF" stop-opacity=".2"/><stop offset=".6494" stop-color="#619CFF" stop-opacity=".22"/><stop offset=".7407" stop-color="#619CFF" stop-opacity=".35"/><stop offset=".8112" stop-color="#619CFF" stop-opacity=".52"/><stop offset=".89" stop-color="#619CFF" stop-opacity=".83"/><stop offset=".9191" stop-color="#619CFF" stop-opacity=".91"/><stop offset=".9564" stop-color="#619CFF" stop-opacity=".98"/><stop offset="1" stop-color="#619CFF"/></linearGradient>
<linearGradient id="r111" gradientUnits="userSpaceOnUse" x1="143.04" x2="1063.91" y1="0" y2="0"><stop offset="0" stop-color="#F8766D"/><stop offset=".332" stop-color="#F8766D"/><stop offset=".332" stop-color="#00BA38"/><stop offset=".388" stop-color="#00BA38" stop-opacity=".99"/><stop offset=".3963" stop-color="#00BA38" stop-opacity=".97"/><stop offset=".4087" stop-color="#00BA38" stop-opacity=".89"/><stop offset=".417" stop-color="#00BA38" stop-opacity=".82"/><stop offset=".4253" stop-color="#00BA38" stop-opacity=".72"/><stop offset=".4419" stop-color="#00BA38" stop-opacity=".4"/><stop offset=".4544" stop-color="#00BA38" stop-opacity=".06"/><stop offset=".4564" stop-color="#00BA38" stop-opacity=".06"/><stop offset=".4564" stop-color="#619CFF" stop-opacity=".02"/><stop offset=".4834" stop-color="#619CFF" stop-opacity=".09"/><stop offset=".5166" stop-color="#619CFF" stop-opacity=".14"/><stop offset=".5622" stop-color="#619CFF" stop-opacity=".15"/><stop offset=".6037" stop-color="#619CFF" stop-opacity=".22"/><stop offset=".6494" stop-color="#619CFF" stop-opacity=".24"/><stop offset=".7448" stop-color="#619CFF" stop-opacity=".37"/><stop offset=".8154" stop-color="#619CFF" stop-opacity=".54"/><stop offset=".89" stop-color="#619CFF" stop-opacity=".82"/><stop offset=".9191" stop-color="#619CFF" stop-opacity=".91"/><stop offset=".9564" stop-color="#619CFF" stop-opacity=".98"/><stop offset="1" stop-color="#619CFF"/></linearGradient>
<linearGradient id="r112" gradientUnits="userSpaceOnUse" x1="143.04" x2="1063.91" y1="0" y2="0"><stop offset="0" stop-color="#F8766D"/><stop offset=".332" stop-color="#F8766D"/><stop offset=".332" stop-color="#00BA38"/><stop offset=".3921" stop-color="#00BA38" stop-opacity=".99"/><stop offset=".4046" stop-color="#00BA38" stop-opacity=".94"/><stop offset=".417" stop-color="#00BA38" stop-opacity=".86"/><stop offset=".4253" stop-color="#00BA38" stop-opacity=".77"/><stop offset=".4295" stop-color="#00BA38" stop-opacity=".7"/><stop offset=".4419" stop-color="#00BA38" stop-opacity=".42"/><stop offset=".4544" stop-color="#00BA38" stop-opacity=".05"/><stop offset=".4564" stop-color="#00BA38" stop-opacity=".05"/><stop offset=".4564" stop-color="#619CFF" stop-opacity=".03"/><stop offset=".4834" stop-color="#619CFF" stop-opacity=".11"/><stop offset=".5166" stop-color="#619CFF" stop-opacity=".16"/><stop offset=".5622" stop-color="#619CFF" stop-opacity=".18"/><stop offset=".6037" stop-color="#619CFF" stop-opacity=".24"/><stop offset=".6535" stop-color="#619CFF" stop-opacity=".26"/><stop offset=".749" stop-color="#619CFF" stop-opacity=".39"/><stop offset=".8154" stop-color="#619CFF" stop-opacity=".55"/><stop offset=".89" stop-color="#619CFF" stop-opacity=".82"/><stop offset=".9191" stop-color="#619CFF" stop-opacity=".91"/><stop offset=".9564" stop-color="#619CFF" stop-opacity=".98"/><stop offset="1" stop-color="#619CFF"/></linearGradient>
<linearGradient id="r113" gradientUnits="userSpaceOnUse" x1="143.04" x2="1063.91" y1="0" y2="0"><stop offset="0" stop-color="#F8766D"/><stop offset=".3361" stop-color="#F8766D"/><stop offset=".3361" stop-color="#00BA38"/><stop offset=".3921" stop-color="#00BA38" stop-opacity=".99"/><stop offset=".4046" stop-color="#00BA38" stop-opacity=".96"/><stop offset=".417" stop-color="#00BA38" stop-opacity=".89"/><stop offset=".4253" stop-color="#00BA38" stop-opacity=".81"/><stop offset=".4295" stop-color="#00BA38" stop-opacity=".74"/><stop offset=".4419" stop-color="#00BA38" stop-opacity=".45"/><stop offset=".4502" stop-color="#00BA38" stop-opacity=".17"/><stop offset=".4544" stop-color="#00BA38" stop-opacity=".05"/><stop offset=".4564" stop-color="#00BA38" stop-opacity=".05"/><stop offset=".4564" stop-color="#619CFF" stop-opacity=".03"/><stop offset=".4834" stop-color="#619CFF" stop-opacity=".14"/><stop offset=".5124" stop-color="#619CFF" stop-opacity=".18"/><stop offset=".5622" stop-color="#619CFF" stop-opacity=".21"/><stop offset=".6037" stop-color="#619CFF" stop-opacity=".26"/><stop offset=".6577" stop-color="#619CFF" stop-opacity=".29"/><stop offset=".7573" stop-color="#619CFF" stop-opacity=".42"/><stop offset=".8195" stop-color="#619CFF" stop-opacity=".57"/><stop offset=".8942" stop-color="#619CFF" stop-opacity=".84"/><stop offset=".9232" stop-color="#619CFF" stop-opacity=".92"/><stop offset=".9606" stop-color="#619CFF" stop-opacity=".98"/><stop offset="1" stop-color="#619CFF"/></linearGradient>
<linearGradient id="r114" gradientUnits="userSpaceOnUse" x1="143.04" x2="1063.91" y1="0" y2="0"><stop offset="0" stop-color="#F8766D"/><stop offset=".3402" stop-color="#F8766D"/><stop offset=".3402" stop-color="#00BA38"/><stop offset=".3963" stop-color="#00BA38" stop-opacity=".99"/><stop offset=".4087" stop-color="#00BA38" stop-opacity=".96"/><stop offset=".4212" stop-color="#00BA38" stop-opacity=".89"/><stop offset=".4295" stop-color="#00BA38" stop-opacity=".78"/><stop offset=".4336" stop-color="#00BA38" stop-opacity=".7"/><stop offset=".4419" stop-color="#00BA38" stop-opacity=".48"/><stop offset=".4502" stop-color="#00BA38" stop-opacity=".19"/><stop offset=".4544" stop-color="#00BA38" stop-opacity=".07"/><stop offset=".4564" stop-color="#00BA38" stop-opacity=".07"/><stop offset=".4564" stop-color="#619CFF" stop-opacity=".04"/><stop offset=".4834" stop-color="#619CFF" stop-opacity=".16"/><stop offset=".5" stop-color="#619CFF" stop-opacity=".2"/><stop offset=".6618" stop-color="#619CFF" stop-opacity=".32"/><stop offset=".7614" stop-color="#619CFF" stop-opacity=".44"/><stop offset=".8195" stop-color="#619CFF" stop-opacity=".58"/><stop offset=".8942" stop-color="#619CFF" stop-opacity=".83"/><stop offset=".9232" stop-color="#619CFF" stop-opacity=".92"/><stop offset=".9606" stop-color="#619CFF" stop-opacity=".98"/><stop offset="1" stop-color="#619CFF"/></linearGradient>
<linearGradient id="r115" gradientUnits="userSpaceOnUse" x1="143.04" x2="1063.91" y1="0" y2="0"><stop offset="0" stop-color="#F8766D"/><stop offset=".3444" stop-color="#F8766D"/><stop offset=".3444" stop-color="#00BA38"/><stop offset=".3963" stop-color="#00BA38"/><stop offset=".4087" stop-color="#00BA38" stop-opacity=".97"/><stop offset=".4212" stop-color="#00BA38" stop-opacity=".91"/><stop offset=".4295" stop-color="#00BA38" stop-opacity=".82"/><stop offset=".4336" stop-color="#00BA38" stop-opacity=".75"/><stop offset=".4419" stop-color="#00BA38" stop-opacity=".53"/><stop offset=".4544" stop-color="#00BA38" stop-opacity=".11"/><stop offset=".4564" stop-color="#00BA38" stop-opacity=".11"/><stop offset=".4564" stop-color="#619CFF" stop-opacity=".03"/><stop offset=".4834" stop-color="#619CFF" stop-opacity=".18"/><stop offset=".5" stop-color="#619CFF" stop-opacity=".22"/><stop offset=".666" stop-color="#619CFF" stop-opacity=".34"/><stop offset=".7697" stop-color="#619CFF" stop-opacity=".47"/><stop offset=".8237" stop-color="#619CFF" stop-opacity=".6"/><stop offset=".8983" stop-color="#619CFF" stop-opacity=".85"/><stop offset=".9232" stop-color="#619CFF" stop-opacity=".92"/><stop offset=".9606" stop-color="#619CFF" stop-opacity=".98"/><stop offset="1" stop-color="#619CFF"/></linearGradient>
<linearGradient id="r116" gradientUnits="userSpaceOnUse" x1="143.04" x2="1063.91" y1="0" y2="0"><stop offset="0" stop-color="#F8766D"/><stop offset=".3444" stop-color="#F8766D"/><stop offset=".3444" stop-color="#00BA38"/><stop offset=".4004" stop-color="#00BA38"/><stop offset=".4129" stop-color="#00BA38" stop-opacity=".97"/><stop offset=".4212" stop-color="#00BA38" stop-opacity=".93"/><stop offset=".4295" stop-color="#00BA38" stop-opacity=".86"/><stop offset=".4336" stop-color="#00BA38" stop-opacity=".79"/><stop offset=".4419" stop-color="#00BA38" stop-opacity=".59"/><stop offset=".4544" stop-color="#00BA38" stop-opacity=".16"/><stop offset=".4564" stop-color="#00BA38" stop-opacity=".16"/><stop offset=".4564" stop-color="#619CFF" stop-opacity=".03"/><stop offset=".4585" stop-color="#619CFF" stop-opacity=".03"/><stop offset=".4793" stop-color="#619CFF" stop-opacity=".17"/><stop offset=".5" stop-color="#619CFF" stop-opacity=".24"/><stop offset=".6701" stop-color="#619CFF" stop-opacity=".37"/><stop offset=".7614" stop-color="#619CFF" stop-opacity=".48"/><stop offset=".8237" stop-color="#619CFF" stop-opacity=".61"/><stop offset=".9232" stop-color="#619CFF" stop-opacity=".92"/><stop offset=".9606" stop-color="#619CFF" stop-opacity=".98"/><stop offset="1" stop-color="#619CFF"/></linearGradient>
<linearGradient id="r117" gradientUnits="userSpaceOnUse" x1="143.04" x2="1063.91" y1="0" y2="0"><stop offset="0" stop-color="#F8766D"/><stop offset=".3485" stop-color="#F8766D"/><stop offset=".3485" stop-color="#00BA38"/><stop offset=".4046" stop-color="#00BA38"/><stop offset=".417" stop-color="#00BA38" stop-opacity=".97"/><stop offset=".4253" stop-color="#00BA38" stop-opacity=".93"/><stop offset=".4336" stop-color="#00BA38" stop-opacity=".84"/><stop offset=".4378" stop-color="#00BA38" stop-opacity=".76"/><stop offset=".4419" stop-color="#00BA38" stop-opacity=".65"/><stop offset=".4461" stop-color="#00BA38" stop-opacity=".52"/><stop offset=".4544" stop-color="#00BA38" stop-opacity=".21"/><stop offset=".4564" stop-color="#00BA38" stop-opacity=".21"/><stop offset=".4564" stop-color="#619CFF" stop-opacity=".03"/><stop offset=".4585" stop-color="#619CFF" stop-opacity=".03"/><stop offset=".4793" stop-color="#619CFF" stop-opacity=".18"/><stop offset=".5041" stop-color="#619CFF" stop-opacity=".27"/><stop offset=".6743" stop-color="#619CFF" stop-opacity=".4"/><stop offset=".7614" stop-color="#619CFF" stop-opacity=".49"/><stop offset=".8237" stop-color="#619CFF" stop-opacity=".62"/><stop offset=".9274" stop-color="#619CFF" stop-opacity=".92"/><stop offset=".9647" stop-color="#619CFF" stop-opacity=".98"/><stop offset="1" stop-color="#619CFF"/></linearGradient>
<linearGradient id="r118" gradientUnits="userSpaceOnUse" x1="143.04" x2="1063.91" y1="0" y2="0"><stop offset="0" stop-color="#F8766D"/><stop offset=".3527" stop-color="#F8766D"/><stop offset=".3527" stop-color="#00BA38"/><stop offset=".4087" stop-color="#00BA38"/><stop offset=".4212" stop-color="#00BA38" stop-opacity=".97"/><stop offset=".4295" stop-color="#00BA38" stop-opacity=".92"/><stop offset=".4378" stop-color="#00BA38" stop-opacity=".81"/><stop offset=".4419" stop-color="#00BA38" stop-opacity=".72"/><stop offset=".4461" stop-color="#00BA38" stop-opacity=".59"/><stop offset=".4544" stop-color="#00BA38" stop-opacity=".26"/><stop offset=".4585" stop-color="#00BA38" stop-opacity=".11"/><stop offset=".4606" stop-color="#00BA38" stop-opacity=".11"/><stop offset=".4606" stop-color="#619CFF" stop-opacity=".06"/><stop offset=".4627" stop-color="#619CFF" stop-opacity=".06"/><stop offset=".4751" stop-color="#619CFF" stop-opacity=".17"/><stop offset=".4834" stop-color="#619CFF" stop-opacity=".22"/><stop offset=".5083" stop-color="#619CFF" stop-opacity=".3"/><stop offset=".6784" stop-color="#619CFF" stop-opacity=".42"/><stop offset=".7656" stop-color="#619CFF" stop-opacity=".52"/><stop offset=".8278" stop-color="#619CFF" stop-opacity=".64"/><stop offset=".9274" stop-color="#619CFF" stop-opacity=".92"/><stop offset=".9647" stop-color="#619CFF" stop-opacity=".98"/><stop offset="1" stop-color="#619CFF"/></linearGradient>
<linearGradient id="r119" gradientUnits="userSpaceOnUse" x1="143.04" x2="1063.91" y1="0" y2="0"><stop offset="0" stop-color="#F8766D"/><stop offset=".3568" stop-color="#F8766D"/><stop offset=".3568" stop-color="#00BA38"/><stop offset=".4129" stop-color="#00BA38"/><stop offset=".4212" stop-color="#00BA38" stop-opacity=".98"/><stop offset=".4295" stop-color="#00BA38" stop-opacity=".94"/><stop offset=".4378" stop-color="#00BA38" stop-opacity=".86"/><stop offset=".4419" stop-color="#00BA38" stop-opacity=".78"/><stop offset=".4461" stop-color="#00BA38" stop-opacity=".67"/><stop offset=".4502" stop-color="#00BA38" stop-opacity=".52"/><stop offset=".4585" stop-color="#00BA38" stop-opacity=".16"/><stop offset=".4606" stop-color="#00BA38" stop-opacity=".16"/><stop offset=".4606" stop-color="#619CFF" stop-opacity=".06"/><stop offset=".4627" stop-color="#619CFF" stop-opacity=".06"/><stop offset=".4751" stop-color="#619CFF" stop-opacity=".17"/><stop offset=".4876" stop-color="#619CFF" stop-opacity=".25"/><stop offset=".5124" stop-color="#619CFF" stop-opacity=".32"/><stop offset=".5996" stop-color="#619CFF" stop-opacity=".4"/><stop offset=".6826" stop-color="#619CFF" stop-opacity=".45"/><stop offset=".7656" stop-color="#619CFF" stop-opacity=".53"/><stop offset=".832" stop-color="#619CFF" stop-opacity=".67"/><stop offset=".9274" stop-color="#619CFF" stop-opacity=".93"/><stop offset=".9647" stop-color="#619CFF" stop-opacity=".98"/><stop offset="1" stop-color="#619CFF"/></linearGradient>
<linearGradient id="r120" gradientUnits="userSpaceOnUse" x1="143.04" x2="1063.91" y1="0" y2="0"><stop offset="0" stop-color="#F8766D"/><stop offset=".3568" stop-color="#F8766D"/><stop offset=".3568" stop-color="#00BA38"/><stop offset=".417" stop-color="#00BA38" stop-opacity=".99"/><stop offset=".4253" stop-color="#00BA38" stop-opacity=".98"/><stop offset=".4336" stop-color="#00BA38" stop-opacity=".93"/><stop offset=".4419" stop-color="#00BA38" stop-opacity=".84"/><stop offset=".4461" stop-color="#00BA38" stop-opacity=".75"/><stop offset=".4502" stop-color="#00BA38" stop-opacity=".61"/><stop offset=".4585" stop-color="#00BA38" stop-opacity=".24"/><stop offset=".4627" stop-color="#00BA38" stop-opacity=".09"/><stop offset=".4647" stop-color="#00BA38" stop-opacity=".09"/><stop offset=".4647" stop-color="#619CFF" stop-opacity=".08"/><stop offset=".4668" stop-color="#619CFF" stop-opacity=".08"/><stop offset=".4793" stop-color="#619CFF" stop-opacity=".2"/><stop offset=".4876" stop-color="#619CFF" stop-opacity=".26"/><stop offset=".5041" stop-color="#619CFF" stop-opacity=".33"/><stop offset=".5166" stop-color="#619CFF" stop-opacity=".35"/><stop offset=".5954" stop-color="#619CFF" stop-opacity=".42"/><stop offset=".6867" stop-color="#619CFF" stop-opacity=".47"/><stop offset=".7697" stop-color="#619CFF" stop-opacity=".56"/><stop offset=".8361" stop-color="#619CFF" stop-opacity=".69"/><stop offset=".9274" stop-color="#619CFF" stop-opacity=".93"/><stop offset=".9647" stop-color="#619CFF" stop-opacity=".98"/><stop offset="1" stop-color="#619CFF"/></linearGradient>
<linearGradient id="r121" gradientUnits="userSpaceOnUse" x1="143.04" x2="1063.91" y1="0" y2="0"><stop offset="0" stop-color="#F8766D"/><stop offset=".361" stop-color="#F8766D"/><stop offset=".361" stop-color="#00BA38"/><stop offset=".4212" stop-color="#00BA38" stop-opacity=".99"/><stop offset=".4295" stop-color="#00BA38" stop-opacity=".97"/><stop offset=".4378" stop-color="#00BA38" stop-opacity=".93"/><stop offset=".4419" stop-color="#00BA38" stop-opacity=".88"/><stop offset=".4461" stop-color="#00BA38" stop-opacity=".82"/><stop offset=".4502" stop-color="#00BA38" stop-opacity=".7"/><stop offset=".4544" stop-color="#00BA38" stop-opacity=".54"/><stop offset=".4627" stop-color="#00BA38" stop-opacity=".17"/><stop offset=".4647" stop-color="#00BA38" stop-opacity=".17"/><stop offset=".4647" stop-color="#619CFF" stop-opacity=".07"/><stop offset=".4668" stop-color="#619CFF" stop-opacity=".07"/><stop offset=".4793" stop-color="#619CFF" stop-opacity=".2"/><stop offset=".4917" stop-color="#619CFF" stop-opacity=".29"/><stop offset=".5083" stop-color="#619CFF" stop-opacity=".36"/><stop offset=".5207" stop-color="#619CFF" stop-opacity=".38"/><stop offset=".5913" stop-color="#619CFF" stop-opacity=".45"/><stop offset=".6867" stop-color="#619CFF" stop-opacity=".5"/><stop offset=".7697" stop-color="#619CFF" stop-opacity=".58"/><stop offset=".8444" stop-color="#619CFF" stop-opacity=".72"/><stop offset=".9274" stop-color="#619CFF" stop-opacity=".93"/><stop offset=".9647" stop-color="#619CFF" stop-opacity=".98"/><stop offset="1" stop-color="#619CFF"/></linearGradient>
<linearGradient id="r122" gradientUnits="userSpaceOnUse" x1="143.04" x2="1063.91" y1="0" y2="0"><stop offset="0" stop-color="#F8766D"/><stop offset=".3651" stop-color="#F8766D"/><stop offset=".3651" stop-color="#00BA38"/><stop offset=".4212" stop-color="#00BA38"/><stop offset=".4378" stop-color="#00BA38" stop-opacity=".95"/><stop offset=".4461" stop-color="#00BA38" stop-opacity=".87"/><stop offset=".4502" stop-color="#00BA38" stop-opacity=".78"/><stop offset=".4544" stop-color="#00BA38" stop-opacity=".64"/><stop offset=".4627" stop-color="#00BA38" stop-opacity=".28"/><stop offset=".4647" stop-color="#00BA38" stop-opacity=".28"/><stop offset=".4647" stop-color="#619CFF" stop-opacity=".05"/><stop offset=".4668" stop-color="#619CFF" stop-opacity=".05"/><stop offset=".4793" stop-color="#619CFF" stop-opacity=".2"/><stop offset=".4917" stop-color="#619CFF" stop-opacity=".3"/><stop offset=".5083" stop-color="#619CFF" stop-opacity=".38"/><stop offset=".5207" stop-color="#619CFF" stop-opacity=".41"/><stop offset=".5871" stop-color="#619CFF" stop-opacity=".47"/><stop offset=".6867" stop-color="#619CFF" stop-opacity=".52"/><stop offset=".7697" stop-color="#619CFF" stop-opacity=".59"/><stop offset=".8444" stop-color="#619CFF" stop-opacity=".73"/><stop offset=".9274" stop-color="#619CFF" stop-opacity=".93"/><stop offset=".9647" stop-color="#619CFF" stop-opacity=".98"/><stop offset="1" stop-color="#619CFF"/></linearGradient>
<linearGradient id="r123" gradientUnits="userSpaceOnUse" x1="143.04" x2="1063.91" y1="0" y2="0"><stop offset="0" stop-color="#F8766D"/><stop offset=".3693" stop-color="#F8766D"/><stop offset=".3693" stop-color="#00BA38"/><stop offset=".4253" stop-color="#00BA38"/><stop offset=".4336" stop-color="#00BA38" stop-opacity=".98"/><stop offset=".4419" stop-color="#00BA38" stop-opacity=".95"/><stop offset=".4502" stop-color="#00BA38" stop-opacity=".85"/><stop offset=".4544" stop-color="#00BA38" stop-opacity=".74"/><stop offset=".4585" stop-color="#00BA38" stop-opacity=".57"/><stop offset=".4627" stop-color="#00BA38" stop-opacity=".38"/><stop offset=".4668" stop-color="#00BA38" stop-opacity=".21"/><stop offset=".4689" stop-color="#00BA38" stop-opacity=".21"/><stop offset=".4689" stop-color="#619CFF" stop-opacity=".08"/><stop offset=".471" stop-color="#619CFF" stop-opacity=".08"/><stop offset=".4834" stop-color="#619CFF" stop-opacity=".24"/><stop offset=".4959" stop-color="#619CFF" stop-opacity=".33"/><stop offset=".5124" stop-color="#619CFF" stop-opacity=".41"/><stop offset=".5249" stop-color="#619CFF" stop-opacity=".44"/><stop offset=".5871" stop-color="#619CFF" stop-opacity=".5"/><stop offset=".6867" stop-color="#619CFF" stop-opacity=".54"/><stop offset=".7697" stop-color="#619CFF" stop-opacity=".61"/><stop offset=".8485" stop-color="#619CFF" stop-opacity=".75"/><stop offset=".9315" stop-color="#619CFF" stop-opacity=".94"/><stop offset=".9647" stop-color="#619CFF" stop-opacity=".98"/><stop offset="1" stop-color="#619CFF"/></linearGradient>
<linearGradient id="r124" gradientUnits="userSpaceOnUse" x1="143.04" x2="1063.91" y1="0" y2="0"><stop offset="0" stop-color="#F8766D"/><stop offset=".3693" stop-color="#F8766D"/><stop offset=".3693" stop-color="#00BA38"/><stop offset=".4295" stop-color="#00BA38"/><stop offset=".4378" stop-color="#00BA38" stop-opacity=".98"/><stop offset=".4461" stop-color="#00BA38" stop-opacity=".94"/><stop offset=".4502" stop-color="#00BA38" stop-opacity=".89"/><stop offset=".4544" stop-color="#00BA38" stop-opacity=".82"/><stop offset=".4585" stop-color="#00BA38" stop-opacity=".69"/><stop offset=".4668" stop-color="#00BA38" stop-opacity=".3"/><stop offset=".4689" stop-color="#00BA38" stop-opacity=".3"/><stop offset=".4689" stop-color="#619CFF" stop-opacity=".07"/><stop offset=".471" stop-color="#619CFF" stop-opacity=".07"/><stop offset=".4834" stop-color="#619CFF" stop-opacity=".23"/><stop offset=".4959" stop-color="#619CFF" stop-opacity=".34"/><stop offset=".5124" stop-color="#619CFF" stop-opacity=".43"/><stop offset=".5249" stop-color="#619CFF" stop-opacity=".46"/><stop offset=".5871" stop-color="#619CFF" stop-opacity=".53"/><stop offset=".6867" stop-color="#619CFF" stop-opacity=".56"/><stop offset=".7739" stop-color="#619CFF" stop-opacity=".64"/><stop offset=".8527" stop-color="#619CFF" stop-opacity=".77"/><stop offset=".9315" stop-color="#619CFF" stop-opacity=".94"/><stop offset=".9647" stop-color="#619CFF" stop-opacity=".98"/><stop offset="1" stop-color="#619CFF"/></linearGradient>
<linearGradient id="r125" gradientUnits="userSpaceOnUse" x1="143.04" x2="1063.91" y1="0" y2="0"><stop offset="0" stop-color="#F8766D"/><stop offset=".3734" stop-color="#F8766D"/><stop offset=".3734" stop-color="#00BA38"/><stop offset=".4295" stop-color="#00BA38"/><stop offset=".4461" stop-color="#00BA38" stop-opacity=".96"/><stop offset=".4544" stop-color="#00BA38" stop-opacity=".88"/><stop offset=".4585" stop-color="#00BA38" stop-opacity=".79"/><stop offset=".4627" stop-color="#00BA38" stop-opacity=".62"/><stop offset=".4668" stop-color="#00BA38" stop-opacity=".41"/><stop offset=".471" stop-color="#00BA38" stop-opacity=".23"/><stop offset=".473" stop-color="#00BA38" stop-opacity=".23"/><stop offset=".473" stop-color="#619CFF" stop-opacity=".1"/><stop offset=".4751" stop-color="#619CFF" stop-opacity=".1"/><stop offset=".4876" stop-color="#619CFF" stop-opacity=".27"/><stop offset=".5" stop-color="#619CFF" stop-opacity=".37"/><stop offset=".5166" stop-color="#619CFF" stop-opacity=".46"/><stop offset=".529" stop-color="#619CFF" stop-opacity=".5"/><stop offset=".5871" stop-color="#619CFF" stop-opacity=".55"/><stop offset=".6867" stop-color="#619CFF" stop-opacity=".58"/><stop offset=".7739" stop-color="#619CFF" stop-opacity=".65"/><stop offset=".8527" stop-color="#619CFF" stop-opacity=".79"/><stop offset=".9315" stop-color="#619CFF" stop-opacity=".94"/><stop offset=".9647" stop-color="#619CFF" stop-opacity=".99"/><stop offset="1" stop-color="#619CFF"/></linearGradient>
<linearGradient id="r126" gradientUnits="userSpaceOnUse" x1="143.04" x2="1063.91" y1="0" y2="0"><stop offset="0" stop-color="#F8766D"/><stop offset=".3776" stop-color="#F8766D"/><stop offset=".3776" stop-color="#00BA38"/><stop offset=".4336" stop-color="#00BA38"/><stop offset=".4419" stop-color="#00BA38" stop-opacity=".99"/><stop offset=".4502" stop-color="#00BA38" stop-opacity=".95"/><stop offset=".4585" stop-color="#00BA38" stop-opacity=".85"/><stop offset=".4627" stop-color="#00BA38" stop-opacity=".73"/><stop offset=".471" stop-color="#00BA38" stop-opacity=".32"/><stop offset=".473" stop-color="#00BA38" stop-opacity=".32"/><stop offset=".473" stop-color="#619CFF" stop-opacity=".08"/><stop offset=".4751" stop-color="#619CFF" stop-opacity=".08"/><stop offset=".4876" stop-color="#619CFF" stop-opacity=".26"/><stop offset=".5" stop-color="#619CFF" stop-opacity=".38"/><stop offset=".5124" stop-color="#619CFF" stop-opacity=".46"/><stop offset=".529" stop-color="#619CFF" stop-opacity=".52"/><stop offset=".5913" stop-color="#619CFF" stop-opacity=".58"/><stop offset=".6867" stop-color="#619CFF" stop-opacity=".61"/><stop offset=".7739" stop-color="#619CFF" stop-opacity=".67"/><stop offset=".8568" stop-color="#619CFF" stop-opacity=".8"/><stop offset=".9315" stop-color="#619CFF" stop-opacity=".95"/><stop offset=".9647" stop-color="#619CFF" stop-opacity=".99"/><stop offset="1" stop-color="#619CFF"/></linearGradient>
<linearGradient id="r127" gradientUnits="userSpaceOnUse" x1="143.04" x2="1063.91" y1="0" y2="0"><stop offset="0" stop-color="#F8766D"/><stop offset=".3817" stop-color="#F8766D"/><stop offset=".3817" stop-color="#00BA38"/><stop offset=".4378" stop-color="#00BA38"/><stop offset=".4461" stop-color="#00BA38" stop-opacity=".99"/><stop offset=".4544" stop-color="#00BA38" stop-opacity=".94"/><stop offset=".4585" stop-color="#00BA38" stop-opacity=".9"/><stop offset=".4627" stop-color="#00BA38" stop-opacity=".82"/><stop offset=".4668" stop-color="#00BA38" stop-opacity=".65"/><stop offset=".471" stop-color="#00BA38" stop-opacity=".44"/><stop offset=".4751" stop-color="#00BA38" stop-opacity=".25"/><stop offset=".4772" stop-color="#00BA38" stop-opacity=".25"/><stop offset=".4772" stop-color="#619CFF" stop-opacity=".12"/><stop offset=".4793" stop-color="#619CFF" stop-opacity=".12"/><stop offset=".4917" stop-color="#619CFF" stop-opacity=".3"/><stop offset=".5041" stop-color="#619CFF" stop-opacity=".42"/><stop offset=".5207" stop-color="#619CFF" stop-opacity=".51"/><stop offset=".5332" stop-color="#619CFF" stop-opacity=".55"/><stop offset=".5913" stop-color="#619CFF" stop-opacity=".6"/><stop offset=".6826" stop-color="#619CFF" stop-opacity=".62"/><stop offset=".7739" stop-color="#619CFF" stop-opacity=".69"/><stop offset=".9315" stop-color="#619CFF" stop-opacity=".95"/><stop offset=".9647" stop-color="#619CFF" stop-opacity=".99"/><stop offset="1" stop-color="#619CFF"/></linearGradient>
<linearGradient id="r128" gradientUnits="userSpaceOnUse" x1="143.04" x2="1063.91" y1="0" y2="0"><stop offset="0" stop-color="#F8766D"/><stop offset=".3859" stop-color="#F8766D"/><stop offset=".3859" stop-color="#00BA38"/><stop offset=".4378" stop-color="#00BA38"/><stop offset=".4544" stop-color="#00BA38" stop-opacity=".97"/><stop offset=".4627" stop-color="#00BA38" stop-opacity=".87"/><stop offset=".4668" stop-color="#00BA38" stop-opacity=".76"/><stop offset=".4751" stop-color="#00BA38" stop-opacity=".35"/><stop offset=".4772" stop-color="#00BA38" stop-opacity=".35"/><stop offset=".4772" stop-color="#619CFF" stop-opacity=".09"/><stop offset=".4793" stop-color="#619CFF" stop-opacity=".09"/><stop offset=".4917" stop-color="#619CFF" stop-opacity=".3"/><stop offset=".5041" stop-color="#619CFF" stop-opacity=".42"/><stop offset=".5166" stop-color="#619CFF" stop-opacity=".51"/><stop offset=".5332" stop-color="#619CFF" stop-opacity=".57"/><stop offset=".5954" stop-color="#619CFF" stop-opacity=".62"/><stop offset=".6826" stop-color="#619CFF" stop-opacity=".64"/><stop offset=".7739" stop-color="#619CFF" stop-opacity=".71"/><stop offset=".9357" stop-color="#619CFF" stop-opacity=".96"/><stop offset="1" stop-color="#619CFF"/></linearGradient>
<linearGradient id="r129" gradientUnits="userSpaceOnUse" x1="143.04" x2="1063.91" y1="0" y2="0"><stop offset="0" stop-color="#F8766D"/><stop offset=".3859" stop-color="#F8766D"/><stop offset=".3859" stop-color="#00BA38"/><stop offset=".4419" stop-color="#00BA38"/><stop offset=".4502" stop-color="#00BA38" stop-opacity=".99"/><stop offset=".4585" stop-color="#00BA38" stop-opacity=".96"/><stop offset=".4627" stop-color="#00BA38" stop-opacity=".91"/><stop offset=".4668" stop-color="#00BA38" stop-opacity=".84"/><stop offset=".471" stop-color="#00BA38" stop-opacity=".68"/><stop offset=".4793" stop-color="#00BA38" stop-opacity=".26"/><stop offset=".4813" stop-color="#00BA38" stop-opacity=".26"/><stop offset=".4813" stop-color="#619CFF" stop-opacity=".15"/><stop offset=".4834" stop-color="#619CFF" stop-opacity=".15"/><stop offset=".4959" stop-color="#619CFF" stop-opacity=".34"/><stop offset=".5083" stop-color="#619CFF" stop-opacity=".46"/><stop offset=".5249" stop-color="#619CFF" stop-opacity=".56"/><stop offset=".5373" stop-color="#619CFF" stop-opacity=".59"/><stop offset=".5954" stop-color="#619CFF" stop-opacity=".64"/><stop offset=".6826" stop-color="#619CFF" stop-opacity=".66"/><stop offset=".7739" stop-color="#619CFF" stop-opacity=".73"/><stop offset=".9357" stop-color="#619CFF" stop-opacity=".96"/><stop offset="1" stop-color="#619CFF"/></linearGradient>
<linearGradient id="r130" gradientUnits="userSpaceOnUse" x1="143.04" x2="1063.91" y1="0" y2="0"><stop offset="0" stop-color="#F8766D"/><stop offset=".39" stop-color="#F8766D"/><stop offset=".39" stop-color="#00BA38"/><stop offset=".4461" stop-color="#00BA38"/><stop offset=".4544" stop-color="#00BA38" stop-opacity=".99"/><stop offset=".4627" stop-color="#00BA38" stop-opacity=".94"/><stop offset=".4668" stop-color="#00BA38" stop-opacity=".89"/><stop offset=".471" stop-color="#00BA38" stop-opacity=".79"/><stop offset=".4751" stop-color="#00BA38" stop-opacity=".59"/><stop offset=".4793" stop-color="#00BA38" stop-opacity=".35"/><stop offset=".4834" stop-color="#00BA38" stop-opacity=".13"/><stop offset=".4855" stop-color="#00BA38" stop-opacity=".13"/><stop offset=".4855" stop-color="#619CFF" stop-opacity=".2"/><stop offset=".4876" stop-color="#619CFF" stop-opacity=".2"/><stop offset=".5" stop-color="#619CFF" stop-opacity=".38"/><stop offset=".5124" stop-color="#619CFF" stop-opacity=".5"/><stop offset=".529" stop-color="#619CFF" stop-opacity=".59"/><stop offset=".5415" stop-color="#619CFF" stop-opacity=".62"/><stop offset=".5996" stop-color="#619CFF" stop-opacity=".66"/><stop offset=".6826" stop-color="#619CFF" stop-opacity=".68"/><stop offset=".7739" stop-color="#619CFF" stop-opacity=".74"/><stop offset=".9357" stop-color="#619CFF" stop-opacity=".96"/><stop offset="1" stop-color="#619CFF"/></linearGradient>
<linearGradient id="r131" gradientUnits="userSpaceOnUse" x1="143.04" x2="1063.91" y1="0" y2="0"><stop offset="0" stop-color="#F8766D"/><stop offset=".3942" stop-color="#F8766D"/><stop offset=".3942" stop-color="#00BA38"/><stop offset=".4502" stop-color="#00BA38"/><stop offset=".4627" stop-color="#00BA38" stop-opacity=".96"/><stop offset=".4668" stop-color="#00BA38" stop-opacity=".93"/><stop offset=".471" stop-color="#00BA38" stop-opacity=".86"/><stop offset=".4751" stop-color="#00BA38" stop-opacity=".72"/><stop offset=".4834" stop-color="#00BA38" stop-opacity=".24"/><stop offset=".4855" stop-color="#00BA38" stop-opacity=".24"/><stop offset=".4855" stop-color="#619CFF" stop-opacity=".17"/><stop offset=".4876" stop-color="#619CFF" stop-opacity=".17"/><stop offset=".5" stop-color="#619CFF" stop-opacity=".37"/><stop offset=".5124" stop-color="#619CFF" stop-opacity=".5"/><stop offset=".529" stop-color="#619CFF" stop-opacity=".6"/><stop offset=".5415" stop-color="#619CFF" stop-opacity=".64"/><stop offset=".5913" stop-color="#619CFF" stop-opacity=".68"/><stop offset=".6826" stop-color="#619CFF" stop-opacity=".7"/><stop offset=".7739" stop-color="#619CFF" stop-opacity=".76"/><stop offset=".9357" stop-color="#619CFF" stop-opacity=".97"/><stop offset="1" stop-color="#619CFF"/></linearGradient>
<linearGradient id="r132" gradientUnits="userSpaceOnUse" x1="143.04" x2="1063.91" y1="0" y2="0"><stop offset="0" stop-color="#F8766D"/><stop offset=".3983" stop-color="#F8766D"/><stop offset=".3983" stop-color="#00BA38"/><stop offset=".4544" stop-color="#00BA38"/><stop offset=".4668" stop-color="#00BA38" stop-opacity=".95"/><stop offset=".471" stop-color="#00BA38" stop-opacity=".91"/><stop offset=".4751" stop-color="#00BA38" stop-opacity=".82"/><stop offset=".4793" stop-color="#00BA38" stop-opacity=".63"/><stop offset=".4834" stop-color="#00BA38" stop-opacity=".38"/><stop offset=".4876" stop-color="#00BA38" stop-opacity=".17"/><stop offset=".4896" stop-color="#00BA38" stop-opacity=".17"/><stop offset=".4896" stop-color="#619CFF" stop-opacity=".21"/><stop offset=".4917" stop-color="#619CFF" stop-opacity=".21"/><stop offset=".5041" stop-color="#619CFF" stop-opacity=".41"/><stop offset=".5166" stop-color="#619CFF" stop-opacity=".53"/><stop offset=".5332" stop-color="#619CFF" stop-opacity=".63"/><stop offset=".5456" stop-color="#619CFF" stop-opacity=".66"/><stop offset=".5954" stop-color="#619CFF" stop-opacity=".7"/><stop offset=".6826" stop-color="#619CFF" stop-opacity=".72"/><stop offset=".7739" stop-color="#619CFF" stop-opacity=".78"/><stop offset=".9357" stop-color="#619CFF" stop-opacity=".97"/><stop offset="1" stop-color="#619CFF"/></linearGradient>
<linearGradient id="r133" gradientUnits="userSpaceOnUse" x1="143.04" x2="1063.91" y1="0" y2="0"><stop offset="0" stop-color="#F8766D"/><stop offset=".3983" stop-color="#F8766D"/><stop offset=".3983" stop-color="#00BA38"/><stop offset=".4544" stop-color="#00BA38"/><stop offset=".4668" stop-color="#00BA38" stop-opacity=".97"/><stop offset=".471" stop-color="#00BA38" stop-opacity=".94"/><stop offset=".4751" stop-color="#00BA38" stop-opacity=".88"/><stop offset=".4793" stop-color="#00BA38" stop-opacity=".75"/><stop offset=".4876" stop-color="#00BA38" stop-opacity=".28"/><stop offset=".4896" stop-color="#00BA38" stop-opacity=".28"/><stop offset=".4896" stop-color="#619CFF" stop-opacity=".18"/><stop offset=".4917" stop-color="#619CFF" stop-opacity=".18"/><stop offset=".5041" stop-color="#619CFF" stop-opacity=".4"/><stop offset=".5166" stop-color="#619CFF" stop-opacity=".53"/><stop offset=".5332" stop-color="#619CFF" stop-opacity=".64"/><stop offset=".5456" stop-color="#619CFF" stop-opacity=".67"/><stop offset=".5954" stop-color="#619CFF" stop-opacity=".71"/><stop offset=".6826" stop-color="#619CFF" stop-opacity=".74"/><stop offset=".7739" stop-color="#619CFF" stop-opacity=".79"/><stop offset=".9357" stop-color="#619CFF" stop-opacity=".97"/><stop offset="1" stop-color="#619CFF"/></linearGradient>
<linearGradient id="r134" gradientUnits="userSpaceOnUse" x1="143.04" x2="1063.91" y1="0" y2="0"><stop offset="0" stop-color="#F8766D"/><stop offset=".4025" stop-color="#F8766D"/><stop offset=".4025" stop-color="#00BA38"/><stop offset=".4585" stop-color="#00BA38"/><stop offset=".471" stop-color="#00BA38" stop-opacity=".96"/><stop offset=".4751" stop-color="#00BA38" stop-opacity=".92"/><stop offset=".4793" stop-color="#00BA38" stop-opacity=".84"/><stop offset=".4834" stop-color="#00BA38" stop-opacity=".66"/><stop offset=".4876" stop-color="#00BA38" stop-opacity=".42"/><stop offset=".4917" stop-color="#00BA38" stop-opacity=".2"/><stop offset=".4938" stop-color="#00BA38" stop-opacity=".2"/><stop offset=".4938" stop-color="#619CFF" stop-opacity=".23"/><stop offset=".4959" stop-color="#619CFF" stop-opacity=".23"/><stop offset=".5083" stop-color="#619CFF" stop-opacity=".44"/><stop offset=".5207" stop-color="#619CFF" stop-opacity=".57"/><stop offset=".5373" stop-color="#619CFF" stop-opacity=".66"/><stop offset=".5498" stop-color="#619CFF" stop-opacity=".7"/><stop offset=".7739" stop-color="#619CFF" stop-opacity=".81"/><stop offset=".9357" stop-color="#619CFF" stop-opacity=".97"/><stop offset="1" stop-color="#619CFF"/></linearGradient>
<linearGradient id="r135" gradientUnits="userSpaceOnUse" x1="143.04" x2="1063.91" y1="0" y2="0"><stop offset="0" stop-color="#F8766D"/><stop offset=".4066" stop-color="#F8766D"/><stop offset=".4066" stop-color="#00BA38"/><stop offset=".4627" stop-color="#00BA38"/><stop offset=".471" stop-color="#00BA38" stop-opacity=".98"/><stop offset=".4751" stop-color="#00BA38" stop-opacity=".95"/><stop offset=".4793" stop-color="#00BA38" stop-opacity=".9"/><stop offset=".4834" stop-color="#00BA38" stop-opacity=".78"/><stop offset=".4917" stop-color="#00BA38" stop-opacity=".31"/><stop offset=".4938" stop-color="#00BA38" stop-opacity=".31"/><stop offset=".4938" stop-color="#619CFF" stop-opacity=".19"/><stop offset=".4959" stop-color="#619CFF" stop-opacity=".19"/><stop offset=".5083" stop-color="#619CFF" stop-opacity=".42"/><stop offset=".5166" stop-color="#619CFF" stop-opacity=".53"/><stop offset=".5332" stop-color="#619CFF" stop-opacity=".65"/><stop offset=".5498" stop-color="#619CFF" stop-opacity=".71"/><stop offset=".5954" stop-color="#619CFF" stop-opacity=".74"/><stop offset=".6826" stop-color="#619CFF" stop-opacity=".77"/><stop offset=".7739" stop-color="#619CFF" stop-opacity=".82"/><stop offset=".9357" stop-color="#619CFF" stop-opacity=".98"/><stop offset="1" stop-color="#619CFF"/></linearGradient>
<linearGradient id="r136" gradientUnits="userSpaceOnUse" x1="143.04" x2="1063.91" y1="0" y2="0"><stop offset="0" stop-color="#F8766D"/><stop offset=".4108" stop-color="#F8766D"/><stop offset=".4108" stop-color="#00BA38"/><stop offset=".4627" stop-color="#00BA38"/><stop offset=".4751" stop-color="#00BA38" stop-opacity=".97"/><stop offset=".4793" stop-color="#00BA38" stop-opacity=".93"/><stop offset=".4834" stop-color="#00BA38" stop-opacity=".86"/><stop offset=".4876" stop-color="#00BA38" stop-opacity=".7"/><stop offset=".4917" stop-color="#00BA38" stop-opacity=".45"/><stop offset=".4959" stop-color="#00BA38" stop-opacity=".23"/><stop offset=".4979" stop-color="#00BA38" stop-opacity=".23"/><stop offset=".4979" stop-color="#619CFF" stop-opacity=".24"/><stop offset=".5" stop-color="#619CFF" stop-opacity=".24"/><stop offset=".5124" stop-color="#619CFF" stop-opacity=".47"/><stop offset=".5249" stop-color="#619CFF" stop-opacity=".6"/><stop offset=".5415" stop-color="#619CFF" stop-opacity=".7"/><stop offset=".5539" stop-color="#619CFF" stop-opacity=".73"/><stop offset=".7697" stop-color="#619CFF" stop-opacity=".83"/><stop offset=".9398" stop-color="#619CFF" stop-opacity=".98"/><stop offset="1" stop-color="#619CFF"/></linearGradient>
<linearGradient id="r137" gradientUnits="userSpaceOnUse" x1="143.04" x2="1063.91" y1="0" y2="0"><stop offset="0" stop-color="#F8766D"/><stop offset=".4108" stop-color="#F8766D"/><stop offset=".4108" stop-color="#00BA38"/><stop offset=".4668" stop-color="#00BA38"/><stop offset=".4793" stop-color="#00BA38" stop-opacity=".96"/><stop offset=".4834" stop-color="#00BA38" stop-opacity=".91"/><stop offset=".4876" stop-color="#00BA38" stop-opacity=".8"/><stop offset=".4917" stop-color="#00BA38" stop-opacity=".58"/><stop offset=".4959" stop-color="#00BA38" stop-opacity=".34"/><stop offset=".4979" stop-color="#00BA38" stop-opacity=".34"/><stop offset=".4979" stop-color="#619CFF" stop-opacity=".2"/><stop offset=".5" stop-color="#619CFF" stop-opacity=".2"/><stop offset=".5124" stop-color="#619CFF" stop-opacity=".45"/><stop offset=".5207" stop-color="#619CFF" stop-opacity=".56"/><stop offset=".5373" stop-color="#619CFF" stop-opacity=".69"/><stop offset=".5539" stop-color="#619CFF" stop-opacity=".74"/><stop offset=".7697" stop-color="#619CFF" stop-opacity=".84"/><stop offset=".9357" stop-color="#619CFF" stop-opacity=".98"/><stop offset="1" stop-color="#619CFF"/></linearGradient>
<linearGradient id="r138" gradientUnits="userSpaceOnUse" x1="143.04" x2="1063.91" y1="0" y2="0"><stop offset="0" stop-color="#F8766D"/><stop offset=".4149" stop-color="#F8766D"/><stop offset=".4149" stop-color="#00BA38"/><stop offset=".471" stop-color="#00BA38"/><stop offset=".4793" stop-color="#00BA38" stop-opacity=".97"/><stop offset=".4834" stop-color="#00BA38" stop-opacity=".94"/><stop offset=".4876" stop-color="#00BA38" stop-opacity=".87"/><stop offset=".4917" stop-color="#00BA38" stop-opacity=".71"/><stop offset=".5" stop-color="#00BA38" stop-opacity=".24"/><stop offset=".5021" stop-color="#00BA38" stop-opacity=".24"/><stop offset=".5021" stop-color="#619CFF" stop-opacity=".25"/><stop offset=".5041" stop-color="#619CFF" stop-opacity=".25"/><stop offset=".5124" stop-color="#619CFF" stop-opacity=".43"/><stop offset=".5166" stop-color="#619CFF" stop-opacity=".5"/><stop offset=".5249" stop-color="#619CFF" stop-opacity=".6"/><stop offset=".5415" stop-color="#619CFF" stop-opacity=".71"/><stop offset=".5581" stop-color="#619CFF" stop-opacity=".76"/><stop offset=".7697" stop-color="#619CFF" stop-opacity=".85"/><stop offset=".9357" stop-color="#619CFF" stop-opacity=".98"/><stop offset="1" stop-color="#619CFF"/></linearGradient>
<linearGradient id="r139" gradientUnits="userSpaceOnUse" x1="143.04" x2="1063.91" y1="0" y2="0"><stop offset="0" stop-color="#F8766D"/><stop offset=".4191" stop-color="#F8766D"/><stop offset=".4191" stop-color="#00BA38"/><stop offset=".471" stop-color="#00BA38"/><stop offset=".4834" stop-color="#00BA38" stop-opacity=".96"/><stop offset=".4876" stop-color="#00BA38" stop-opacity=".91"/><stop offset=".4917" stop-color="#00BA38" stop-opacity=".82"/><stop offset=".4959" stop-color="#00BA38" stop-opacity=".6"/><stop offset=".5" stop-color="#00BA38" stop-opacity=".35"/><stop offset=".5021" stop-color="#00BA38" stop-opacity=".35"/><stop offset=".5021" stop-color="#619CFF" stop-opacity=".21"/><stop offset=".5041" stop-color="#619CFF" stop-opacity=".21"/><stop offset=".5124" stop-color="#619CFF" stop-opacity=".4"/><stop offset=".5166" stop-color="#619CFF" stop-opacity=".48"/><stop offset=".5249" stop-color="#619CFF" stop-opacity=".59"/><stop offset=".5332" stop-color="#619CFF" stop-opacity=".67"/><stop offset=".5415" stop-color="#619CFF" stop-opacity=".72"/><stop offset=".5581" stop-color="#619CFF" stop-opacity=".77"/><stop offset=".7739" stop-color="#619CFF" stop-opacity=".87"/><stop offset=".944" stop-color="#619CFF" stop-opacity=".99"/><stop offset="1" stop-color="#619CFF"/></linearGradient>
<linearGradient id="r140" gradientUnits="userSpaceOnUse" x1="143.04" x2="1063.91" y1="0" y2="0"><stop offset="0" stop-color="#F8766D"/><stop offset=".4232" stop-color="#F8766D"/><stop offset=".4232" stop-color="#00BA38"/><stop offset=".4751" stop-color="#00BA38"/><stop offset=".4834" stop-color="#00BA38" stop-opacity=".98"/><stop offset=".4876" stop-color="#00BA38" stop-opacity=".94"/><stop offset=".4917" stop-color="#00BA38" stop-opacity=".88"/><stop offset=".4959" stop-color="#00BA38" stop-opacity=".73"/><stop offset=".5041" stop-color="#00BA38" stop-opacity=".25"/><stop offset=".5062" stop-color="#00BA38" stop-opacity=".25"/><stop offset=".5062" stop-color="#619CFF" stop-opacity=".27"/><stop offset=".5083" stop-color="#619CFF" stop-opacity=".27"/><stop offset=".5166" stop-color="#619CFF" stop-opacity=".46"/><stop offset=".5207" stop-color="#619CFF" stop-opacity=".53"/><stop offset=".529" stop-color="#619CFF" stop-opacity=".63"/><stop offset=".5415" stop-color="#619CFF" stop-opacity=".73"/><stop offset=".5581" stop-color="#619CFF" stop-opacity=".78"/><stop offset=".7697" stop-color="#619CFF" stop-opacity=".88"/><stop offset=".9398" stop-color="#619CFF" stop-opacity=".99"/><stop offset="1" stop-color="#619CFF"/></linearGradient>
<linearGradient id="r141" gradientUnits="userSpaceOnUse" x1="143.04" x2="1063.91" y1="0" y2="0"><stop offset="0" stop-color="#F8766D"/><stop offset=".4232" stop-color="#F8766D"/><stop offset=".4232" stop-color="#00BA38"/><stop offset=".4751" stop-color="#00BA38"/><stop offset=".4876" stop-color="#00BA38" stop-opacity=".97"/><stop offset=".4917" stop-color="#00BA38" stop-opacity=".92"/><stop offset=".4959" stop-color="#00BA38" stop-opacity=".83"/><stop offset=".5" stop-color="#00BA38" stop-opacity=".61"/><stop offset=".5041" stop-color="#00BA38" stop-opacity=".36"/><stop offset=".5062" stop-color="#00BA38" stop-opacity=".36"/><stop offset=".5062" stop-color="#619CFF" stop-opacity=".22"/><stop offset=".5083" stop-color="#619CFF" stop-opacity=".22"/><stop offset=".5166" stop-color="#619CFF" stop-opacity=".43"/><stop offset=".5207" stop-color="#619CFF" stop-opacity=".51"/><stop offset=".529" stop-color="#619CFF" stop-opacity=".63"/><stop offset=".5415" stop-color="#619CFF" stop-opacity=".73"/><stop offset=".5581" stop-color="#619CFF" stop-opacity=".79"/><stop offset=".7697" stop-color="#619CFF" stop-opacity=".89"/><stop offset=".9398" stop-color="#619CFF" stop-opacity=".99"/><stop offset="1" stop-color="#619CFF"/></linearGradient>
<linearGradient id="r142" gradientUnits="userSpaceOnUse" x1="143.04" x2="1063.91" y1="0" y2="0"><stop offset="0" stop-color="#F8766D"/><stop offset=".4274" stop-color="#F8766D"/><stop offset=".4274" stop-color="#00BA38"/><stop offset=".4793" stop-color="#00BA38"/><stop offset=".4876" stop-color="#00BA38" stop-opacity=".98"/><stop offset=".4917" stop-color="#00BA38" stop-opacity=".95"/><stop offset=".4959" stop-color="#00BA38" stop-opacity=".89"/><stop offset=".5" stop-color="#00BA38" stop-opacity=".74"/><stop offset=".5083" stop-color="#00BA38" stop-opacity=".26"/><stop offset=".5104" stop-color="#00BA38" stop-opacity=".26"/><stop offset=".5104" stop-color="#619CFF" stop-opacity=".28"/><stop offset=".5124" stop-color="#619CFF" stop-opacity=".28"/><stop offset=".5207" stop-color="#619CFF" stop-opacity=".49"/><stop offset=".5249" stop-color="#619CFF" stop-opacity=".56"/><stop offset=".5332" stop-color="#619CFF" stop-opacity=".67"/><stop offset=".5456" stop-color="#619CFF" stop-opacity=".76"/><stop offset=".5622" stop-color="#619CFF" stop-opacity=".81"/><stop offset=".7656" stop-color="#619CFF" stop-opacity=".89"/><stop offset=".9357" stop-color="#619CFF" stop-opacity=".99"/><stop offset="1" stop-color="#619CFF"/></linearGradient>
<linearGradient id="r143" gradientUnits="userSpaceOnUse" x1="143.04" x2="1063.91" y1="0" y2="0"><stop offset="0" stop-color="#F8766D"/><stop offset=".4315" stop-color="#F8766D"/><stop offset=".4315" stop-color="#00BA38"/><stop offset=".4793" stop-color="#00BA38"/><stop offset=".4917" stop-color="#00BA38" stop-opacity=".97"/><stop offset=".4959" stop-color="#00BA38" stop-opacity=".93"/><stop offset=".5" stop-color="#00BA38" stop-opacity=".84"/><stop offset=".5041" stop-color="#00BA38" stop-opacity=".63"/><stop offset=".5083" stop-color="#00BA38" stop-opacity=".38"/><stop offset=".5104" stop-color="#00BA38" stop-opacity=".38"/><stop offset=".5104" stop-color="#619CFF" stop-opacity=".22"/><stop offset=".5124" stop-color="#619CFF" stop-opacity=".22"/><stop offset=".5207" stop-color="#619CFF" stop-opacity=".45"/><stop offset=".5249" stop-color="#619CFF" stop-opacity=".54"/><stop offset=".5332" stop-color="#619CFF" stop-opacity=".67"/><stop offset=".5456" stop-color="#619CFF" stop-opacity=".76"/><stop offset=".5622" stop-color="#619CFF" stop-opacity=".82"/><stop offset=".9357" stop-color="#619CFF" stop-opacity=".99"/><stop offset="1" stop-color="#619CFF"/></linearGradient>
<linearGradient id="r144" gradientUnits="userSpaceOnUse" x1="143.04" x2="1063.91" y1="0" y2="0"><stop offset="0" stop-color="#F8766D"/><stop offset=".4357" stop-color="#F8766D"/><stop offset=".4357" stop-color="#00BA38"/><stop offset=".4834" stop-color="#00BA38"/><stop offset=".4917" stop-color="#00BA38" stop-opacity=".98"/><stop offset=".4959" stop-color="#00BA38" stop-opacity=".96"/><stop offset=".5" stop-color="#00BA38" stop-opacity=".9"/><stop offset=".5041" stop-color="#00BA38" stop-opacity=".76"/><stop offset=".5124" stop-color="#00BA38" stop-opacity=".3"/><stop offset=".5145" stop-color="#00BA38" stop-opacity=".3"/><stop offset=".5145" stop-color="#619CFF" stop-opacity=".27"/><stop offset=".5166" stop-color="#619CFF" stop-opacity=".27"/><stop offset=".5249" stop-color="#619CFF" stop-opacity=".51"/><stop offset=".529" stop-color="#619CFF" stop-opacity=".6"/><stop offset=".5332" stop-color="#619CFF" stop-opacity=".66"/><stop offset=".5456" stop-color="#619CFF" stop-opacity=".77"/><stop offset=".5622" stop-color="#619CFF" stop-opacity=".83"/><stop offset=".9315" stop-color="#619CFF" stop-opacity=".99"/><stop offset="1" stop-color="#619CFF"/></linearGradient>
<linearGradient id="r145" gradientUnits="userSpaceOnUse" x1="143.04" x2="1063.91" y1="0" y2="0"><stop offset="0" stop-color="#F8766D"/><stop offset=".4398" stop-color="#F8766D"/><stop offset=".4398" stop-color="#00BA38"/><stop offset=".4834" stop-color="#00BA38"/><stop offset=".4959" stop-color="#00BA38" stop-opacity=".97"/><stop offset=".5" stop-color="#00BA38" stop-opacity=".94"/><stop offset=".5041" stop-color="#00BA38" stop-opacity=".86"/><stop offset=".5083" stop-color="#00BA38" stop-opacity=".67"/><stop offset=".5124" stop-color="#00BA38" stop-opacity=".42"/><stop offset=".5145" stop-color="#00BA38" stop-opacity=".42"/><stop offset=".5145" stop-color="#619CFF" stop-opacity=".2"/><stop offset=".5166" stop-color="#619CFF" stop-opacity=".2"/><stop offset=".5249" stop-color="#619CFF" stop-opacity=".46"/><stop offset=".529" stop-color="#619CFF" stop-opacity=".57"/><stop offset=".5373" stop-color="#619CFF" stop-opacity=".7"/><stop offset=".5498" stop-color="#619CFF" stop-opacity=".79"/><stop offset=".5664" stop-color="#619CFF" stop-opacity=".85"/><stop offset=".9274" stop-color="#619CFF" stop-opacity=".99"/><stop offset="1" stop-color="#619CFF"/></linearGradient>
<linearGradient id="r146" gradientUnits="userSpaceOnUse" x1="143.04" x2="1063.91" y1="0" y2="0"><stop offset="0" stop-color="#F8766D"/><stop offset=".4398" stop-color="#F8766D"/><stop offset=".4398" stop-color="#00BA38"/><stop offset=".4876" stop-color="#00BA38"/><stop offset=".5" stop-color="#00BA38" stop-opacity=".96"/><stop offset=".5041" stop-color="#00BA38" stop-opacity=".91"/><stop offset=".5083" stop-color="#00BA38" stop-opacity=".79"/><stop offset=".5166" stop-color="#00BA38" stop-opacity=".33"/><stop offset=".5187" stop-color="#00BA38" stop-opacity=".33"/><stop offset=".5187" stop-color="#619CFF" stop-opacity=".26"/><stop offset=".5207" stop-color="#619CFF" stop-opacity=".26"/><stop offset=".529" stop-color="#619CFF" stop-opacity=".53"/><stop offset=".5332" stop-color="#619CFF" stop-opacity=".62"/><stop offset=".5373" stop-color="#619CFF" stop-opacity=".69"/><stop offset=".5498" stop-color="#619CFF" stop-opacity=".8"/><stop offset=".5664" stop-color="#619CFF" stop-opacity=".85"/><stop offset=".9232" stop-color="#619CFF" stop-opacity=".99"/><stop offset="1" stop-color="#619CFF"/></linearGradient>
<linearGradient id="r147" gradientUnits="userSpaceOnUse" x1="143.04" x2="1063.91" y1="0" y2="0"><stop offset="0" stop-color="#F8766D"/><stop offset=".444" stop-color="#F8766D"/><stop offset=".444" stop-color="#00BA38"/><stop offset=".4876" stop-color="#00BA38"/><stop offset=".5" stop-color="#00BA38" stop-opacity=".98"/><stop offset=".5041" stop-color="#00BA38" stop-opacity=".95"/><stop offset=".5083" stop-color="#00BA38" stop-opacity=".87"/><stop offset=".5124" stop-color="#00BA38" stop-opacity=".7"/><stop offset=".5166" stop-color="#00BA38" stop-opacity=".46"/><stop offset=".5187" stop-color="#00BA38" stop-opacity=".46"/><stop offset=".5187" stop-color="#619CFF" stop-opacity=".18"/><stop offset=".5207" stop-color="#619CFF" stop-opacity=".18"/><stop offset=".529" stop-color="#619CFF" stop-opacity=".48"/><stop offset=".5332" stop-color="#619CFF" stop-opacity=".59"/><stop offset=".5373" stop-color="#619CFF" stop-opacity=".68"/><stop offset=".5415" stop-color="#619CFF" stop-opacity=".73"/><stop offset=".5498" stop-color="#619CFF" stop-opacity=".8"/><stop offset=".5664" stop-color="#619CFF" stop-opacity=".86"/><stop offset=".9191" stop-color="#619CFF" stop-opacity=".99"/><stop offset="1" stop-color="#619CFF"/></linearGradient>
<linearGradient id="r148" gradientUnits="userSpaceOnUse" x1="143.04" x2="1063.91" y1="0" y2="0"><stop offset="0" stop-color="#F8766D"/><stop offset=".4481" stop-color="#F8766D"/><stop offset=".4481" stop-color="#00BA38"/><stop offset=".4917" stop-color="#00BA38"/><stop offset=".5041" stop-color="#00BA38" stop-opacity=".97"/><stop offset=".5083" stop-color="#00BA38" stop-opacity=".92"/><stop offset=".5124" stop-color="#00BA38" stop-opacity=".82"/><stop offset=".5207" stop-color="#00BA38" stop-opacity=".36"/><stop offset=".5228" stop-color="#00BA38" stop-opacity=".36"/><stop offset=".5228" stop-color="#619CFF" stop-opacity=".26"/><stop offset=".5249" stop-color="#619CFF" stop-opacity=".26"/><stop offset=".5332" stop-color="#619CFF" stop-opacity=".55"/><stop offset=".5373" stop-color="#619CFF" stop-opacity=".66"/><stop offset=".5415" stop-color="#619CFF" stop-opacity=".72"/><stop offset=".5539" stop-color="#619CFF" stop-opacity=".83"/><stop offset=".5705" stop-color="#619CFF" stop-opacity=".88"/><stop offset=".9149" stop-color="#619CFF" stop-opacity=".99"/><stop offset="1" stop-color="#619CFF"/></linearGradient>
<linearGradient id="r149" gradientUnits="userSpaceOnUse" x1="143.04" x2="1063.91" y1="0" y2="0"><stop offset="0" stop-color="#F8766D"/><stop offset=".4523" stop-color="#F8766D"/><stop offset=".4523" stop-color="#00BA38"/><stop offset=".4959" stop-color="#00BA38"/><stop offset=".5041" stop-color="#00BA38" stop-opacity=".98"/><stop offset=".5083" stop-color="#00BA38" stop-opacity=".95"/><stop offset=".5124" stop-color="#00BA38" stop-opacity=".88"/><stop offset=".5166" stop-color="#00BA38" stop-opacity=".71"/><stop offset=".5207" stop-color="#00BA38" stop-opacity=".46"/><stop offset=".5228" stop-color="#00BA38" stop-opacity=".46"/><stop offset=".5228" stop-color="#619CFF" stop-opacity=".19"/><stop offset=".5249" stop-color="#619CFF" stop-opacity=".19"/><stop offset=".5332" stop-color="#619CFF" stop-opacity=".51"/><stop offset=".5373" stop-color="#619CFF" stop-opacity=".63"/><stop offset=".5415" stop-color="#619CFF" stop-opacity=".71"/><stop offset=".5456" stop-color="#619CFF" stop-opacity=".77"/><stop offset=".5539" stop-color="#619CFF" stop-opacity=".83"/><stop offset=".5705" stop-color="#619CFF" stop-opacity=".89"/><stop offset=".8983" stop-color="#619CFF" stop-opacity=".99"/><stop offset="1" stop-color="#619CFF"/></linearGradient>
<linearGradient id="r150" gradientUnits="userSpaceOnUse" x1="143.04" x2="1063.91" y1="0" y2="0"><stop offset="0" stop-color="#F8766D"/><stop offset=".4523" stop-color="#F8766D"/><stop offset=".4523" stop-color="#00BA38"/><stop offset=".4959" stop-color="#00BA38"/><stop offset=".5083" stop-color="#00BA38" stop-opacity=".97"/><stop offset=".5124" stop-color="#00BA38" stop-opacity=".92"/><stop offset=".5166" stop-color="#00BA38" stop-opacity=".81"/><stop offset=".5249" stop-color="#00BA38" stop-opacity=".32"/><stop offset=".527" stop-color="#00BA38" stop-opacity=".32"/><stop offset=".527" stop-color="#619CFF" stop-opacity=".3"/><stop offset=".529" stop-color="#619CFF" stop-opacity=".3"/><stop offset=".5373" stop-color="#619CFF" stop-opacity=".6"/><stop offset=".5415" stop-color="#619CFF" stop-opacity=".7"/><stop offset=".5456" stop-color="#619CFF" stop-opacity=".76"/><stop offset=".5539" stop-color="#619CFF" stop-opacity=".83"/><stop offset=".5705" stop-color="#619CFF" stop-opacity=".89"/><stop offset=".89" stop-color="#619CFF" stop-opacity=".99"/><stop offset="1" stop-color="#619CFF"/></linearGradient>
<linearGradient id="r151" gradientUnits="userSpaceOnUse" x1="143.04" x2="1063.91" y1="0" y2="0"><stop offset="0" stop-color="#F8766D"/><stop offset=".4564" stop-color="#F8766D"/><stop offset=".4564" stop-color="#00BA38"/><stop offset=".5" stop-color="#00BA38"/><stop offset=".5083" stop-color="#00BA38" stop-opacity=".98"/><stop offset=".5124" stop-color="#00BA38" stop-opacity=".95"/><stop offset=".5166" stop-color="#00BA38" stop-opacity=".88"/><stop offset=".5207" stop-color="#00BA38" stop-opacity=".68"/><stop offset=".5249" stop-color="#00BA38" stop-opacity=".42"/><stop offset=".527" stop-color="#00BA38" stop-opacity=".42"/><stop offset=".527" stop-color="#619CFF" stop-opacity=".24"/><stop offset=".529" stop-color="#619CFF" stop-opacity=".24"/><stop offset=".5373" stop-color="#619CFF" stop-opacity=".55"/><stop offset=".5415" stop-color="#619CFF" stop-opacity=".68"/><stop offset=".5456" stop-color="#619CFF" stop-opacity=".76"/><stop offset=".5539" stop-color="#619CFF" stop-opacity=".84"/><stop offset=".5705" stop-color="#619CFF" stop-opacity=".9"/><stop offset=".8817" stop-color="#619CFF" stop-opacity=".99"/><stop offset="1" stop-color="#619CFF"/></linearGradient>
<linearGradient id="r152" gradientUnits="userSpaceOnUse" x1="143.04" x2="1063.91" y1="0" y2="0"><stop offset="0" stop-color="#F8766D"/><stop offset=".4606" stop-color="#F8766D"/><stop offset=".4606" stop-color="#00BA38"/><stop offset=".5" stop-color="#00BA38"/><stop offset=".5124" stop-color="#00BA38" stop-opacity=".97"/><stop offset=".5166" stop-color="#00BA38" stop-opacity=".92"/><stop offset=".5207" stop-color="#00BA38" stop-opacity=".79"/><stop offset=".529" stop-color="#00BA38" stop-opacity=".27"/><stop offset=".5311" stop-color="#00BA38" stop-opacity=".27"/><stop offset=".5311" stop-color="#619CFF" stop-opacity=".35"/><stop offset=".5332" stop-color="#619CFF" stop-opacity=".35"/><stop offset=".5415" stop-color="#619CFF" stop-opacity=".64"/><stop offset=".5456" stop-color="#619CFF" stop-opacity=".74"/><stop offset=".5498" stop-color="#619CFF" stop-opacity=".8"/><stop offset=".5581" stop-color="#619CFF" stop-opacity=".86"/><stop offset=".5747" stop-color="#619CFF" stop-opacity=".91"/><stop offset=".8817" stop-color="#619CFF" stop-opacity=".99"/><stop offset="1" stop-color="#619CFF"/></linearGradient>
<linearGradient id="r153" gradientUnits="userSpaceOnUse" x1="143.04" x2="1063.91" y1="0" y2="0"><stop offset="0" stop-color="#F8766D"/><stop offset=".4647" stop-color="#F8766D"/><stop offset=".4647" stop-color="#00BA38"/><stop offset=".5041" stop-color="#00BA38"/><stop offset=".5124" stop-color="#00BA38" stop-opacity=".98"/><stop offset=".5166" stop-color="#00BA38" stop-opacity=".95"/><stop offset=".5207" stop-color="#00BA38" stop-opacity=".87"/><stop offset=".5249" stop-color="#00BA38" stop-opacity=".66"/><stop offset=".529" stop-color="#00BA38" stop-opacity=".38"/><stop offset=".5311" stop-color="#00BA38" stop-opacity=".38"/><stop offset=".5311" stop-color="#619CFF" stop-opacity=".3"/><stop offset=".5332" stop-color="#619CFF" stop-opacity=".3"/><stop offset=".5415" stop-color="#619CFF" stop-opacity=".6"/><stop offset=".5456" stop-color="#619CFF" stop-opacity=".72"/><stop offset=".5498" stop-color="#619CFF" stop-opacity=".8"/><stop offset=".5581" stop-color="#619CFF" stop-opacity=".87"/><stop offset=".5747" stop-color="#619CFF" stop-opacity=".92"/><stop offset=".8776" stop-color="#619CFF" stop-opacity=".99"/><stop offset="1" stop-color="#619CFF"/></linearGradient>
<linearGradient id="r154" gradientUnits="userSpaceOnUse" x1="143.04" x2="1063.91" y1="0" y2="0"><stop offset="0" stop-color="#F8766D"/><stop offset=".4647" stop-color="#F8766D"/><stop offset=".4647" stop-color="#00BA38"/><stop offset=".5041" stop-color="#00BA38"/><stop offset=".5166" stop-color="#00BA38" stop-opacity=".97"/><stop offset=".5207" stop-color="#00BA38" stop-opacity=".92"/><stop offset=".5249" stop-color="#00BA38" stop-opacity=".78"/><stop offset=".5332" stop-color="#00BA38" stop-opacity=".22"/><stop offset=".5353" stop-color="#00BA38" stop-opacity=".22"/><stop offset=".5353" stop-color="#619CFF" stop-opacity=".4"/><stop offset=".5373" stop-color="#619CFF" stop-opacity=".4"/><stop offset=".5456" stop-color="#619CFF" stop-opacity=".69"/><stop offset=".5498" stop-color="#619CFF" stop-opacity=".79"/><stop offset=".5539" stop-color="#619CFF" stop-opacity=".84"/><stop offset=".5622" stop-color="#619CFF" stop-opacity=".89"/><stop offset=".5788" stop-color="#619CFF" stop-opacity=".93"/><stop offset="1" stop-color="#619CFF"/></linearGradient>
<linearGradient id="r155" gradientUnits="userSpaceOnUse" x1="143.04" x2="1063.91" y1="0" y2="0"><stop offset="0" stop-color="#F8766D"/><stop offset=".4689" stop-color="#F8766D"/><stop offset=".4689" stop-color="#00BA38"/><stop offset=".5083" stop-color="#00BA38"/><stop offset=".5166" stop-color="#00BA38" stop-opacity=".98"/><stop offset=".5207" stop-color="#00BA38" stop-opacity=".95"/><stop offset=".5249" stop-color="#00BA38" stop-opacity=".87"/><stop offset=".529" stop-color="#00BA38" stop-opacity=".64"/><stop offset=".5332" stop-color="#00BA38" stop-opacity=".34"/><stop offset=".5353" stop-color="#00BA38" stop-opacity=".34"/><stop offset=".5353" stop-color="#619CFF" stop-opacity=".36"/><stop offset=".5373" stop-color="#619CFF" stop-opacity=".36"/><stop offset=".5456" stop-color="#619CFF" stop-opacity=".64"/><stop offset=".5498" stop-color="#619CFF" stop-opacity=".77"/><stop offset=".5539" stop-color="#619CFF" stop-opacity=".83"/><stop offset=".5622" stop-color="#619CFF" stop-opacity=".89"/><stop offset=".5788" stop-color="#619CFF" stop-opacity=".94"/><stop offset="1" stop-color="#619CFF"/></linearGradient>
<linearGradient id="r156" gradientUnits="userSpaceOnUse" x1="143.04" x2="1063.91" y1="0" y2="0"><stop offset="0" stop-color="#F8766D"/><stop offset=".473" stop-color="#F8766D"/><stop offset=".473" stop-color="#00BA38"/><stop offset=".5124" stop-color="#00BA38" stop-opacity=".99"/><stop offset=".5207" stop-color="#00BA38" stop-opacity=".97"/><stop offset=".5249" stop-color="#00BA38" stop-opacity=".92"/><stop offset=".529" stop-color="#00BA38" stop-opacity=".78"/><stop offset=".5373" stop-color="#00BA38" stop-opacity=".19"/><stop offset=".5394" stop-color="#00BA38" stop-opacity=".19"/><stop offset=".5394" stop-color="#619CFF" stop-opacity=".43"/><stop offset=".5415" stop-color="#619CFF" stop-opacity=".43"/><stop offset=".5498" stop-color="#619CFF" stop-opacity=".73"/><stop offset=".5539" stop-color="#619CFF" stop-opacity=".82"/><stop offset=".5581" stop-color="#619CFF" stop-opacity=".87"/><stop offset=".5664" stop-color="#619CFF" stop-opacity=".91"/><stop offset=".583" stop-color="#619CFF" stop-opacity=".95"/><stop offset="1" stop-color="#619CFF"/></linearGradient>
<linearGradient id="r157" gradientUnits="userSpaceOnUse" x1="143.04" x2="1063.91" y1="0" y2="0"><stop offset="0" stop-color="#F8766D"/><stop offset=".473" stop-color="#F8766D"/><stop offset=".473" stop-color="#00BA38"/><stop offset=".5124" stop-color="#00BA38"/><stop offset=".5207" stop-color="#00BA38" stop-opacity=".98"/><stop offset=".5249" stop-color="#00BA38" stop-opacity=".96"/><stop offset=".529" stop-color="#00BA38" stop-opacity=".87"/><stop offset=".5332" stop-color="#00BA38" stop-opacity=".65"/><stop offset=".5373" stop-color="#00BA38" stop-opacity=".34"/><stop offset=".5394" stop-color="#00BA38" stop-opacity=".34"/><stop offset=".5394" stop-color="#619CFF" stop-opacity=".32"/><stop offset=".5415" stop-color="#619CFF" stop-opacity=".32"/><stop offset=".5498" stop-color="#619CFF" stop-opacity=".67"/><stop offset=".5539" stop-color="#619CFF" stop-opacity=".79"/><stop offset=".5581" stop-color="#619CFF" stop-opacity=".86"/><stop offset=".5664" stop-color="#619CFF" stop-opacity=".92"/><stop offset=".583" stop-color="#619CFF" stop-opacity=".96"/><stop offset="1" stop-color="#619CFF"/></linearGradient>
<linearGradient id="r158" gradientUnits="userSpaceOnUse" x1="143.04" x2="1063.91" y1="0" y2="0"><stop offset="0" stop-color="#F8766D"/><stop offset=".4772" stop-color="#F8766D"/><stop offset=".4772" stop-color="#00BA38"/><stop offset=".5124" stop-color="#00BA38"/><stop offset=".5249" stop-color="#00BA38" stop-opacity=".97"/><stop offset=".529" stop-color="#00BA38" stop-opacity=".93"/><stop offset=".5332" stop-color="#00BA38" stop-opacity=".79"/><stop offset=".5373" stop-color="#00BA38" stop-opacity=".54"/><stop offset=".5394" stop-color="#00BA38" stop-opacity=".54"/><stop offset=".5394" stop-color="#619CFF" stop-opacity=".22"/><stop offset=".5415" stop-color="#619CFF" stop-opacity=".22"/><stop offset=".5498" stop-color="#619CFF" stop-opacity=".59"/><stop offset=".5539" stop-color="#619CFF" stop-opacity=".75"/><stop offset=".5581" stop-color="#619CFF" stop-opacity=".84"/><stop offset=".5664" stop-color="#619CFF" stop-opacity=".92"/><stop offset=".583" stop-color="#619CFF" stop-opacity=".97"/><stop offset="1" stop-color="#619CFF"/></linearGradient>
<linearGradient id="r159" gradientUnits="userSpaceOnUse" x1="143.04" x2="1063.91" y1="0" y2="0"><stop offset="0" stop-color="#F8766D"/><stop offset=".4813" stop-color="#F8766D"/><stop offset=".4813" stop-color="#00BA38"/><stop offset=".5166" stop-color="#00BA38" stop-opacity=".99"/><stop offset=".529" stop-color="#00BA38" stop-opacity=".95"/><stop offset=".5332" stop-color="#00BA38" stop-opacity=".88"/><stop offset=".5373" stop-color="#00BA38" stop-opacity=".68"/><stop offset=".5415" stop-color="#00BA38" stop-opacity=".42"/><stop offset=".5436" stop-color="#00BA38" stop-opacity=".42"/><stop offset=".5436" stop-color="#619CFF" stop-opacity=".32"/><stop offset=".5456" stop-color="#619CFF" stop-opacity=".32"/><stop offset=".5539" stop-color="#619CFF" stop-opacity=".68"/><stop offset=".5581" stop-color="#619CFF" stop-opacity=".81"/><stop offset=".5622" stop-color="#619CFF" stop-opacity=".88"/><stop offset=".5705" stop-color="#619CFF" stop-opacity=".94"/><stop offset=".583" stop-color="#619CFF" stop-opacity=".97"/><stop offset="1" stop-color="#619CFF"/></linearGradient>
<linearGradient id="r160" gradientUnits="userSpaceOnUse" x1="143.04" x2="1063.91" y1="0" y2="0"><stop offset="0" stop-color="#F8766D"/><stop offset=".4855" stop-color="#F8766D"/><stop offset=".4855" stop-color="#00BA38"/><stop offset=".5166" stop-color="#00BA38" stop-opacity=".99"/><stop offset=".529" stop-color="#00BA38" stop-opacity=".93"/><stop offset=".5332" stop-color="#00BA38" stop-opacity=".93"/><stop offset=".5373" stop-color="#00BA38" stop-opacity=".8"/><stop offset=".5415" stop-color="#00BA38" stop-opacity=".54"/><stop offset=".5436" stop-color="#00BA38" stop-opacity=".54"/><stop offset=".5436" stop-color="#619CFF" stop-opacity=".24"/><stop offset=".5456" stop-color="#619CFF" stop-opacity=".24"/><stop offset=".5539" stop-color="#619CFF" stop-opacity=".61"/><stop offset=".5581" stop-color="#619CFF" stop-opacity=".77"/><stop offset=".5622" stop-color="#619CFF" stop-opacity=".86"/><stop offset=".5705" stop-color="#619CFF" stop-opacity=".94"/><stop offset=".583" stop-color="#619CFF" stop-opacity=".98"/><stop offset="1" stop-color="#619CFF"/></linearGradient>
<linearGradient id="r161" gradientUnits="userSpaceOnUse" x1="143.04" x2="1063.91" y1="0" y2="0"><stop offset="0" stop-color="#F8766D"/><stop offset=".4855" stop-color="#F8766D"/><stop offset=".4855" stop-color="#00BA38"/><stop offset=".5166" stop-color="#00BA38" stop-opacity=".98"/><stop offset=".529" stop-color="#00BA38" stop-opacity=".89"/><stop offset=".5332" stop-color="#00BA38" stop-opacity=".93"/><stop offset=".5373" stop-color="#00BA38" stop-opacity=".87"/><stop offset=".5415" stop-color="#00BA38" stop-opacity=".61"/><stop offset=".5456" stop-color="#00BA38" stop-opacity=".32"/><stop offset=".5477" stop-color="#00BA38" stop-opacity=".32"/><stop offset=".5477" stop-color="#619CFF" stop-opacity=".38"/><stop offset=".5498" stop-color="#619CFF" stop-opacity=".38"/><stop offset=".5581" stop-color="#619CFF" stop-opacity=".72"/><stop offset=".5622" stop-color="#619CFF" stop-opacity=".84"/><stop offset=".5664" stop-color="#619CFF" stop-opacity=".91"/><stop offset=".5705" stop-color="#619CFF" stop-opacity=".94"/><stop offset=".583" stop-color="#619CFF" stop-opacity=".98"/><stop offset="1" stop-color="#619CFF"/></linearGradient>
<linearGradient id="r162" gradientUnits="userSpaceOnUse" x1="143.04" x2="1063.91" y1="0" y2="0"><stop offset="0" stop-color="#F8766D"/><stop offset=".4896" stop-color="#F8766D"/><stop offset=".4896" stop-color="#00BA38"/><stop offset=".5124" stop-color="#00BA38" stop-opacity=".99"/><stop offset=".5207" stop-color="#00BA38" stop-opacity=".94"/><stop offset=".5249" stop-color="#00BA38" stop-opacity=".87"/><stop offset=".529" stop-color="#00BA38" stop-opacity=".85"/><stop offset=".5332" stop-color="#00BA38" stop-opacity=".91"/><stop offset=".5373" stop-color="#00BA38" stop-opacity=".87"/><stop offset=".5456" stop-color="#00BA38" stop-opacity=".32"/><stop offset=".5477" stop-color="#00BA38" stop-opacity=".32"/><stop offset=".5477" stop-color="#619CFF" stop-opacity=".35"/><stop offset=".5498" stop-color="#619CFF" stop-opacity=".35"/><stop offset=".5581" stop-color="#619CFF" stop-opacity=".7"/><stop offset=".5622" stop-color="#619CFF" stop-opacity=".83"/><stop offset=".5664" stop-color="#619CFF" stop-opacity=".9"/><stop offset=".5705" stop-color="#619CFF" stop-opacity=".94"/><stop offset=".583" stop-color="#619CFF" stop-opacity=".98"/><stop offset="1" stop-color="#619CFF"/></linearGradient>
<linearGradient id="r163" gradientUnits="userSpaceOnUse" x1="143.04" x2="1063.91" y1="0" y2="0"><stop offset="0" stop-color="#F8766D"/><stop offset=".4938" stop-color="#F8766D"/><stop offset=".4938" stop-color="#00BA38"/><stop offset=".5083" stop-color="#00BA38"/><stop offset=".5166" stop-color="#00BA38" stop-opacity=".97"/><stop offset=".5207" stop-color="#00BA38" stop-opacity=".92"/><stop offset=".5249" stop-color="#00BA38" stop-opacity=".8"/><stop offset=".529" stop-color="#00BA38" stop-opacity=".81"/><stop offset=".5332" stop-color="#00BA38" stop-opacity=".88"/><stop offset=".5373" stop-color="#00BA38" stop-opacity=".82"/><stop offset=".5415" stop-color="#00BA38" stop-opacity=".54"/><stop offset=".5456" stop-color="#00BA38" stop-opacity=".31"/><stop offset=".5477" stop-color="#00BA38" stop-opacity=".31"/><stop offset=".5477" stop-color="#619CFF" stop-opacity=".35"/><stop offset=".5498" stop-color="#619CFF" stop-opacity=".35"/><stop offset=".5581" stop-color="#619CFF" stop-opacity=".7"/><stop offset=".5622" stop-color="#619CFF" stop-opacity=".83"/><stop offset=".5664" stop-color="#619CFF" stop-opacity=".9"/><stop offset=".5705" stop-color="#619CFF" stop-opacity=".94"/><stop offset=".583" stop-color="#619CFF" stop-opacity=".99"/><stop offset="1" stop-color="#619CFF"/></linearGradient>
<linearGradient id="r164" gradientUnits="userSpaceOnUse" x1="143.04" x2="1063.91" y1="0" y2="0"><stop offset="0" stop-color="#F8766D"/><stop offset=".4979" stop-color="#F8766D"/><stop offset=".4979" stop-color="#00BA38"/><stop offset=".5083" stop-color="#00BA38" stop-opacity=".99"/><stop offset=".5166" stop-color="#00BA38" stop-opacity=".96"/><stop offset=".5207" stop-color="#00BA38" stop-opacity=".9"/><stop offset=".5249" stop-color="#00BA38" stop-opacity=".75"/><stop offset=".529" stop-color="#00BA38" stop-opacity=".75"/><stop offset=".5332" stop-color="#00BA38" stop-opacity=".84"/><stop offset=".5373" stop-color="#00BA38" stop-opacity=".77"/><stop offset=".5415" stop-color="#00BA38" stop-opacity=".54"/><stop offset=".5456" stop-color="#00BA38" stop-opacity=".3"/><stop offset=".5477" stop-color="#00BA38" stop-opacity=".3"/><stop offset=".5477" stop-color="#619CFF" stop-opacity=".37"/><stop offset=".5498" stop-color="#619CFF" stop-opacity=".37"/><stop offset=".5539" stop-color="#619CFF" stop-opacity=".53"/><stop offset=".5581" stop-color="#619CFF" stop-opacity=".71"/><stop offset=".5622" stop-color="#619CFF" stop-opacity=".84"/><stop offset=".5664" stop-color="#619CFF" stop-opacity=".91"/><stop offset=".5705" stop-color="#619CFF" stop-opacity=".94"/><stop offset=".583" stop-color="#619CFF" stop-opacity=".99"/><stop offset="1" stop-color="#619CFF"/></linearGradient>
<linearGradient id="r165" gradientUnits="userSpaceOnUse" x1="143.04" x2="1063.91" y1="0" y2="0"><stop offset="0" stop-color="#F8766D"/><stop offset=".4979" stop-color="#F8766D"/><stop offset=".4979" stop-color="#00BA38"/><stop offset=".5083" stop-color="#00BA38" stop-opacity=".99"/><stop offset=".5166" stop-color="#00BA38" stop-opacity=".93"/><stop offset=".5207" stop-color="#00BA38" stop-opacity=".88"/><stop offset=".5249" stop-color="#00BA38" stop-opacity=".71"/><stop offset=".529" stop-color="#00BA38" stop-opacity=".65"/><stop offset=".5332" stop-color="#00BA38" stop-opacity=".8"/><stop offset=".5373" stop-color="#00BA38" stop-opacity=".78"/><stop offset=".5415" stop-color="#00BA38" stop-opacity=".5"/><stop offset=".5456" stop-color="#00BA38" stop-opacity=".26"/><stop offset=".5477" stop-color="#00BA38" stop-opacity=".26"/><stop offset=".5477" stop-color="#619CFF" stop-opacity=".4"/><stop offset=".5498" stop-color="#619CFF" stop-opacity=".4"/><stop offset=".5581" stop-color="#619CFF" stop-opacity=".73"/><stop offset=".5622" stop-color="#619CFF" stop-opacity=".85"/><stop offset=".5664" stop-color="#619CFF" stop-opacity=".92"/><stop offset=".5705" stop-color="#619CFF" stop-opacity=".95"/><stop offset=".583" stop-color="#619CFF" stop-opacity=".99"/><stop offset="1" stop-color="#619CFF"/></linearGradient>
<linearGradient id="r166" gradientUnits="userSpaceOnUse" x1="143.04" x2="1063.91" y1="0" y2="0"><stop offset="0" stop-color="#F8766D"/><stop offset=".5021" stop-color="#F8766D"/><stop offset=".5021" stop-color="#00BA38" stop-opacity=".99"/><stop offset=".5124" stop-color="#00BA38" stop-opacity=".97"/><stop offset=".5166" stop-color="#00BA38" stop-opacity=".91"/><stop offset=".5207" stop-color="#00BA38" stop-opacity=".83"/><stop offset=".5249" stop-color="#00BA38" stop-opacity=".65"/><stop offset=".529" stop-color="#00BA38" stop-opacity=".53"/><stop offset=".5332" stop-color="#00BA38" stop-opacity=".7"/><stop offset=".5373" stop-color="#00BA38" stop-opacity=".66"/><stop offset=".5415" stop-color="#00BA38" stop-opacity=".34"/><stop offset=".5456" stop-color="#00BA38" stop-opacity=".2"/><stop offset=".5477" stop-color="#00BA38" stop-opacity=".2"/><stop offset=".5477" stop-color="#619CFF" stop-opacity=".45"/><stop offset=".5498" stop-color="#619CFF" stop-opacity=".45"/><stop offset=".5581" stop-color="#619CFF" stop-opacity=".77"/><stop offset=".5622" stop-color="#619CFF" stop-opacity=".88"/><stop offset=".5705" stop-color="#619CFF" stop-opacity=".95"/><stop offset=".583" stop-color="#619CFF" stop-opacity=".99"/><stop offset="1" stop-color="#619CFF"/></linearGradient>
<linearGradient id="r167" gradientUnits="userSpaceOnUse" x1="143.04" x2="1063.91" y1="0" y2="0"><stop offset="0" stop-color="#F8766D"/><stop offset=".5062" stop-color="#F8766D"/><stop offset=".5062" stop-color="#00BA38" stop-opacity=".98"/><stop offset=".5124" stop-color="#00BA38" stop-opacity=".96"/><stop offset=".5166" stop-color="#00BA38" stop-opacity=".9"/><stop offset=".5207" stop-color="#00BA38" stop-opacity=".78"/><stop offset=".5249" stop-color="#00BA38" stop-opacity=".59"/><stop offset=".529" stop-color="#00BA38" stop-opacity=".45"/><stop offset=".5332" stop-color="#00BA38" stop-opacity=".52"/><stop offset=".5373" stop-color="#00BA38" stop-opacity=".44"/><stop offset=".5415" stop-color="#00BA38" stop-opacity=".19"/><stop offset=".5436" stop-color="#00BA38" stop-opacity=".19"/><stop offset=".5436" stop-color="#619CFF" stop-opacity=".28"/><stop offset=".5456" stop-color="#619CFF" stop-opacity=".28"/><stop offset=".5498" stop-color="#619CFF" stop-opacity=".52"/><stop offset=".5539" stop-color="#619CFF" stop-opacity=".72"/><stop offset=".5581" stop-color="#619CFF" stop-opacity=".84"/><stop offset=".5622" stop-color="#619CFF" stop-opacity=".91"/><stop offset=".5664" stop-color="#619CFF" stop-opacity=".94"/><stop offset=".583" stop-color="#619CFF" stop-opacity=".99"/><stop offset="1" stop-color="#619CFF"/></linearGradient>
<linearGradient id="r168" gradientUnits="userSpaceOnUse" x1="143.04" x2="1063.91" y1="0" y2="0"><stop offset="0" stop-color="#F8766D"/><stop offset=".5104" stop-color="#F8766D"/><stop offset=".5104" stop-color="#00BA38" stop-opacity=".96"/><stop offset=".5124" stop-color="#00BA38" stop-opacity=".96"/><stop offset=".5166" stop-color="#00BA38" stop-opacity=".9"/><stop offset=".5207" stop-color="#00BA38" stop-opacity=".76"/><stop offset=".5249" stop-color="#00BA38" stop-opacity=".57"/><stop offset=".529" stop-color="#00BA38" stop-opacity=".4"/><stop offset=".5332" stop-color="#00BA38" stop-opacity=".32"/><stop offset=".5353" stop-color="#00BA38" stop-opacity=".32"/><stop offset=".5353" stop-color="#619CFF" stop-opacity=".07"/><stop offset=".5373" stop-color="#619CFF" stop-opacity=".07"/><stop offset=".5415" stop-color="#619CFF" stop-opacity=".21"/><stop offset=".5456" stop-color="#619CFF" stop-opacity=".39"/><stop offset=".5498" stop-color="#619CFF" stop-opacity=".64"/><stop offset=".5539" stop-color="#619CFF" stop-opacity=".84"/><stop offset=".5581" stop-color="#619CFF" stop-opacity=".9"/><stop offset=".5622" stop-color="#619CFF" stop-opacity=".94"/><stop offset=".5747" stop-color="#619CFF" stop-opacity=".98"/><stop offset=".5913" stop-color="#619CFF"/><stop offset="1" stop-color="#619CFF"/></linearGradient>
<linearGradient id="r169" gradientUnits="userSpaceOnUse" x1="143.04" x2="1063.91" y1="0" y2="0"><stop offset="0" stop-color="#F8766D"/><stop offset=".5104" stop-color="#F8766D"/><stop offset=".5104" stop-color="#00BA38" stop-opacity=".96"/><stop offset=".5124" stop-color="#00BA38" stop-opacity=".96"/><stop offset=".5166" stop-color="#00BA38" stop-opacity=".92"/><stop offset=".5207" stop-color="#00BA38" stop-opacity=".79"/><stop offset=".529" stop-color="#00BA38" stop-opacity=".38"/><stop offset=".5332" stop-color="#00BA38" stop-opacity=".23"/><stop offset=".5353" stop-color="#00BA38" stop-opacity=".23"/><stop offset=".5353" stop-color="#619CFF" stop-opacity=".08"/><stop offset=".5373" stop-color="#619CFF" stop-opacity=".08"/><stop offset=".5415" stop-color="#619CFF" stop-opacity=".25"/><stop offset=".5456" stop-color="#619CFF" stop-opacity=".48"/><stop offset=".5498" stop-color="#619CFF" stop-opacity=".74"/><stop offset=".5539" stop-color="#619CFF" stop-opacity=".91"/><stop offset=".5581" stop-color="#619CFF" stop-opacity=".95"/><stop offset=".5747" stop-color="#619CFF" stop-opacity=".98"/><stop offset=".5913" stop-color="#619CFF"/><stop offset="1" stop-color="#619CFF"/></linearGradient>
<linearGradient id="r170" gradientUnits="userSpaceOnUse" x1="143.04" x2="1063.91" y1="0" y2="0"><stop offset="0" stop-color="#F8766D"/><stop offset=".5145" stop-color="#F8766D"/><stop offset=".5145" stop-color="#00BA38" stop-opacity=".94"/><stop offset=".5166" stop-color="#00BA38" stop-opacity=".94"/><stop offset=".5207" stop-color="#00BA38" stop-opacity=".87"/><stop offset=".5249" stop-color="#00BA38" stop-opacity=".69"/><stop offset=".529" stop-color="#00BA38" stop-opacity=".46"/><stop offset=".5332" stop-color="#00BA38" stop-opacity=".27"/><stop offset=".5353" stop-color="#00BA38" stop-opacity=".27"/><stop offset=".5353" stop-color="#619CFF" stop-opacity=".1"/><stop offset=".5373" stop-color="#619CFF" stop-opacity=".1"/><stop offset=".5415" stop-color="#619CFF" stop-opacity=".26"/><stop offset=".5498" stop-color="#619CFF" stop-opacity=".73"/><stop offset=".5539" stop-color="#619CFF" stop-opacity=".9"/><stop offset=".5581" stop-color="#619CFF" stop-opacity=".95"/><stop offset=".5747" stop-color="#619CFF" stop-opacity=".99"/><stop offset="1" stop-color="#619CFF"/></linearGradient>
<linearGradient id="r171" gradientUnits="userSpaceOnUse" x1="143.04" x2="1063.91" y1="0" y2="0"><stop offset="0" stop-color="#F8766D"/><stop offset=".5187" stop-color="#F8766D"/><stop offset=".5187" stop-color="#00BA38" stop-opacity=".92"/><stop offset=".5207" stop-color="#00BA38" stop-opacity=".92"/><stop offset=".5249" stop-color="#00BA38" stop-opacity=".82"/><stop offset=".5332" stop-color="#00BA38" stop-opacity=".38"/><stop offset=".5373" stop-color="#00BA38" stop-opacity=".21"/><stop offset=".5394" stop-color="#00BA38" stop-opacity=".21"/><stop offset=".5394" stop-color="#619CFF" stop-opacity=".24"/><stop offset=".5415" stop-color="#619CFF" stop-opacity=".24"/><stop offset=".5456" stop-color="#619CFF" stop-opacity=".43"/><stop offset=".5498" stop-color="#619CFF" stop-opacity=".67"/><stop offset=".5539" stop-color="#619CFF" stop-opacity=".86"/><stop offset=".5581" stop-color="#619CFF" stop-opacity=".94"/><stop offset=".5747" stop-color="#619CFF" stop-opacity=".99"/><stop offset="1" stop-color="#619CFF"/></linearGradient>
<linearGradient id="r172" gradientUnits="userSpaceOnUse" x1="143.04" x2="1063.91" y1="0" y2="0"><stop offset="0" stop-color="#F8766D"/><stop offset=".5187" stop-color="#F8766D"/><stop offset=".5187" stop-color="#00BA38" stop-opacity=".94"/><stop offset=".5207" stop-color="#00BA38" stop-opacity=".94"/><stop offset=".5249" stop-color="#00BA38" stop-opacity=".9"/><stop offset=".529" stop-color="#00BA38" stop-opacity=".75"/><stop offset=".5332" stop-color="#00BA38" stop-opacity=".52"/><stop offset=".5373" stop-color="#00BA38" stop-opacity=".33"/><stop offset=".5394" stop-color="#00BA38" stop-opacity=".33"/><stop offset=".5394" stop-color="#619CFF" stop-opacity=".24"/><stop offset=".5415" stop-color="#619CFF" stop-opacity=".24"/><stop offset=".5456" stop-color="#619CFF" stop-opacity=".39"/><stop offset=".5539" stop-color="#619CFF" stop-opacity=".8"/><stop offset=".5581" stop-color="#619CFF" stop-opacity=".93"/><stop offset=".5622" stop-color="#619CFF" stop-opacity=".97"/><stop offset=".5705" stop-color="#619CFF" stop-opacity=".99"/><stop offset=".5913" stop-color="#619CFF"/><stop offset="1" stop-color="#619CFF"/></linearGradient>
<linearGradient id="r173" gradientUnits="userSpaceOnUse" x1="143.04" x2="1063.91" y1="0" y2="0"><stop offset="0" stop-color="#F8766D"/><stop offset=".5228" stop-color="#F8766D"/><stop offset=".5228" stop-color="#00BA38" stop-opacity=".94"/><stop offset=".5249" stop-color="#00BA38" stop-opacity=".94"/><stop offset=".529" stop-color="#00BA38" stop-opacity=".87"/><stop offset=".5373" stop-color="#00BA38" stop-opacity=".49"/><stop offset=".5415" stop-color="#00BA38" stop-opacity=".54"/><stop offset=".5436" stop-color="#00BA38" stop-opacity=".54"/><stop offset=".5436" stop-color="#619CFF" stop-opacity=".43"/><stop offset=".5456" stop-color="#619CFF" stop-opacity=".43"/><stop offset=".5498" stop-color="#619CFF" stop-opacity=".56"/><stop offset=".5581" stop-color="#619CFF" stop-opacity=".91"/><stop offset=".5622" stop-color="#619CFF" stop-opacity=".97"/><stop offset=".5705" stop-color="#619CFF" stop-opacity=".99"/><stop offset="1" stop-color="#619CFF"/></linearGradient>
<linearGradient id="r174" gradientUnits="userSpaceOnUse" x1="143.04" x2="1063.91" y1="0" y2="0"><stop offset="0" stop-color="#F8766D"/><stop offset=".5228" stop-color="#F8766D"/><stop offset=".5228" stop-color="#00BA38" stop-opacity=".95"/><stop offset=".529" stop-color="#00BA38" stop-opacity=".93"/><stop offset=".5332" stop-color="#00BA38" stop-opacity=".82"/><stop offset=".5373" stop-color="#00BA38" stop-opacity=".65"/><stop offset=".5415" stop-color="#00BA38" stop-opacity=".7"/><stop offset=".5436" stop-color="#00BA38" stop-opacity=".7"/><stop offset=".5436" stop-color="#619CFF" stop-opacity=".54"/><stop offset=".5456" stop-color="#619CFF" stop-opacity=".54"/><stop offset=".5498" stop-color="#619CFF" stop-opacity=".63"/><stop offset=".5539" stop-color="#619CFF" stop-opacity=".74"/><stop offset=".5581" stop-color="#619CFF" stop-opacity=".88"/><stop offset=".5622" stop-color="#619CFF" stop-opacity=".97"/><stop offset=".5705" stop-color="#619CFF" stop-opacity=".99"/><stop offset="1" stop-color="#619CFF"/></linearGradient>
<linearGradient id="r175" gradientUnits="userSpaceOnUse" x1="143.04" x2="1063.91" y1="0" y2="0"><stop offset="0" stop-color="#F8766D"/><stop offset=".527" stop-color="#F8766D"/><stop offset=".527" stop-color="#00BA38" stop-opacity=".96"/><stop offset=".529" stop-color="#00BA38" stop-opacity=".96"/><stop offset=".5332" stop-color="#00BA38" stop-opacity=".92"/><stop offset=".5373" stop-color="#00BA38" stop-opacity=".81"/><stop offset=".5415" stop-color="#00BA38" stop-opacity=".87"/><stop offset=".5456" stop-color="#00BA38" stop-opacity=".97"/><stop offset=".5477" stop-color="#00BA38" stop-opacity=".97"/><stop offset=".5477" stop-color="#619CFF" stop-opacity=".76"/><stop offset=".5498" stop-color="#619CFF" stop-opacity=".76"/><stop offset=".5539" stop-color="#619CFF" stop-opacity=".82"/><stop offset=".5622" stop-color="#619CFF" stop-opacity=".97"/><stop offset=".5747" stop-color="#619CFF"/><stop offset="1" stop-color="#619CFF"/></linearGradient>
<linearGradient id="r176" gradientUnits="userSpaceOnUse" x1="143.04" x2="1063.91" y1="0" y2="0"><stop offset="0" stop-color="#F8766D"/><stop offset=".5311" stop-color="#F8766D"/><stop offset=".5311" stop-color="#00BA38" stop-opacity=".96"/><stop offset=".5332" stop-color="#00BA38" stop-opacity=".96"/><stop offset=".5373" stop-color="#00BA38" stop-opacity=".92"/><stop offset=".5456" stop-color="#00BA38" stop-opacity=".99"/><stop offset=".5477" stop-color="#00BA38" stop-opacity=".99"/><stop offset=".5477" stop-color="#619CFF" stop-opacity=".9"/><stop offset=".5498" stop-color="#619CFF" stop-opacity=".9"/><stop offset=".5622" stop-color="#619CFF" stop-opacity=".99"/><stop offset=".5664" stop-color="#619CFF"/><stop offset="1" stop-color="#619CFF"/></linearGradient>
<linearGradient id="r177" gradientUnits="userSpaceOnUse" x1="143.04" x2="1063.91" y1="0" y2="0"><stop offset="0" stop-color="#F8766D"/><stop offset=".5353" stop-color="#F8766D"/><stop offset=".5353" stop-color="#00BA38" stop-opacity=".98"/><stop offset=".5519" stop-color="#00BA38"/><stop offset=".5519" stop-color="#619CFF" stop-opacity=".98"/><stop offset=".5871" stop-color="#619CFF"/><stop offset="1" stop-color="#619CFF"/></linearGradient>
<linearGradient id="r178" gradientUnits="userSpaceOnUse" x1="143.04" x2="1063.91" y1="0" y2="0"><stop offset="0" stop-color="#F8766D"/><stop offset=".5353" stop-color="#F8766D"/><stop offset=".5353" stop-color="#00BA38"/><stop offset=".556" stop-color="#00BA38"/><stop offset=".556" stop-color="#619CFF"/><stop offset="1" stop-color="#619CFF"/></linearGradient>
<linearGradient id="r179" gradientUnits="userSpaceOnUse" x1="143.04" x2="1063.91" y1="0" y2="0"><stop offset="0" stop-color="#F8766D"/><stop offset=".5394" stop-color="#F8766D"/><stop offset=".5394" stop-color="#00BA38"/><stop offset=".5602" stop-color="#00BA38"/><stop offset=".5602" stop-color="#619CFF"/><stop offset="1" stop-color="#619CFF"/></linearGradient>
<linearGradient id="r180" gradientUnits="userSpaceOnUse" x1="143.04" x2="1063.91" y1="0" y2="0"><stop offset="0" stop-color="#F8766D"/><stop offset=".5436" stop-color="#F8766D"/><stop offset=".5436" stop-color="#00BA38"/><stop offset=".5602" stop-color="#00BA38"/><stop offset=".5602" stop-color="#619CFF"/><stop offset="1" stop-color="#619CFF"/></linearGradient>
<linearGradient id="r181" gradientUnits="userSpaceOnUse" x1="143.04" x2="1063.91" y1="0" y2="0"><stop offset="0" stop-color="#F8766D"/><stop offset=".5436" stop-color="#F8766D"/><stop offset=".5436" stop-color="#00BA38"/><stop offset=".5643" stop-color="#00BA38"/><stop offset=".5643" stop-color="#619CFF"/><stop offset="1" stop-color="#619CFF"/></linearGradient>
<linearGradient id="r182" gradientUnits="userSpaceOnUse" x1="143.04" x2="1063.91" y1="0" y2="0"><stop offset="0" stop-color="#F8766D"/><stop offset=".5477" stop-color="#F8766D"/><stop offset=".5477" stop-color="#00BA38"/><stop offset=".5685" stop-color="#00BA38"/><stop offset=".5685" stop-color="#619CFF"/><stop offset="1" stop-color="#619CFF"/></linearGradient>
<linearGradient id="r183" gradientUnits="userSpaceOnUse" x1="143.04" x2="1063.91" y1="0" y2="0"><stop offset="0" stop-color="#F8766D"/><stop offset=".5519" stop-color="#F8766D"/><stop offset=".5519" stop-color="#00BA38"/><stop offset=".5726" stop-color="#00BA38"/><stop offset=".5726" stop-color="#619CFF"/><stop offset="1" stop-color="#619CFF"/></linearGradient>
<linearGradient id="r184" gradientUnits="userSpaceOnUse" x1="143.04" x2="1063.91" y1="0" y2="0"><stop offset="0" stop-color="#F8766D"/><stop offset=".556" stop-color="#F8766D"/><stop offset=".556" stop-color="#00BA38"/><stop offset=".5768" stop-color="#00BA38"/><stop offset=".5768" stop-color="#619CFF"/><stop offset="1" stop-color="#619CFF"/></linearGradient>
<linearGradient id="r185" gradientUnits="userSpaceOnUse" x1="143.04" x2="1063.91" y1="0" y2="0"><stop offset="0" stop-color="#F8766D"/><stop offset=".5602" stop-color="#F8766D"/><stop offset=".5602" stop-color="#00BA38"/><stop offset=".5768" stop-color="#00BA38"/><stop offset=".5768" stop-color="#619CFF"/><stop offset="1" stop-color="#619CFF"/></linearGradient>
<linearGradient id="r186" gradientUnits="userSpaceOnUse" x1="143.04" x2="1063.91" y1="0" y2="0"><stop offset="0" stop-color="#F8766D"/><stop offset=".5602" stop-color="#F8766D"/><stop offset=".5602" stop-color="#00BA38"/><stop offset=".5809" stop-color="#00BA38"/><stop offset=".5809" stop-color="#619CFF"/><stop offset="1" stop-color="#619CFF"/></linearGradient>
<linearGradient id="r187" gradientUnits="userSpaceOnUse" x1="143.04" x2="1063.91" y1="0" y2="0"><stop offset="0" stop-color="#F8766D"/><stop offset=".5643" stop-color="#F8766D"/><stop offset=".5643" stop-color="#00BA38"/><stop offset=".5851" stop-color="#00BA38"/><stop offset=".5851" stop-color="#619CFF"/><stop offset="1" stop-color="#619CFF"/></linearGradient>
<linearGradient id="r188" gradientUnits="userSpaceOnUse" x1="143.04" x2="1063.91" y1="0" y2="0"><stop offset="0" stop-color="#F8766D"/><stop offset=".5685" stop-color="#F8766D"/><stop offset=".5685" stop-color="#00BA38"/><stop offset=".5892" stop-color="#00BA38"/><stop offset=".5892" stop-color="#619CFF"/><stop offset="1" stop-color="#619CFF"/></linearGradient>
<linearGradient id="r189" gradientUnits="userSpaceOnUse" x1="143.04" x2="1063.91" y1="0" y2="0"><stop offset="0" stop-color="#F8766D"/><stop offset=".5685" stop-color="#F8766D"/><stop offset=".5685" stop-color="#00BA38"/><stop offset=".5934" stop-color="#00BA38"/><stop offset=".5934" stop-color="#619CFF"/><stop offset="1" stop-color="#619CFF"/></linearGradient>
<linearGradient id="r190" gradientUnits="userSpaceOnUse" x1="143.04" x2="1063.91" y1="0" y2="0"><stop offset="0" stop-color="#F8766D"/><stop offset=".5726" stop-color="#F8766D"/><stop offset=".5726" stop-color="#00BA38"/><stop offset=".5934" stop-color="#00BA38"/><stop offset=".5934" stop-color="#619CFF"/><stop offset="1" stop-color="#619CFF"/></linearGradient>
<linearGradient id="r191" gradientUnits="userSpaceOnUse" x1="143.04" x2="1063.91" y1="0" y2="0"><stop offset="0" stop-color="#F8766D"/><stop offset=".5726" stop-color="#F8766D"/><stop offset=".5726" stop-color="#00BA38"/><stop offset=".5975" stop-color="#00BA38"/><stop offset=".5975" stop-color="#619CFF"/><stop offset="1" stop-color="#619CFF"/></linearGradient>
<linearGradient id="r192" gradientUnits="userSpaceOnUse" x1="143.04" x2="1063.91" y1="0" y2="0"><stop offset="0" stop-color="#F8766D"/><stop offset=".5768" stop-color="#F8766D"/><stop offset=".5768" stop-color="#00BA38"/><stop offset=".6017" stop-color="#00BA38"/><stop offset=".6017" stop-color="#619CFF"/><stop offset="1" stop-color="#619CFF"/></linearGradient>
<linearGradient id="r193" gradientUnits="userSpaceOnUse" x1="143.04" x2="1063.91" y1="0" y2="0"><stop offset="0" stop-color="#F8766D"/><stop offset=".5809" stop-color="#F8766D"/><stop offset=".5809" stop-color="#00BA38"/><stop offset=".6058" stop-color="#00BA38"/><stop offset=".6058" stop-color="#619CFF"/><stop offset="1" stop-color="#619CFF"/></linearGradient>
<linearGradient id="r194" gradientUnits="userSpaceOnUse" x1="143.04" x2="1063.91" y1="0" y2="0"><stop offset="0" stop-color="#F8766D"/><stop offset=".5809" stop-color="#F8766D"/><stop offset=".5809" stop-color="#00BA38"/><stop offset=".61" stop-color="#00BA38"/><stop offset=".61" stop-color="#619CFF"/><stop offset="1" stop-color="#619CFF"/></linearGradient>
<linearGradient id="r195" gradientUnits="userSpaceOnUse" x1="143.04" x2="1063.91" y1="0" y2="0"><stop offset="0" stop-color="#F8766D"/><stop offset=".5851" stop-color="#F8766D"/><stop offset=".5851" stop-color="#00BA38"/><stop offset=".6141" stop-color="#00BA38"/><stop offset=".6141" stop-color="#619CFF"/><stop offset="1" stop-color="#619CFF"/></linearGradient>
<linearGradient id="r196" gradientUnits="userSpaceOnUse" x1="143.04" x2="1063.91" y1="0" y2="0"><stop offset="0" stop-color="#F8766D"/><stop offset=".5851" stop-color="#F8766D"/><stop offset=".5851" stop-color="#00BA38"/><stop offset=".6141" stop-color="#00BA38"/><stop offset=".6141" stop-color="#619CFF"/><stop offset="1" stop-color="#619CFF"/></linearGradient>
<linearGradient id="r197" gradientUnits="userSpaceOnUse" x1="143.04" x2="1063.91" y1="0" y2="0"><stop offset="0" stop-color="#F8766D"/><stop offset=".5892" stop-color="#F8766D"/><stop offset=".5892" stop-color="#00BA38"/><stop offset=".6183" stop-color="#00BA38"/><stop offset=".6183" stop-color="#619CFF"/><stop offset="1" stop-color="#619CFF"/></linearGradient>
<linearGradient id="r198" gradientUnits="userSpaceOnUse" x1="143.04" x2="1063.91" y1="0" y2="0"><stop offset="0" stop-color="#F8766D"/><stop offset=".5892" stop-color="#F8766D"/><stop offset=".5892" stop-color="#00BA38"/><stop offset=".6224" stop-color="#00BA38"/><stop offset=".6224" stop-color="#619CFF"/><stop offset="1" stop-color="#619CFF"/></linearGradient>
<linearGradient id="r199" gradientUnits="userSpaceOnUse" x1="143.04" x2="1063.91" y1="0" y2="0"><stop offset="0" stop-color="#F8766D"/><stop offset=".5934" stop-color="#F8766D"/><stop offset=".5934" stop-color="#00BA38"/><stop offset=".6266" stop-color="#00BA38"/><stop offset=".6266" stop-color="#619CFF"/><stop offset="1" stop-color="#619CFF"/></linearGradient>
<linearGradient id="r200" gradientUnits="userSpaceOnUse" x1="143.04" x2="1063.91" y1="0" y2="0"><stop offset="0" stop-color="#F8766D"/><stop offset=".5934" stop-color="#F8766D"/><stop offset=".5934" stop-color="#00BA38"/><stop offset=".6307" stop-color="#00BA38"/><stop offset=".6307" stop-color="#619CFF"/><stop offset="1" stop-color="#619CFF"/></linearGradient>
<linearGradient id="r201" gradientUnits="userSpaceOnUse" x1="143.04" x2="1063.91" y1="0" y2="0"><stop offset="0" stop-color="#F8766D"/><stop offset=".5975" stop-color="#F8766D"/><stop offset=".5975" stop-color="#00BA38"/><stop offset=".6349" stop-color="#00BA38"/><stop offset=".6349" stop-color="#619CFF"/><stop offset="1" stop-color="#619CFF"/></linearGradient>
<linearGradient id="r202" gradientUnits="userSpaceOnUse" x1="143.04" x2="1063.91" y1="0" y2="0"><stop offset="0" stop-color="#F8766D"/><stop offset=".5975" stop-color="#F8766D"/><stop offset=".5975" stop-color="#00BA38"/><stop offset=".639" stop-color="#00BA38"/><stop offset=".639" stop-color="#619CFF"/><stop offset="1" stop-color="#619CFF"/></linearGradient>
<linearGradient id="r203" gradientUnits="userSpaceOnUse" x1="143.04" x2="1063.91" y1="0" y2="0"><stop offset="0" stop-color="#F8766D"/><stop offset=".5975" stop-color="#F8766D"/><stop offset=".5975" stop-color="#00BA38"/><stop offset=".6432" stop-color="#00BA38"/><stop offset=".6432" stop-color="#619CFF"/><stop offset="1" stop-color="#619CFF"/></linearGradient>
<linearGradient id="r204" gradientUnits="userSpaceOnUse" x1="143.04" x2="1063.91" y1="0" y2="0"><stop offset="0" stop-color="#F8766D"/><stop offset=".5975" stop-color="#F8766D"/><stop offset=".5975" stop-color="#00BA38"/><stop offset=".6432" stop-color="#00BA38"/><stop offset=".6432" stop-color="#619CFF"/><stop offset="1" stop-color="#619CFF"/></linearGradient>
<linearGradient id="r205" gradientUnits="userSpaceOnUse" x1="143.04" x2="1063.91" y1="0" y2="0"><stop offset="0" stop-color="#F8766D"/><stop offset=".5975" stop-color="#F8766D"/><stop offset=".5975" stop-color="#00BA38"/><stop offset=".6473" stop-color="#00BA38"/><stop offset=".6473" stop-color="#619CFF"/><stop offset="1" stop-color="#619CFF"/></linearGradient>
<linearGradient id="r206" gradientUnits="userSpaceOnUse" x1="143.04" x2="1063.91" y1="0" y2="0"><stop offset="0" stop-color="#F8766D"/><stop offset=".5975" stop-color="#F8766D"/><stop offset=".5975" stop-color="#00BA38"/><stop offset=".6515" stop-color="#00BA38"/><stop offset=".6515" stop-color="#619CFF"/><stop offset="1" stop-color="#619CFF"/></linearGradient>
<linearGradient id="r207" gradientUnits="userSpaceOnUse" x1="143.04" x2="1063.91" y1="0" y2="0"><stop offset="0" stop-color="#F8766D"/><stop offset=".5975" stop-color="#F8766D"/><stop offset=".5975" stop-color="#00BA38"/><stop offset=".6556" stop-color="#00BA38"/><stop offset=".6556" stop-color="#619CFF"/><stop offset="1" stop-color="#619CFF"/></linearGradient>
<linearGradient id="r208" gradientUnits="userSpaceOnUse" x1="143.04" x2="1063.91" y1="0" y2="0"><stop offset="0" stop-color="#F8766D"/><stop offset=".5975" stop-color="#F8766D"/><stop offset=".5975" stop-color="#00BA38"/><stop offset=".6598" stop-color="#00BA38"/><stop offset=".6598" stop-color="#619CFF"/><stop offset="1" stop-color="#619CFF"/></linearGradient>
<linearGradient id="r209" gradientUnits="userSpaceOnUse" x1="143.04" x2="1063.91" y1="0" y2="0"><stop offset="0" stop-color="#F8766D"/><stop offset=".5975" stop-color="#F8766D"/><stop offset=".5975" stop-color="#00BA38"/><stop offset=".6598" stop-color="#00BA38"/><stop offset=".6598" stop-color="#619CFF"/><stop offset="1" stop-color="#619CFF"/></linearGradient>
<linearGradient id="r210" gradientUnits="userSpaceOnUse" x1="143.04" x2="1063.91" y1="0" y2="0"><stop offset="0" stop-color="#F8766D"/><stop offset=".6017" stop-color="#F8766D"/><stop offset=".6017" stop-color="#00BA38"/><stop offset=".6639" stop-color="#00BA38"/><stop offset=".6639" stop-color="#619CFF"/><stop offset="1" stop-color="#619CFF"/></linearGradient>
<linearGradient id="r211" gradientUnits="userSpaceOnUse" x1="143.04" x2="1063.91" y1="0" y2="0"><stop offset="0" stop-color="#F8766D"/><stop offset=".6017" stop-color="#F8766D"/><stop offset=".6017" stop-color="#00BA38"/><stop offset=".668" stop-color="#00BA38"/><stop offset=".668" stop-color="#619CFF"/><stop offset="1" stop-color="#619CFF"/></linearGradient>
<linearGradient id="r212" gradientUnits="userSpaceOnUse" x1="143.04" x2="1063.91" y1="0" y2="0"><stop offset="0" stop-color="#F8766D"/><stop offset=".6017" stop-color="#F8766D"/><stop offset=".6017" stop-color="#00BA38"/><stop offset=".6722" stop-color="#00BA38"/><stop offset=".6722" stop-color="#619CFF"/><stop offset="1" stop-color="#619CFF"/></linearGradient>
<linearGradient id="r213" gradientUnits="userSpaceOnUse" x1="143.04" x2="1063.91" y1="0" y2="0"><stop offset="0" stop-color="#F8766D"/><stop offset=".6058" stop-color="#F8766D"/><stop offset=".6058" stop-color="#00BA38"/><stop offset=".6763" stop-color="#00BA38"/><stop offset=".6763" stop-color="#619CFF"/><stop offset="1" stop-color="#619CFF"/></linearGradient>
<linearGradient id="r214" gradientUnits="userSpaceOnUse" x1="143.04" x2="1063.91" y1="0" y2="0"><stop offset="0" stop-color="#F8766D"/><stop offset=".6058" stop-color="#F8766D"/><stop offset=".6058" stop-color="#00BA38"/><stop offset=".6805" stop-color="#00BA38"/><stop offset=".6805" stop-color="#619CFF"/><stop offset="1" stop-color="#619CFF"/></linearGradient>
<linearGradient id="r215" gradientUnits="userSpaceOnUse" x1="143.04" x2="1063.91" y1="0" y2="0"><stop offset="0" stop-color="#F8766D"/><stop offset=".6058" stop-color="#F8766D"/><stop offset=".6058" stop-color="#00BA38"/><stop offset=".6846" stop-color="#00BA38"/><stop offset=".6846" stop-color="#619CFF"/><stop offset="1" stop-color="#619CFF"/></linearGradient>
<linearGradient id="r216" gradientUnits="userSpaceOnUse" x1="143.04" x2="1063.91" y1="0" y2="0"><stop offset="0" stop-color="#F8766D"/><stop offset=".61" stop-color="#F8766D"/><stop offset=".61" stop-color="#00BA38"/><stop offset=".6888" stop-color="#00BA38"/><stop offset=".6888" stop-color="#619CFF"/><stop offset="1" stop-color="#619CFF"/></linearGradient>
<linearGradient id="r217" gradientUnits="userSpaceOnUse" x1="143.04" x2="1063.91" y1="0" y2="0"><stop offset="0" stop-color="#F8766D"/><stop offset=".61" stop-color="#F8766D"/><stop offset=".61" stop-color="#00BA38"/><stop offset=".6888" stop-color="#00BA38"/><stop offset=".6888" stop-color="#619CFF"/><stop offset="1" stop-color="#619CFF"/></linearGradient>
<linearGradient id="r218" gradientUnits="userSpaceOnUse" x1="143.04" x2="1063.91" y1="0" y2="0"><stop offset="0" stop-color="#F8766D"/><stop offset=".61" stop-color="#F8766D"/><stop offset=".61" stop-color="#00BA38"/><stop offset=".6929" stop-color="#00BA38"/><stop offset=".6929" stop-color="#619CFF"/><stop offset="1" stop-color="#619CFF"/></linearGradient>
<linearGradient id="r219" gradientUnits="userSpaceOnUse" x1="143.04" x2="1063.91" y1="0" y2="0"><stop offset="0" stop-color="#F8766D"/><stop offset=".6141" stop-color="#F8766D"/><stop offset=".6141" stop-color="#00BA38"/><stop offset=".6971" stop-color="#00BA38"/><stop offset=".6971" stop-color="#619CFF"/><stop offset="1" stop-color="#619CFF"/></linearGradient>
<linearGradient id="r220" gradientUnits="userSpaceOnUse" x1="143.04" x2="1063.91" y1="0" y2="0"><stop offset="0" stop-color="#F8766D"/><stop offset=".6141" stop-color="#F8766D"/><stop offset=".6141" stop-color="#00BA38"/><stop offset=".7012" stop-color="#00BA38"/><stop offset=".7012" stop-color="#619CFF"/><stop offset="1" stop-color="#619CFF"/></linearGradient>
<linearGradient id="r221" gradientUnits="userSpaceOnUse" x1="143.04" x2="1063.91" y1="0" y2="0"><stop offset="0" stop-color="#F8766D"/><stop offset=".6183" stop-color="#F8766D"/><stop offset=".6183" stop-color="#00BA38"/><stop offset=".7054" stop-color="#00BA38"/><stop offset=".7054" stop-color="#619CFF"/><stop offset="1" stop-color="#619CFF"/></linearGradient>
<linearGradient id="r222" gradientUnits="userSpaceOnUse" x1="143.04" x2="1063.91" y1="0" y2="0"><stop offset="0" stop-color="#F8766D"/><stop offset=".6183" stop-color="#F8766D"/><stop offset=".6183" stop-color="#00BA38"/><stop offset=".7054" stop-color="#00BA38"/><stop offset=".7054" stop-color="#619CFF"/><stop offset="1" stop-color="#619CFF"/></linearGradient>
<linearGradient id="r223" gradientUnits="userSpaceOnUse" x1="143.04" x2="1063.91" y1="0" y2="0"><stop offset="0" stop-color="#F8766D"/><stop offset=".6224" stop-color="#F8766D"/><stop offset=".6224" stop-color="#00BA38"/><stop offset=".7095" stop-color="#00BA38"/><stop offset=".7095" stop-color="#619CFF"/><stop offset="1" stop-color="#619CFF"/></linearGradient>
<linearGradient id="r224" gradientUnits="userSpaceOnUse" x1="143.04" x2="1063.91" y1="0" y2="0"><stop offset="0" stop-color="#F8766D"/><stop offset=".6224" stop-color="#F8766D"/><stop offset=".6224" stop-color="#00BA38"/><stop offset=".7137" stop-color="#00BA38"/><stop offset=".7137" stop-color="#619CFF"/><stop offset="1" stop-color="#619CFF"/></linearGradient>
<linearGradient id="r225" gradientUnits="userSpaceOnUse" x1="143.04" x2="1063.91" y1="0" y2="0"><stop offset="0" stop-color="#F8766D"/><stop offset=".6266" stop-color="#F8766D"/><stop offset=".6266" stop-color="#00BA38"/><stop offset=".7178" stop-color="#00BA38"/><stop offset=".7178" stop-color="#619CFF"/><stop offset="1" stop-color="#619CFF"/></linearGradient>
<linearGradient id="r226" gradientUnits="userSpaceOnUse" x1="143.04" x2="1063.91" y1="0" y2="0"><stop offset="0" stop-color="#F8766D"/><stop offset=".6266" stop-color="#F8766D"/><stop offset=".6266" stop-color="#00BA38"/><stop offset=".722" stop-color="#00BA38"/><stop offset=".722" stop-color="#619CFF"/><stop offset="1" stop-color="#619CFF"/></linearGradient>
<linearGradient id="r227" gradientUnits="userSpaceOnUse" x1="143.04" x2="1063.91" y1="0" y2="0"><stop offset="0" stop-color="#F8766D"/><stop offset=".6266" stop-color="#F8766D"/><stop offset=".6266" stop-color="#00BA38"/><stop offset=".7261" stop-color="#00BA38"/><stop offset=".7261" stop-color="#619CFF"/><stop offset="1" stop-color="#619CFF"/></linearGradient>
<linearGradient id="r228" gradientUnits="userSpaceOnUse" x1="143.04" x2="1063.91" y1="0" y2="0"><stop offset="0" stop-color="#F8766D"/><stop offset=".6307" stop-color="#F8766D"/><stop offset=".6307" stop-color="#00BA38"/><stop offset=".7261" stop-color="#00BA38"/><stop offset=".7261" stop-color="#619CFF"/><stop offset="1" stop-color="#619CFF"/></linearGradient>
<linearGradient id="r229" gradientUnits="userSpaceOnUse" x1="143.04" x2="1063.91" y1="0" y2="0"><stop offset="0" stop-color="#F8766D"/><stop offset=".6307" stop-color="#F8766D"/><stop offset=".6307" stop-color="#00BA38"/><stop offset=".7303" stop-color="#00BA38"/><stop offset=".7303" stop-color="#619CFF"/><stop offset="1" stop-color="#619CFF"/></linearGradient>
<linearGradient id="r230" gradientUnits="userSpaceOnUse" x1="143.04" x2="1063.91" y1="0" y2="0"><stop offset="0" stop-color="#F8766D"/><stop offset=".6349" stop-color="#F8766D"/><stop offset=".6349" stop-color="#00BA38"/><stop offset=".7344" stop-color="#00BA38"/><stop offset=".7344" stop-color="#619CFF"/><stop offset="1" stop-color="#619CFF"/></linearGradient>
<linearGradient id="r231" gradientUnits="userSpaceOnUse" x1="143.04" x2="1063.91" y1="0" y2="0"><stop offset="0" stop-color="#F8766D"/><stop offset=".6349" stop-color="#F8766D"/><stop offset=".6349" stop-color="#00BA38"/><stop offset=".7386" stop-color="#00BA38"/><stop offset=".7386" stop-color="#619CFF"/><stop offset="1" stop-color="#619CFF"/></linearGradient>
<linearGradient id="r232" gradientUnits="userSpaceOnUse" x1="143.04" x2="1063.91" y1="0" y2="0"><stop offset="0" stop-color="#F8766D"/><stop offset=".639" stop-color="#F8766D"/><stop offset=".639" stop-color="#00BA38"/><stop offset=".7427" stop-color="#00BA38"/><stop offset=".7427" stop-color="#619CFF"/><stop offset="1" stop-color="#619CFF"/></linearGradient>
<linearGradient id="r233" gradientUnits="userSpaceOnUse" x1="143.04" x2="1063.91" y1="0" y2="0"><stop offset="0" stop-color="#F8766D"/><stop offset=".639" stop-color="#F8766D"/><stop offset=".639" stop-color="#00BA38"/><stop offset=".7469" stop-color="#00BA38"/><stop offset=".7469" stop-color="#619CFF"/><stop offset="1" stop-color="#619CFF"/></linearGradient>
<linearGradient id="r234" gradientUnits="userSpaceOnUse" x1="143.04" x2="1063.91" y1="0" y2="0"><stop offset="0" stop-color="#F8766D"/><stop offset=".6432" stop-color="#F8766D"/><stop offset=".6432" stop-color="#00BA38"/><stop offset=".751" stop-color="#00BA38"/><stop offset=".751" stop-color="#619CFF"/><stop offset="1" stop-color="#619CFF"/></linearGradient>
<linearGradient id="r235" gradientUnits="userSpaceOnUse" x1="143.04" x2="1063.91" y1="0" y2="0"><stop offset="0" stop-color="#F8766D"/><stop offset=".6432" stop-color="#F8766D"/><stop offset=".6432" stop-color="#00BA38"/><stop offset=".7552" stop-color="#00BA38"/><stop offset=".7552" stop-color="#619CFF"/><stop offset="1" stop-color="#619CFF"/></linearGradient>
<linearGradient id="r236" gradientUnits="userSpaceOnUse" x1="143.04" x2="1063.91" y1="0" y2="0"><stop offset="0" stop-color="#F8766D"/><stop offset=".6473" stop-color="#F8766D"/><stop offset=".6473" stop-color="#00BA38"/><stop offset=".7593" stop-color="#00BA38"/><stop offset=".7593" stop-color="#619CFF"/><stop offset="1" stop-color="#619CFF"/></linearGradient>
<linearGradient id="r237" gradientUnits="userSpaceOnUse" x1="143.04" x2="1063.91" y1="0" y2="0"><stop offset="0" stop-color="#F8766D"/><stop offset=".6473" stop-color="#F8766D"/><stop offset=".6473" stop-color="#00BA38"/><stop offset=".7593" stop-color="#00BA38"/><stop offset=".7593" stop-color="#619CFF"/><stop offset="1" stop-color="#619CFF"/></linearGradient>
<linearGradient id="r238" gradientUnits="userSpaceOnUse" x1="143.04" x2="1063.91" y1="0" y2="0"><stop offset="0" stop-color="#F8766D"/><stop offset=".6515" stop-color="#F8766D"/><stop offset=".6515" stop-color="#00BA38"/><stop offset=".7635" stop-color="#00BA38"/><stop offset=".7635" stop-color="#619CFF"/><stop offset="1" stop-color="#619CFF"/></linearGradient>
<linearGradient id="r239" gradientUnits="userSpaceOnUse" x1="143.04" x2="1063.91" y1="0" y2="0"><stop offset="0" stop-color="#F8766D"/><stop offset=".6515" stop-color="#F8766D"/><stop offset=".6515" stop-color="#00BA38"/><stop offset=".7676" stop-color="#00BA38"/><stop offset=".7676" stop-color="#619CFF"/><stop offset="1" stop-color="#619CFF"/></linearGradient>
<linearGradient id="r240" gradientUnits="userSpaceOnUse" x1="143.04" x2="1063.91" y1="0" y2="0"><stop offset="0" stop-color="#F8766D"/><stop offset=".6556" stop-color="#F8766D"/><stop offset=".6556" stop-color="#00BA38"/><stop offset=".7718" stop-color="#00BA38"/><stop offset=".7718" stop-color="#619CFF"/><stop offset="1" stop-color="#619CFF"/></linearGradient>
<clipPath id="pc"><rect x="97.00" y="106.90" width="1012.95" height="767.05"/></clipPath>
</defs>
<rect width="1344" height="960" fill="#fff"/>
<text x="98.2" y="40.6" font-size="35.2" textLength="426" lengthAdjust="spacingAndGlyphs">ANN 2nd try (100 neurons)</text>
<text x="97.4" y="84.4" font-size="29.33" textLength="299" lengthAdjust="spacingAndGlyphs">Training accuracy: 0.85</text>
<rect x="97.00" y="106.90" width="1012.95" height="767.05" fill="#EBEBEB"/>
<g stroke="#fff" clip-path="url(#pc)"><line x1="195.90" x2="195.90" y1="106.90" y2="873.95" stroke-width="1.42"/><line x1="450.63" x2="450.63" y1="106.90" y2="873.95" stroke-width="1.42"/><line x1="705.37" x2="705.37" y1="106.90" y2="873.95" stroke-width="1.42"/><line x1="960.10" x2="960.10" y1="106.90" y2="873.95" stroke-width="1.42"/><line x1="97.00" x2="1109.95" y1="765.30" y2="765.30" stroke-width="1.42"/><line x1="97.00" x2="1109.95" y1="620.63" y2="620.63" stroke-width="1.42"/><line x1="97.00" x2="1109.95" y1="475.96" y2="475.96" stroke-width="1.42"/><line x1="97.00" x2="1109.95" y1="331.29" y2="331.29" stroke-width="1.42"/><line x1="97.00" x2="1109.95" y1="186.61" y2="186.61" stroke-width="1.42"/><line x1="323.27" x2="323.27" y1="106.90" y2="873.95" stroke-width="2.84"/><line x1="578.00" x2="578.00" y1="106.90" y2="873.95" stroke-width="2.84"/><line x1="832.74" x2="832.74" y1="106.90" y2="873.95" stroke-width="2.84"/><line x1="1087.47" x2="1087.47" y1="106.90" y2="873.95" stroke-width="2.84"/><line x1="97.00" x2="1109.95" y1="837.64" y2="837.64" stroke-width="2.84"/><line x1="97.00" x2="1109.95" y1="692.97" y2="692.97" stroke-width="2.84"/><line x1="97.00" x2="1109.95" y1="548.29" y2="548.29" stroke-width="2.84"/><line x1="97.00" x2="1109.95" y1="403.62" y2="403.62" stroke-width="2.84"/><line x1="97.00" x2="1109.95" y1="258.95" y2="258.95" stroke-width="2.84"/><line x1="97.00" x2="1109.95" y1="114.28" y2="114.28" stroke-width="2.84"/></g>
<g shape-rendering="crispEdges">
<rect x="143.04" y="836.19" width="920.86" height="2.89" fill="url(#r0)"/>
<rect x="143.04" y="833.30" width="920.86" height="2.89" fill="url(#r1)"/>
<rect x="143.04" y="830.40" width="920.86" height="2.89" fill="url(#r2)"/>
<rect x="143.04" y="827.51" width="920.86" height="2.89" fill="url(#r3)"/>
<rect x="143.04" y="824.62" width="920.86" height="2.89" fill="url(#r4)"/>
<rect x="143.04" y="821.72" width="920.86" height="2.89" fill="url(#r5)"/>
<rect x="143.04" y="818.83" width="920.86" height="2.89" fill="url(#r6)"/>
<rect x="143.04" y="815.94" width="920.86" height="2.89" fill="url(#r7)"/>
<rect x="143.04" y="813.04" width="920.86" height="2.89" fill="url(#r8)"/>
<rect x="143.04" y="810.15" width="920.86" height="2.89" fill="url(#r9)"/>
<rect x="143.04" y="807.26" width="920.86" height="2.89" fill="url(#r10)"/>
<rect x="143.04" y="804.36" width="920.86" height="2.89" fill="url(#r11)"/>
<rect x="143.04" y="801.47" width="920.86" height="2.89" fill="url(#r12)"/>
<rect x="143.04" y="798.58" width="920.86" height="2.89" fill="url(#r13)"/>
<rect x="143.04" y="795.68" width="920.86" height="2.89" fill="url(#r14)"/>
<rect x="143.04" y="792.79" width="920.86" height="2.89" fill="url(#r15)"/>
<rect x="143.04" y="789.90" width="920.86" height="2.89" fill="url(#r16)"/>
<rect x="143.04" y="787.00" width="920.86" height="2.89" fill="url(#r17)"/>
<rect x="143.04" y="784.11" width="920.86" height="2.89" fill="url(#r18)"/>
<rect x="143.04" y="781.22" width="920.86" height="2.89" fill="url(#r19)"/>
<rect x="143.04" y="778.32" width="920.86" height="2.89" fill="url(#r20)"/>
<rect x="143.04" y="775.43" width="920.86" height="2.89" fill="url(#r21)"/>
<rect x="143.04" y="772.54" width="920.86" height="2.89" fill="url(#r22)"/>
<rect x="143.04" y="769.64" width="920.86" height="2.89" fill="url(#r23)"/>
<rect x="143.04" y="766.75" width="920.86" height="2.89" fill="url(#r24)"/>
<rect x="143.04" y="763.85" width="920.86" height="2.89" fill="url(#r25)"/>
<rect x="143.04" y="760.96" width="920.86" height="2.89" fill="url(#r26)"/>
<rect x="143.04" y="758.07" width="920.86" height="2.89" fill="url(#r27)"/>
<rect x="143.04" y="755.17" width="920.86" height="2.89" fill="url(#r28)"/>
<rect x="143.04" y="752.28" width="920.86" height="2.89" fill="url(#r29)"/>
<rect x="143.04" y="749.39" width="920.86" height="2.89" fill="url(#r30)"/>
<rect x="143.04" y="746.49" width="920.86" height="2.89" fill="url(#r31)"/>
<rect x="143.04" y="743.60" width="920.86" height="2.89" fill="url(#r32)"/>
<rect x="143.04" y="740.71" width="920.86" height="2.89" fill="url(#r33)"/>
<rect x="143.04" y="737.81" width="920.86" height="2.89" fill="url(#r34)"/>
<rect x="143.04" y="734.92" width="920.86" height="2.89" fill="url(#r35)"/>
<rect x="143.04" y="732.03" width="920.86" height="2.89" fill="url(#r36)"/>
<rect x="143.04" y="729.13" width="920.86" height="2.89" fill="url(#r37)"/>
<rect x="143.04" y="726.24" width="920.86" height="2.89" fill="url(#r38)"/>
<rect x="143.04" y="723.35" width="920.86" height="2.89" fill="url(#r39)"/>
<rect x="143.04" y="720.45" width="920.86" height="2.89" fill="url(#r40)"/>
<rect x="143.04" y="717.56" width="920.86" height="2.89" fill="url(#r41)"/>
<rect x="143.04" y="714.67" width="920.86" height="2.89" fill="url(#r42)"/>
<rect x="143.04" y="711.77" width="920.86" height="2.89" fill="url(#r43)"/>
<rect x="143.04" y="708.88" width="920.86" height="2.89" fill="url(#r44)"/>
<rect x="143.04" y="705.99" width="920.86" height="2.89" fill="url(#r45)"/>
<rect x="143.04" y="703.09" width="920.86" height="2.89" fill="url(#r46)"/>
<rect x="143.04" y="700.20" width="920.86" height="2.89" fill="url(#r47)"/>
<rect x="143.04" y="697.31" width="920.86" height="2.89" fill="url(#r48)"/>
<rect x="143.04" y="694.41" width="920.86" height="2.89" fill="url(#r49)"/>
<rect x="143.04" y="691.52" width="920.86" height="2.89" fill="url(#r50)"/>
<rect x="143.04" y="688.63" width="920.86" height="2.89" fill="url(#r51)"/>
<rect x="143.04" y="685.73" width="920.86" height="2.89" fill="url(#r52)"/>
<rect x="143.04" y="682.84" width="920.86" height="2.89" fill="url(#r53)"/>
<rect x="143.04" y="679.95" width="920.86" height="2.89" fill="url(#r54)"/>
<rect x="143.04" y="677.05" width="920.86" height="2.89" fill="url(#r55)"/>
<rect x="143.04" y="674.16" width="920.86" height="2.89" fill="url(#r56)"/>
<rect x="143.04" y="671.26" width="920.86" height="2.89" fill="url(#r57)"/>
<rect x="143.04" y="668.37" width="920.86" height="2.89" fill="url(#r58)"/>
<rect x="143.04" y="665.48" width="920.86" height="2.89" fill="url(#r59)"/>
<rect x="143.04" y="662.58" width="920.86" height="2.89" fill="url(#r60)"/>
<rect x="143.04" y="659.69" width="920.86" height="2.89" fill="url(#r61)"/>
<rect x="143.04" y="656.80" width="920.86" height="2.89" fill="url(#r62)"/>
<rect x="143.04" y="653.90" width="920.86" height="2.89" fill="url(#r63)"/>
<rect x="143.04" y="651.01" width="920.86" height="2.89" fill="url(#r64)"/>
<rect x="143.04" y="648.12" width="920.86" height="2.89" fill="url(#r65)"/>
<rect x="143.04" y="645.22" width="920.86" height="2.89" fill="url(#r66)"/>
<rect x="143.04" y="642.33" width="920.86" height="2.89" fill="url(#r67)"/>
<rect x="143.04" y="639.44" width="920.86" height="2.89" fill="url(#r68)"/>
<rect x="143.04" y="636.54" width="920.86" height="2.89" fill="url(#r69)"/>
<rect x="143.04" y="633.65" width="920.86" height="2.89" fill="url(#r70)"/>
<rect x="143.04" y="630.76" width="920.86" height="2.89" fill="url(#r71)"/>
<rect x="143.04" y="627.86" width="920.86" height="2.89" fill="url(#r72)"/>
<rect x="143.04" y="624.97" width="920.86" height="2.89" fill="url(#r73)"/>
<rect x="143.04" y="622.08" width="920.86" height="2.89" fill="url(#r74)"/>
<rect x="143.04" y="619.18" width="920.86" height="2.89" fill="url(#r75)"/>
<rect x="143.04" y="616.29" width="920.86" height="2.89" fill="url(#r76)"/>
<rect x="143.04" y="613.40" width="920.86" height="2.89" fill="url(#r77)"/>
<rect x="143.04" y="610.50" width="920.86" height="2.89" fill="url(#r78)"/>
<rect x="143.04" y="607.61" width="920.86" height="2.89" fill="url(#r79)"/>
<rect x="143.04" y="604.72" width="920.86" height="2.89" fill="url(#r80)"/>
<rect x="143.04" y="601.82" width="920.86" height="2.89" fill="url(#r81)"/>
<rect x="143.04" y="598.93" width="920.86" height="2.89" fill="url(#r82)"/>
<rect x="143.04" y="596.04" width="920.86" height="2.89" fill="url(#r83)"/>
<rect x="143.04" y="593.14" width="920.86" height="2.89" fill="url(#r84)"/>
<rect x="143.04" y="590.25" width="920.86" height="2.89" fill="url(#r85)"/>
<rect x="143.04" y="587.36" width="920.86" height="2.89" fill="url(#r86)"/>
<rect x="143.04" y="584.46" width="920.86" height="2.89" fill="url(#r87)"/>
<rect x="143.04" y="581.57" width="920.86" height="2.89" fill="url(#r88)"/>
<rect x="143.04" y="578.67" width="920.86" height="2.89" fill="url(#r89)"/>
<rect x="143.04" y="575.78" width="920.86" height="2.89" fill="url(#r90)"/>
<rect x="143.04" y="572.89" width="920.86" height="2.89" fill="url(#r91)"/>
<rect x="143.04" y="569.99" width="920.86" height="2.89" fill="url(#r92)"/>
<rect x="143.04" y="567.10" width="920.86" height="2.89" fill="url(#r93)"/>
<rect x="143.04" y="564.21" width="920.86" height="2.89" fill="url(#r94)"/>
<rect x="143.04" y="561.31" width="920.86" height="2.89" fill="url(#r95)"/>
<rect x="143.04" y="558.42" width="920.86" height="2.89" fill="url(#r96)"/>
<rect x="143.04" y="555.53" width="920.86" height="2.89" fill="url(#r97)"/>
<rect x="143.04" y="552.63" width="920.86" height="2.89" fill="url(#r98)"/>
<rect x="143.04" y="549.74" width="920.86" height="2.89" fill="url(#r99)"/>
<rect x="143.04" y="546.85" width="920.86" height="2.89" fill="url(#r100)"/>
<rect x="143.04" y="543.95" width="920.86" height="2.89" fill="url(#r101)"/>
<rect x="143.04" y="541.06" width="920.86" height="2.89" fill="url(#r102)"/>
<rect x="143.04" y="538.17" width="920.86" height="2.89" fill="url(#r103)"/>
<rect x="143.04" y="535.27" width="920.86" height="2.89" fill="url(#r104)"/>
<rect x="143.04" y="532.38" width="920.86" height="2.89" fill="url(#r105)"/>
<rect x="143.04" y="529.49" width="920.86" height="2.89" fill="url(#r106)"/>
<rect x="143.04" y="526.59" width="920.86" height="2.89" fill="url(#r107)"/>
<rect x="143.04" y="523.70" width="920.86" height="2.89" fill="url(#r108)"/>
<rect x="143.04" y="520.81" width="920.86" height="2.89" fill="url(#r109)"/>
<rect x="143.04" y="517.91" width="920.86" height="2.89" fill="url(#r110)"/>
<rect x="143.04" y="515.02" width="920.86" height="2.89" fill="url(#r111)"/>
<rect x="143.04" y="512.13" width="920.86" height="2.89" fill="url(#r112)"/>
<rect x="143.04" y="509.23" width="920.86" height="2.89" fill="url(#r113)"/>
<rect x="143.04" y="506.34" width="920.86" height="2.89" fill="url(#r114)"/>
<rect x="143.04" y="503.45" width="920.86" height="2.89" fill="url(#r115)"/>
<rect x="143.04" y="500.55" width="920.86" height="2.89" fill="url(#r116)"/>
<rect x="143.04" y="497.66" width="920.86" height="2.89" fill="url(#r117)"/>
<rect x="143.04" y="494.77" width="920.86" height="2.89" fill="url(#r118)"/>
<rect x="143.04" y="491.87" width="920.86" height="2.89" fill="url(#r119)"/>
<rect x="143.04" y="488.98" width="920.86" height="2.89" fill="url(#r120)"/>
<rect x="143.04" y="486.08" width="920.86" height="2.89" fill="url(#r121)"/>
<rect x="143.04" y="483.19" width="920.86" height="2.89" fill="url(#r122)"/>
<rect x="143.04" y="480.30" width="920.86" height="2.89" fill="url(#r123)"/>
<rect x="143.04" y="477.40" width="920.86" height="2.89" fill="url(#r124)"/>
<rect x="143.04" y="474.51" width="920.86" height="2.89" fill="url(#r125)"/>
<rect x="143.04" y="471.62" width="920.86" height="2.89" fill="url(#r126)"/>
<rect x="143.04" y="468.72" width="920.86" height="2.89" fill="url(#r127)"/>
<rect x="143.04" y="465.83" width="920.86" height="2.89" fill="url(#r128)"/>
<rect x="143.04" y="462.94" width="920.86" height="2.89" fill="url(#r129)"/>
<rect x="143.04" y="460.04" width="920.86" height="2.89" fill="url(#r130)"/>
<rect x="143.04" y="457.15" width="920.86" height="2.89" fill="url(#r131)"/>
<rect x="143.04" y="454.26" width="920.86" height="2.89" fill="url(#r132)"/>
<rect x="143.04" y="451.36" width="920.86" height="2.89" fill="url(#r133)"/>
<rect x="143.04" y="448.47" width="920.86" height="2.89" fill="url(#r134)"/>
<rect x="143.04" y="445.58" width="920.86" height="2.89" fill="url(#r135)"/>
<rect x="143.04" y="442.68" width="920.86" height="2.89" fill="url(#r136)"/>
<rect x="143.04" y="439.79" width="920.86" height="2.89" fill="url(#r137)"/>
<rect x="143.04" y="436.90" width="920.86" height="2.89" fill="url(#r138)"/>
<rect x="143.04" y="434.00" width="920.86" height="2.89" fill="url(#r139)"/>
<rect x="143.04" y="431.11" width="920.86" height="2.89" fill="url(#r140)"/>
<rect x="143.04" y="428.22" width="920.86" height="2.89" fill="url(#r141)"/>
<rect x="143.04" y="425.32" width="920.86" height="2.89" fill="url(#r142)"/>
<rect x="143.04" y="422.43" width="920.86" height="2.89" fill="url(#r143)"/>
<rect x="143.04" y="419.54" width="920.86" height="2.89" fill="url(#r144)"/>
<rect x="143.04" y="416.64" width="920.86" height="2.89" fill="url(#r145)"/>
<rect x="143.04" y="413.75" width="920.86" height="2.89" fill="url(#r146)"/>
<rect x="143.04" y="410.86" width="920.86" height="2.89" fill="url(#r147)"/>
<rect x="143.04" y="407.96" width="920.86" height="2.89" fill="url(#r148)"/>
<rect x="143.04" y="405.07" width="920.86" height="2.89" fill="url(#r149)"/>
<rect x="143.04" y="402.18" width="920.86" height="2.89" fill="url(#r150)"/>
<rect x="143.04" y="399.28" width="920.86" height="2.89" fill="url(#r151)"/>
<rect x="143.04" y="396.39" width="920.86" height="2.89" fill="url(#r152)"/>
<rect x="143.04" y="393.49" width="920.86" height="2.89" fill="url(#r153)"/>
<rect x="143.04" y="390.60" width="920.86" height="2.89" fill="url(#r154)"/>
<rect x="143.04" y="387.71" width="920.86" height="2.89" fill="url(#r155)"/>
<rect x="143.04" y="384.81" width="920.86" height="2.89" fill="url(#r156)"/>
<rect x="143.04" y="381.92" width="920.86" height="2.89" fill="url(#r157)"/>
<rect x="143.04" y="379.03" width="920.86" height="2.89" fill="url(#r158)"/>
<rect x="143.04" y="376.13" width="920.86" height="2.89" fill="url(#r159)"/>
<rect x="143.04" y="373.24" width="920.86" height="2.89" fill="url(#r160)"/>
<rect x="143.04" y="370.35" width="920.86" height="2.89" fill="url(#r161)"/>
<rect x="143.04" y="367.45" width="920.86" height="2.89" fill="url(#r162)"/>
<rect x="143.04" y="364.56" width="920.86" height="2.89" fill="url(#r163)"/>
<rect x="143.04" y="361.67" width="920.86" height="2.89" fill="url(#r164)"/>
<rect x="143.04" y="358.77" width="920.86" height="2.89" fill="url(#r165)"/>
<rect x="143.04" y="355.88" width="920.86" height="2.89" fill="url(#r166)"/>
<rect x="143.04" y="352.99" width="920.86" height="2.89" fill="url(#r167)"/>
<rect x="143.04" y="350.09" width="920.86" height="2.89" fill="url(#r168)"/>
<rect x="143.04" y="347.20" width="920.86" height="2.89" fill="url(#r169)"/>
<rect x="143.04" y="344.31" width="920.86" height="2.89" fill="url(#r170)"/>
<rect x="143.04" y="341.41" width="920.86" height="2.89" fill="url(#r171)"/>
<rect x="143.04" y="338.52" width="920.86" height="2.89" fill="url(#r172)"/>
<rect x="143.04" y="335.63" width="920.86" height="2.89" fill="url(#r173)"/>
<rect x="143.04" y="332.73" width="920.86" height="2.89" fill="url(#r174)"/>
<rect x="143.04" y="329.84" width="920.86" height="2.89" fill="url(#r175)"/>
<rect x="143.04" y="326.95" width="920.86" height="2.89" fill="url(#r176)"/>
<rect x="143.04" y="324.05" width="920.86" height="2.89" fill="url(#r177)"/>
<rect x="143.04" y="321.16" width="920.86" height="2.89" fill="url(#r178)"/>
<rect x="143.04" y="318.27" width="920.86" height="2.89" fill="url(#r179)"/>
<rect x="143.04" y="315.37" width="920.86" height="2.89" fill="url(#r180)"/>
<rect x="143.04" y="312.48" width="920.86" height="2.89" fill="url(#r181)"/>
<rect x="143.04" y="309.59" width="920.86" height="2.89" fill="url(#r182)"/>
<rect x="143.04" y="306.69" width="920.86" height="2.89" fill="url(#r183)"/>
<rect x="143.04" y="303.80" width="920.86" height="2.89" fill="url(#r184)"/>
<rect x="143.04" y="300.90" width="920.86" height="2.89" fill="url(#r185)"/>
<rect x="143.04" y="298.01" width="920.86" height="2.89" fill="url(#r186)"/>
<rect x="143.04" y="295.12" width="920.86" height="2.89" fill="url(#r187)"/>
<rect x="143.04" y="292.22" width="920.86" height="2.89" fill="url(#r188)"/>
<rect x="143.04" y="289.33" width="920.86" height="2.89" fill="url(#r189)"/>
<rect x="143.04" y="286.44" width="920.86" height="2.89" fill="url(#r190)"/>
<rect x="143.04" y="283.54" width="920.86" height="2.89" fill="url(#r191)"/>
<rect x="143.04" y="280.65" width="920.86" height="2.89" fill="url(#r192)"/>
<rect x="143.04" y="277.76" width="920.86" height="2.89" fill="url(#r193)"/>
<rect x="143.04" y="274.86" width="920.86" height="2.89" fill="url(#r194)"/>
<rect x="143.04" y="271.97" width="920.86" height="2.89" fill="url(#r195)"/>
<rect x="143.04" y="269.08" width="920.86" height="2.89" fill="url(#r196)"/>
<rect x="143.04" y="266.18" width="920.86" height="2.89" fill="url(#r197)"/>
<rect x="143.04" y="263.29" width="920.86" height="2.89" fill="url(#r198)"/>
<rect x="143.04" y="260.40" width="920.86" height="2.89" fill="url(#r199)"/>
<rect x="143.04" y="257.50" width="920.86" height="2.89" fill="url(#r200)"/>
<rect x="143.04" y="254.61" width="920.86" height="2.89" fill="url(#r201)"/>
<rect x="143.04" y="251.72" width="920.86" height="2.89" fill="url(#r202)"/>
<rect x="143.04" y="248.82" width="920.86" height="2.89" fill="url(#r203)"/>
<rect x="143.04" y="245.93" width="920.86" height="2.89" fill="url(#r204)"/>
<rect x="143.04" y="243.04" width="920.86" height="2.89" fill="url(#r205)"/>
<rect x="143.04" y="240.14" width="920.86" height="2.89" fill="url(#r206)"/>
<rect x="143.04" y="237.25" width="920.86" height="2.89" fill="url(#r207)"/>
<rect x="143.04" y="234.36" width="920.86" height="2.89" fill="url(#r208)"/>
<rect x="143.04" y="231.46" width="920.86" height="2.89" fill="url(#r209)"/>
<rect x="143.04" y="228.57" width="920.86" height="2.89" fill="url(#r210)"/>
<rect x="143.04" y="225.68" width="920.86" height="2.89" fill="url(#r211)"/>
<rect x="143.04" y="222.78" width="920.86" height="2.89" fill="url(#r212)"/>
<rect x="143.04" y="219.89" width="920.86" height="2.89" fill="url(#r213)"/>
<rect x="143.04" y="217.00" width="920.86" height="2.89" fill="url(#r214)"/>
<rect x="143.04" y="214.10" width="920.86" height="2.89" fill="url(#r215)"/>
<rect x="143.04" y="211.21" width="920.86" height="2.89" fill="url(#r216)"/>
<rect x="143.04" y="208.31" width="920.86" height="2.89" fill="url(#r217)"/>
<rect x="143.04" y="205.42" width="920.86" height="2.89" fill="url(#r218)"/>
<rect x="143.04" y="202.53" width="920.86" height="2.89" fill="url(#r219)"/>
<rect x="143.04" y="199.63" width="920.86" height="2.89" fill="url(#r220)"/>
<rect x="143.04" y="196.74" width="920.86" height="2.89" fill="url(#r221)"/>
<rect x="143.04" y="193.85" width="920.86" height="2.89" fill="url(#r222)"/>
<rect x="143.04" y="190.95" width="920.86" height="2.89" fill="url(#r223)"/>
<rect x="143.04" y="188.06" width="920.86" height="2.89" fill="url(#r224)"/>
<rect x="143.04" y="185.17" width="920.86" height="2.89" fill="url(#r225)"/>
<rect x="143.04" y="182.27" width="920.86" height="2.89" fill="url(#r226)"/>
<rect x="143.04" y="179.38" width="920.86" height="2.89" fill="url(#r227)"/>
<rect x="143.04" y="176.49" width="920.86" height="2.89" fill="url(#r228)"/>
<rect x="143.04" y="173.59" width="920.86" height="2.89" fill="url(#r229)"/>
<rect x="143.04" y="170.70" width="920.86" height="2.89" fill="url(#r230)"/>
<rect x="143.04" y="167.81" width="920.86" height="2.89" fill="url(#r231)"/>
<rect x="143.04" y="164.91" width="920.86" height="2.89" fill="url(#r232)"/>
<rect x="143.04" y="162.02" width="920.86" height="2.89" fill="url(#r233)"/>
<rect x="143.04" y="159.13" width="920.86" height="2.89" fill="url(#r234)"/>
<rect x="143.04" y="156.23" width="920.86" height="2.89" fill="url(#r235)"/>
<rect x="143.04" y="153.34" width="920.86" height="2.89" fill="url(#r236)"/>
<rect x="143.04" y="150.45" width="920.86" height="2.89" fill="url(#r237)"/>
<rect x="143.04" y="147.55" width="920.86" height="2.89" fill="url(#r238)"/>
<rect x="143.04" y="144.66" width="920.86" height="2.89" fill="url(#r239)"/>
<rect x="143.04" y="141.77" width="920.86" height="2.89" fill="url(#r240)"/>
</g>
<g clip-path="url(#pc)"><path d="M853.8 143.2 851.8 144.7 849.9 146.1 848.0 147.6 846.1 149.0 844.2 150.4 842.3 151.9 842.3 154.8 840.4 156.2 838.5 157.7 836.6 159.1 834.6 160.6 832.7 162.0 830.8 163.5 828.9 164.9 827.0 166.4 825.1 167.8 823.2 169.3 821.3 170.7 819.4 172.1 817.5 173.6 815.5 175.0 813.6 176.5 811.7 177.9 811.7 180.8 809.8 182.3 807.9 183.7 806.0 185.2 804.1 186.6 802.2 188.1 800.3 189.5 798.3 191.0 796.4 192.4 794.5 193.8 792.6 195.3 792.6 198.2 790.7 199.6 788.8 201.1 786.9 202.5 785.0 204.0 783.1 205.4 781.2 206.9 779.2 208.3 777.3 209.8 777.3 212.7 775.4 214.1 773.5 215.5 771.6 217.0 769.7 218.4 767.8 219.9 765.9 221.3 764.0 222.8 762.0 224.2 760.1 225.7 758.2 227.1 756.3 228.6 754.4 230.0 752.5 231.5 750.6 232.9 750.6 235.8 748.7 237.2 746.8 238.7 744.9 240.1 742.9 241.6 741.0 243.0 739.1 244.5 737.2 245.9 735.3 247.4 735.3 250.3 733.4 251.7 731.5 253.2 729.6 254.6 727.7 256.1 725.7 257.5 723.8 259.0 721.9 260.4 720.0 261.8 718.1 263.3 716.2 264.7 714.3 266.2 712.4 267.6 710.5 269.1 708.6 270.5 708.6 273.4 706.6 274.9 704.7 276.3 702.8 277.8 700.9 279.2 699.0 280.7 697.1 282.1 695.2 283.5 693.3 285.0 691.4 286.4 689.4 287.9 689.4 290.8 687.5 292.2 685.6 293.7 683.7 295.1 681.8 296.6 679.9 298.0 678.0 299.5 676.1 300.9 674.2 302.4 674.2 305.2 672.3 306.7 670.3 308.1 668.4 309.6 666.5 311.0 664.6 312.5 662.7 313.9 660.8 315.4 658.9 316.8 658.9 319.7 657.0 321.2 655.1 322.6 653.1 324.1 651.2 325.5 649.3 326.9 647.4 328.4 647.4 331.3 645.5 332.7 643.6 334.2 643.6 337.1 641.7 338.5 639.8 340.0 639.8 342.9 637.9 344.3 636.0 345.8 636.0 348.6 636.0 351.5 637.9 353.0 641.7 353.0 643.6 354.4 645.5 355.9 647.4 357.3 647.4 360.2 647.4 363.1 647.4 366.0 647.4 368.9 647.4 371.8 645.5 373.2 643.6 374.7 643.6 377.6 641.7 379.0 639.8 380.5 639.8 383.4 639.8 386.3 637.9 387.7 636.0 389.2 636.0 392.0 634.0 393.5 632.1 394.9 632.1 397.8 630.2 399.3 628.3 400.7 628.3 403.6 626.4 405.1 624.5 406.5 624.5 409.4 622.6 410.9 620.7 412.3 620.7 415.2 618.8 416.6 616.8 418.1 616.8 421.0 614.9 422.4 613.0 423.9 613.0 426.8 611.1 428.2 609.2 429.7 609.2 432.6 607.3 434.0 605.4 435.4 605.4 438.3 603.5 439.8 601.6 441.2 601.6 444.1 599.7 445.6 597.7 447.0 597.7 449.9 595.8 451.4 593.9 452.8 593.9 455.7 592.0 457.2 590.1 458.6 590.1 461.5 588.2 462.9 586.3 464.4 584.4 465.8 582.5 467.3 582.5 470.2 580.5 471.6 578.6 473.1 578.6 476.0 576.7 477.4 574.8 478.9 574.8 481.7 572.9 483.2 571.0 484.6 571.0 487.5 571.0 490.4 569.1 491.9 567.2 493.3 567.2 496.2 565.3 497.7 563.4 499.1 563.4 502.0 563.4 504.9 563.4 507.8 563.4 510.7 563.4 513.6 563.4 516.5 563.4 519.4 565.3 520.8 567.2 522.3 569.1 523.7 572.9 523.7 574.8 525.1 576.7 526.6 580.5 526.6 584.4 526.6 588.2 526.6 592.0 526.6 595.8 526.6 597.7 528.0 599.7 529.5 603.5 529.5 607.3 529.5 611.1 529.5 614.9 529.5 618.8 529.5 622.6 529.5 624.5 530.9 626.4 532.4 630.2 532.4 634.0 532.4 637.9 532.4 641.7 532.4 643.6 533.8 645.5 535.3 649.3 535.3 653.1 535.3 657.0 535.3 658.9 536.7 660.8 538.2 664.6 538.2 666.5 539.6 668.4 541.1 672.3 541.1 676.1 541.1 678.0 542.5 679.9 544.0 681.8 545.4 683.7 546.8 685.6 548.3 687.5 549.7 689.4 551.2 689.4 554.1 691.4 555.5 693.3 557.0 693.3 559.9 693.3 562.8 691.4 564.2 689.4 565.7 689.4 568.5 687.5 570.0 685.6 571.4 683.7 572.9 681.8 574.3 681.8 577.2 679.9 578.7 678.0 580.1 676.1 581.6 674.2 583.0 672.3 584.5 670.3 585.9 668.4 587.4 666.5 588.8 664.6 590.2 660.8 590.2 658.9 591.7 657.0 593.1 655.1 594.6 653.1 596.0 651.2 597.5 649.3 598.9 645.5 598.9 643.6 600.4 641.7 601.8 639.8 603.3 637.9 604.7 636.0 606.2 634.0 607.6 630.2 607.6 628.3 609.1 626.4 610.5 624.5 611.9 622.6 613.4 620.7 614.8 618.8 616.3 614.9 616.3 613.0 617.7 611.1 619.2 609.2 620.6 607.3 622.1 603.5 622.1 601.6 623.5 599.7 625.0 597.7 626.4 595.8 627.9 593.9 629.3 592.0 630.8 590.1 632.2 588.2 633.7 586.3 635.1 584.4 636.5 582.5 638.0 580.5 639.4 578.6 640.9 578.6 643.8 576.7 645.2 574.8 646.7 574.8 649.6 574.8 652.5 574.8 655.4 574.8 658.2 574.8 661.1 576.7 662.6 578.6 664.0 580.5 665.5 582.5 666.9 582.5 669.8 584.4 671.3 586.3 672.7 588.2 674.2 590.1 675.6 592.0 677.1 593.9 678.5 595.8 679.9 597.7 681.4 599.7 682.8 603.5 682.8 605.4 684.3 607.3 685.7 609.2 687.2 611.1 688.6 614.9 688.6 616.8 690.1 618.8 691.5 620.7 693.0 622.6 694.4 626.4 694.4 628.3 695.9 630.2 697.3 632.1 698.8 634.0 700.2 637.9 700.2 639.8 701.6 641.7 703.1 645.5 703.1 647.4 704.5 649.3 706.0 651.2 707.4 653.1 708.9 657.0 708.9 658.9 710.3 660.8 711.8 662.7 713.2 664.6 714.7 668.4 714.7 670.3 716.1 672.3 717.6 674.2 719.0 676.1 720.5 678.0 721.9 679.9 723.3 681.8 724.8 683.7 726.2 685.6 727.7 687.5 729.1 689.4 730.6 689.4 733.5 691.4 734.9 693.3 736.4 693.3 739.3 693.3 742.2 693.3 745.0 693.3 747.9 693.3 750.8 693.3 753.7 693.3 756.6 693.3 759.5 693.3 762.4 691.4 763.9 689.4 765.3 691.4 766.7 693.3 768.2 695.2 769.6 697.1 771.1 699.0 772.5 702.8 772.5 706.6 772.5 710.5 772.5 714.3 772.5 718.1 772.5 721.9 772.5 725.7 772.5 729.6 772.5 733.4 772.5 735.3 771.1 737.2 769.6 741.0 769.6 744.9 769.6 748.7 769.6 752.5 769.6 756.3 769.6 760.1 769.6 764.0 769.6 767.8 769.6 769.7 768.2 771.6 766.7 775.4 766.7 779.2 766.7 783.1 766.7 786.9 766.7 790.7 766.7 794.5 766.7 798.3 766.7 802.2 766.7 804.1 765.3 806.0 763.9 809.8 763.9 813.6 763.9 817.5 763.9 821.3 763.9 825.1 763.9 828.9 763.9 832.7 763.9 834.6 762.4 836.6 761.0 840.4 761.0 844.2 761.0 848.0 761.0 851.8 761.0 855.7 761.0 859.5 761.0 863.3 761.0 867.1 761.0 869.0 759.5 870.9 758.1 874.8 758.1 878.6 758.1 882.4 758.1 886.2 758.1 890.1 758.1 893.9 758.1 897.7 758.1 901.5 758.1 905.3 758.1 909.2 758.1 913.0 758.1 916.8 758.1 920.6 758.1 922.5 759.5 924.4 761.0 926.4 762.4 926.4 765.3 926.4 768.2 924.4 769.6 922.5 771.1 920.6 772.5 918.7 774.0 916.8 775.4 914.9 776.9 913.0 778.3 911.1 779.8 909.2 781.2 907.2 782.7 905.3 784.1 903.4 785.6 901.5 787.0 899.6 788.4 897.7 789.9 893.9 789.9 892.0 791.3 890.1 792.8 888.1 794.2 886.2 795.7 882.4 795.7 880.5 797.1 878.6 798.6 876.7 800.0 874.8 801.5 870.9 801.5 869.0 802.9 867.1 804.4 865.2 805.8 863.3 807.3 859.5 807.3 857.6 808.7 855.7 810.1 853.8 811.6 851.8 813.0 848.0 813.0 846.1 814.5 844.2 815.9 842.3 817.4 840.4 818.8 836.6 818.8 834.6 820.3 832.7 821.7 828.9 821.7 827.0 823.2 825.1 824.6 823.2 826.1 821.3 827.5 817.5 827.5 815.5 829.0 813.6 830.4 811.7 831.9 809.8 833.3 806.0 833.3 804.1 834.7 802.2 836.2 798.3 836.2 796.4 837.6" fill="none" stroke="#000" stroke-width="2.84" stroke-linejoin="miter" stroke-linecap="butt"/><path d="M210.6 837.6 212.5 836.2 214.4 834.7 214.4 831.9 214.4 829.0 216.3 827.5 218.2 826.1 218.2 823.2 218.2 820.3 220.1 818.8 222.0 817.4 222.0 814.5 223.9 813.0 225.9 811.6 225.9 808.7 227.8 807.3 229.7 805.8 229.7 802.9 231.6 801.5 233.5 800.0 233.5 797.1 233.5 794.2 235.4 792.8 237.3 791.3 237.3 788.4 239.2 787.0 241.1 785.6 241.1 782.7 243.0 781.2 245.0 779.8 245.0 776.9 245.0 774.0 246.9 772.5 248.8 771.1 248.8 768.2 250.7 766.7 252.6 765.3 252.6 762.4 254.5 761.0 256.4 759.5 256.4 756.6 258.3 755.2 260.2 753.7 260.2 750.8 260.2 747.9 262.2 746.5 264.1 745.0 264.1 742.2 266.0 740.7 267.9 739.3 267.9 736.4 269.8 734.9 271.7 733.5 271.7 730.6 273.6 729.1 275.5 727.7 275.5 724.8 277.4 723.3 279.3 721.9 279.3 719.0 279.3 716.1 281.3 714.7 283.2 713.2 283.2 710.3 285.1 708.9 287.0 707.4 287.0 704.5 288.9 703.1 290.8 701.6 290.8 698.8 292.7 697.3 294.6 695.9 294.6 693.0 296.5 691.5 298.5 690.1 298.5 687.2 300.4 685.7 302.3 684.3 302.3 681.4 304.2 679.9 306.1 678.5 306.1 675.6 308.0 674.2 309.9 672.7 309.9 669.8 311.8 668.4 313.7 666.9 313.7 664.0 315.6 662.6 317.6 661.1 317.6 658.2 319.5 656.8 321.4 655.4 323.3 653.9 325.2 652.5 325.2 649.6 327.1 648.1 329.0 646.7 329.0 643.8 330.9 642.3 332.8 640.9 334.8 639.4 336.7 638.0 336.7 635.1 338.6 633.7 340.5 632.2 342.4 630.8 344.3 629.3 344.3 626.4 346.2 625.0 348.1 623.5 350.0 622.1 351.9 620.6 351.9 617.7 353.9 616.3 355.8 614.8 357.7 613.4 359.6 611.9 359.6 609.1 361.5 607.6 363.4 606.2 365.3 604.7 367.2 603.3 367.2 600.4 369.1 598.9 371.1 597.5 373.0 596.0 374.9 594.6 374.9 591.7 376.8 590.2 378.7 588.8 380.6 587.4 382.5 585.9 382.5 583.0 384.4 581.6 386.3 580.1 388.2 578.7 390.2 577.2 390.2 574.3 392.1 572.9 394.0 571.4 395.9 570.0 397.8 568.5 397.8 565.7 399.7 564.2 401.6 562.8 403.5 561.3 405.4 559.9 407.4 558.4 409.3 557.0 409.3 554.1 411.2 552.6 413.1 551.2 413.1 548.3 415.0 546.8 416.9 545.4 418.8 544.0 420.7 542.5 422.6 541.1 424.5 539.6 424.5 536.7 426.5 535.3 428.4 533.8 430.3 532.4 432.2 530.9 434.1 529.5 436.0 528.0 436.0 525.1 437.9 523.7 439.8 522.3 441.7 520.8 443.7 519.4 445.6 517.9 447.5 516.5 447.5 513.6 449.4 512.1 451.3 510.7 453.2 509.2 455.1 507.8 457.0 506.3 458.9 504.9 458.9 502.0 460.8 500.6 462.8 499.1 464.7 497.7 466.6 496.2 468.5 494.8 470.4 493.3 470.4 490.4 472.3 489.0 474.2 487.5 476.1 486.1 478.0 484.6 480.0 483.2 481.9 481.7 481.9 478.9 483.8 477.4 485.7 476.0 487.6 474.5 489.5 473.1 491.4 471.6 493.3 470.2 495.2 468.7 497.1 467.3 497.1 464.4 499.1 462.9 501.0 461.5 502.9 460.0 504.8 458.6 506.7 457.2 508.6 455.7 508.6 452.8 510.5 451.4 512.4 449.9 514.3 448.5 516.3 447.0 518.2 445.6 520.1 444.1 520.1 441.2 522.0 439.8 523.9 438.3 525.8 436.9 527.7 435.4 529.6 434.0 531.5 432.6 531.5 429.7 533.4 428.2 535.4 426.8 537.3 425.3 539.2 423.9 541.1 422.4 543.0 421.0 544.9 419.5 546.8 418.1 546.8 415.2 548.7 413.7 550.6 412.3 552.6 410.9 554.5 409.4 556.4 408.0 558.3 406.5 558.3 403.6 560.2 402.2 562.1 400.7 564.0 399.3 565.9 397.8 567.8 396.4 569.7 394.9 569.7 392.0 571.7 390.6 573.6 389.2 575.5 387.7 577.4 386.3 577.4 383.4 579.3 381.9 581.2 380.5 583.1 379.0 585.0 377.6 586.9 376.1 588.9 374.7 588.9 371.8 590.8 370.3 592.7 368.9 594.6 367.5 596.5 366.0 598.4 364.6 600.3 363.1 600.3 360.2 602.2 358.8 604.1 357.3 606.0 355.9 608.0 354.4 609.9 353.0 611.8 351.5 611.8 348.6 613.7 347.2 615.6 345.8 617.5 344.3 619.4 342.9 619.4 340.0 621.3 338.5 623.2 337.1 623.2 334.2 625.2 332.7 627.1 331.3 629.0 329.8 630.9 328.4 632.8 326.9 634.7 325.5 634.7 322.6 636.6 321.2 638.5 319.7 640.4 318.3 642.3 316.8 642.3 313.9 644.3 312.5 646.2 311.0 648.1 309.6 650.0 308.1 651.9 306.7 653.8 305.2 655.7 303.8 657.6 302.4 657.6 299.5 659.5 298.0 661.5 296.6 663.4 295.1 665.3 293.7 665.3 290.8 667.2 289.3 669.1 287.9 669.1 285.0 671.0 283.5 672.9 282.1 674.8 280.7 676.7 279.2 676.7 276.3 678.6 274.9 680.6 273.4 680.6 270.5 682.5 269.1 684.4 267.6 684.4 264.7 686.3 263.3 688.2 261.8 688.2 259.0 690.1 257.5 692.0 256.1 692.0 253.2 692.0 250.3 692.0 247.4 692.0 244.5 692.0 241.6 692.0 238.7 692.0 235.8 692.0 232.9 693.9 231.5 695.8 230.0 695.8 227.1 695.8 224.2 697.8 222.8 699.7 221.3 699.7 218.4 699.7 215.5 701.6 214.1 703.5 212.7 703.5 209.8 703.5 206.9 705.4 205.4 707.3 204.0 707.3 201.1 709.2 199.6 711.1 198.2 711.1 195.3 713.0 193.8 714.9 192.4 714.9 189.5 716.9 188.1 718.8 186.6 718.8 183.7 718.8 180.8 720.7 179.4 722.6 177.9 722.6 175.0 724.5 173.6 726.4 172.1 726.4 169.3 728.3 167.8 730.2 166.4 730.2 163.5 732.1 162.0 734.0 160.6 734.0 157.7 736.0 156.2 737.9 154.8 737.9 151.9 739.8 150.4 741.7 149.0 741.7 146.1 743.6 144.7 745.5 143.2" fill="none" stroke="#000" stroke-width="2.84" stroke-linejoin="miter" stroke-linecap="butt"/><path d="M211.8 837.6 213.7 836.2 215.6 834.7 215.6 831.9 215.6 829.0 217.6 827.5 219.5 826.1 219.5 823.2 219.5 820.3 221.4 818.8 223.3 817.4 223.3 814.5 225.2 813.0 227.1 811.6 227.1 808.7 229.0 807.3 230.9 805.8 230.9 802.9 232.8 801.5 234.7 800.0 234.7 797.1 234.7 794.2 236.7 792.8 238.6 791.3 238.6 788.4 240.5 787.0 242.4 785.6 242.4 782.7 244.3 781.2 246.2 779.8 246.2 776.9 246.2 774.0 248.1 772.5 250.0 771.1 250.0 768.2 251.9 766.7 253.9 765.3 253.9 762.4 255.8 761.0 257.7 759.5 257.7 756.6 259.6 755.2 261.5 753.7 261.5 750.8 261.5 747.9 263.4 746.5 265.3 745.0 265.3 742.2 267.2 740.7 269.1 739.3 269.1 736.4 271.0 734.9 273.0 733.5 273.0 730.6 274.9 729.1 276.8 727.7 276.8 724.8 278.7 723.3 280.6 721.9 280.6 719.0 280.6 716.1 282.5 714.7 284.4 713.2 284.4 710.3 286.3 708.9 288.2 707.4 288.2 704.5 290.2 703.1 292.1 701.6 292.1 698.8 294.0 697.3 295.9 695.9 295.9 693.0 297.8 691.5 299.7 690.1 299.7 687.2 301.6 685.7 303.5 684.3 303.5 681.4 305.4 679.9 307.3 678.5 307.3 675.6 309.3 674.2 311.2 672.7 311.2 669.8 313.1 668.4 315.0 666.9 315.0 664.0 316.9 662.6 318.8 661.1 318.8 658.2 320.7 656.8 322.6 655.4 324.5 653.9 326.5 652.5 326.5 649.6 328.4 648.1 330.3 646.7 330.3 643.8 332.2 642.3 334.1 640.9 336.0 639.4 337.9 638.0 337.9 635.1 339.8 633.7 341.7 632.2 343.6 630.8 345.6 629.3 345.6 626.4 347.5 625.0 349.4 623.5 351.3 622.1 353.2 620.6 353.2 617.7 355.1 616.3 357.0 614.8 358.9 613.4 360.8 611.9 360.8 609.1 362.8 607.6 364.7 606.2 366.6 604.7 368.5 603.3 368.5 600.4 370.4 598.9 372.3 597.5 374.2 596.0 376.1 594.6 376.1 591.7 378.0 590.2 379.9 588.8 381.9 587.4 383.8 585.9 383.8 583.0 385.7 581.6 387.6 580.1 389.5 578.7 391.4 577.2 391.4 574.3 393.3 572.9 395.2 571.4 397.1 570.0 399.1 568.5 399.1 565.7 401.0 564.2 402.9 562.8 404.8 561.3 406.7 559.9 408.6 558.4 410.5 557.0 410.5 554.1 412.4 552.6 414.3 551.2 414.3 548.3 416.2 546.8 418.2 545.4 420.1 544.0 422.0 542.5 423.9 541.1 425.8 539.6 425.8 536.7 427.7 535.3 429.6 533.8 431.5 532.4 433.4 530.9 435.4 529.5 437.3 528.0 437.3 525.1 439.2 523.7 441.1 522.3 443.0 520.8 444.9 519.4 446.8 517.9 448.7 516.5 448.7 513.6 450.6 512.1 452.5 510.7 454.5 509.2 456.4 507.8 458.3 506.3 460.2 504.9 460.2 502.0 462.1 500.6 464.0 499.1 465.9 497.7 467.8 496.2 469.7 494.8 471.7 493.3 471.7 490.4 473.6 489.0 475.5 487.5 477.4 486.1 479.3 484.6 481.2 483.2 483.1 481.7 483.1 478.9 485.0 477.4 486.9 476.0 488.8 474.5 490.8 473.1 492.7 471.6 494.6 470.2 496.5 468.7 498.4 467.3 498.4 464.4 500.3 462.9 502.2 461.5 504.1 460.0 506.0 458.6 507.9 457.2 509.9 455.7 509.9 452.8 511.8 451.4 513.7 449.9 515.6 448.5 517.5 447.0 519.4 445.6 521.3 444.1 521.3 441.2 523.2 439.8 525.1 438.3 527.1 436.9 529.0 435.4 530.9 434.0 532.8 432.6 532.8 429.7 534.7 428.2 536.6 426.8 538.5 425.3 540.4 423.9 542.3 422.4 544.2 421.0 546.2 419.5 548.1 418.1 548.1 415.2 550.0 413.7 551.9 412.3 553.8 410.9 555.7 409.4 557.6 408.0 559.5 406.5 559.5 403.6 561.4 402.2 563.4 400.7 565.3 399.3 567.2 397.8 569.1 396.4 571.0 394.9 571.0 392.0 572.9 390.6 574.8 389.2 576.7 387.7 578.6 386.3 578.6 383.4 580.5 381.9 582.5 380.5 584.4 379.0 586.3 377.6 588.2 376.1 590.1 374.7 590.1 371.8 592.0 370.3 593.9 368.9 595.8 367.5 597.7 366.0 599.7 364.6 601.6 363.1 601.6 360.2 603.5 358.8 605.4 357.3 607.3 355.9 609.2 354.4 611.1 353.0 613.0 351.5 613.0 348.6 614.9 347.2 616.8 345.8 618.8 344.3 620.7 342.9 620.7 340.0 622.6 338.5 624.5 337.1 624.5 334.2 626.4 332.7 628.3 331.3 630.2 329.8 632.1 328.4 634.0 326.9 636.0 325.5 636.0 322.6 637.9 321.2 639.8 319.7 641.7 318.3 643.6 316.8 643.6 313.9 645.5 312.5 647.4 311.0 649.3 309.6 651.2 308.1 653.1 306.7 655.1 305.2 657.0 303.8 658.9 302.4 658.9 299.5 660.8 298.0 662.7 296.6 664.6 295.1 666.5 293.7 666.5 290.8 668.4 289.3 670.3 287.9 670.3 285.0 672.3 283.5 674.2 282.1 676.1 280.7 678.0 279.2 678.0 276.3 679.9 274.9 681.8 273.4 681.8 270.5 683.7 269.1 685.6 267.6 685.6 264.7 687.5 263.3 689.4 261.8 689.4 259.0 691.4 257.5 693.3 256.1 693.3 253.2 693.3 250.3 693.3 247.4 693.3 244.5 693.3 241.6 693.3 238.7 693.3 235.8 693.3 232.9 695.2 231.5 697.1 230.0 697.1 227.1 697.1 224.2 699.0 222.8 700.9 221.3 700.9 218.4 700.9 215.5 702.8 214.1 704.7 212.7 704.7 209.8 704.7 206.9 706.6 205.4 708.6 204.0 708.6 201.1 710.5 199.6 712.4 198.2 712.4 195.3 714.3 193.8 716.2 192.4 716.2 189.5 718.1 188.1 720.0 186.6 720.0 183.7 720.0 180.8 721.9 179.4 723.8 177.9 723.8 175.0 725.7 173.6 727.7 172.1 727.7 169.3 729.6 167.8 731.5 166.4 731.5 163.5 733.4 162.0 735.3 160.6 735.3 157.7 737.2 156.2 739.1 154.8 739.1 151.9 741.0 150.4 742.9 149.0 742.9 146.1 744.9 144.7 746.8 143.2" fill="none" stroke="#000" stroke-width="2.84" stroke-linejoin="miter" stroke-linecap="butt"/><path d="M213.1 837.6 215.0 836.2 216.9 834.7 216.9 831.9 216.9 829.0 218.8 827.5 220.7 826.1 220.7 823.2 220.7 820.3 222.6 818.8 224.5 817.4 224.5 814.5 226.4 813.0 228.4 811.6 228.4 808.7 230.3 807.3 232.2 805.8 232.2 802.9 234.1 801.5 236.0 800.0 236.0 797.1 236.0 794.2 237.9 792.8 239.8 791.3 239.8 788.4 241.7 787.0 243.6 785.6 243.6 782.7 245.5 781.2 247.5 779.8 247.5 776.9 247.5 774.0 249.4 772.5 251.3 771.1 251.3 768.2 253.2 766.7 255.1 765.3 255.1 762.4 257.0 761.0 258.9 759.5 258.9 756.6 260.8 755.2 262.7 753.7 262.7 750.8 262.7 747.9 264.7 746.5 266.6 745.0 266.6 742.2 268.5 740.7 270.4 739.3 270.4 736.4 272.3 734.9 274.2 733.5 274.2 730.6 276.1 729.1 278.0 727.7 278.0 724.8 279.9 723.3 281.8 721.9 281.8 719.0 281.8 716.1 283.8 714.7 285.7 713.2 285.7 710.3 287.6 708.9 289.5 707.4 289.5 704.5 291.4 703.1 293.3 701.6 293.3 698.8 295.2 697.3 297.1 695.9 297.1 693.0 299.0 691.5 301.0 690.1 301.0 687.2 302.9 685.7 304.8 684.3 304.8 681.4 306.7 679.9 308.6 678.5 308.6 675.6 310.5 674.2 312.4 672.7 312.4 669.8 314.3 668.4 316.2 666.9 316.2 664.0 318.1 662.6 320.1 661.1 320.1 658.2 322.0 656.8 323.9 655.4 325.8 653.9 327.7 652.5 327.7 649.6 329.6 648.1 331.5 646.7 331.5 643.8 333.4 642.3 335.3 640.9 337.3 639.4 339.2 638.0 339.2 635.1 341.1 633.7 343.0 632.2 344.9 630.8 346.8 629.3 346.8 626.4 348.7 625.0 350.6 623.5 352.5 622.1 354.4 620.6 354.4 617.7 356.4 616.3 358.3 614.8 360.2 613.4 362.1 611.9 362.1 609.1 364.0 607.6 365.9 606.2 367.8 604.7 369.7 603.3 369.7 600.4 371.6 598.9 373.6 597.5 375.5 596.0 377.4 594.6 377.4 591.7 379.3 590.2 381.2 588.8 383.1 587.4 385.0 585.9 385.0 583.0 386.9 581.6 388.8 580.1 390.7 578.7 392.7 577.2 392.7 574.3 394.6 572.9 396.5 571.4 398.4 570.0 400.3 568.5 400.3 565.7 402.2 564.2 404.1 562.8 406.0 561.3 407.9 559.9 409.9 558.4 411.8 557.0 411.8 554.1 413.7 552.6 415.6 551.2 415.6 548.3 417.5 546.8 419.4 545.4 421.3 544.0 423.2 542.5 425.1 541.1 427.0 539.6 427.0 536.7 429.0 535.3 430.9 533.8 432.8 532.4 434.7 530.9 436.6 529.5 438.5 528.0 438.5 525.1 440.4 523.7 442.3 522.3 444.2 520.8 446.2 519.4 448.1 517.9 450.0 516.5 450.0 513.6 451.9 512.1 453.8 510.7 455.7 509.2 457.6 507.8 459.5 506.3 461.4 504.9 461.4 502.0 463.3 500.6 465.3 499.1 467.2 497.7 469.1 496.2 471.0 494.8 472.9 493.3 472.9 490.4 474.8 489.0 476.7 487.5 478.6 486.1 480.5 484.6 482.5 483.2 484.4 481.7 484.4 478.9 486.3 477.4 488.2 476.0 490.1 474.5 492.0 473.1 493.9 471.6 495.8 470.2 497.7 468.7 499.6 467.3 499.6 464.4 501.6 462.9 503.5 461.5 505.4 460.0 507.3 458.6 509.2 457.2 511.1 455.7 511.1 452.8 513.0 451.4 514.9 449.9 516.8 448.5 518.8 447.0 520.7 445.6 522.6 444.1 522.6 441.2 524.5 439.8 526.4 438.3 528.3 436.9 530.2 435.4 532.1 434.0 534.0 432.6 534.0 429.7 535.9 428.2 537.9 426.8 539.8 425.3 541.7 423.9 543.6 422.4 545.5 421.0 547.4 419.5 549.3 418.1 549.3 415.2 551.2 413.7 553.1 412.3 555.1 410.9 557.0 409.4 558.9 408.0 560.8 406.5 560.8 403.6 562.7 402.2 564.6 400.7 566.5 399.3 568.4 397.8 570.3 396.4 572.2 394.9 572.2 392.0 574.2 390.6 576.1 389.2 578.0 387.7 579.9 386.3 579.9 383.4 581.8 381.9 583.7 380.5 585.6 379.0 587.5 377.6 589.4 376.1 591.4 374.7 591.4 371.8 593.3 370.3 595.2 368.9 597.1 367.5 599.0 366.0 600.9 364.6 602.8 363.1 602.8 360.2 604.7 358.8 606.6 357.3 608.5 355.9 610.5 354.4 612.4 353.0 614.3 351.5 614.3 348.6 616.2 347.2 618.1 345.8 620.0 344.3 621.9 342.9 621.9 340.0 623.8 338.5 625.7 337.1 625.7 334.2 627.7 332.7 629.6 331.3 631.5 329.8 633.4 328.4 635.3 326.9 637.2 325.5 637.2 322.6 639.1 321.2 641.0 319.7 642.9 318.3 644.8 316.8 644.8 313.9 646.8 312.5 648.7 311.0 650.6 309.6 652.5 308.1 654.4 306.7 656.3 305.2 658.2 303.8 660.1 302.4 660.1 299.5 662.0 298.0 664.0 296.6 665.9 295.1 667.8 293.7 667.8 290.8 669.7 289.3 671.6 287.9 671.6 285.0 673.5 283.5 675.4 282.1 677.3 280.7 679.2 279.2 679.2 276.3 681.1 274.9 683.1 273.4 683.1 270.5 685.0 269.1 686.9 267.6 686.9 264.7 688.8 263.3 690.7 261.8 690.7 259.0 692.6 257.5 694.5 256.1 694.5 253.2 694.5 250.3 694.5 247.4 694.5 244.5 694.5 241.6 694.5 238.7 694.5 235.8 694.5 232.9 696.4 231.5 698.3 230.0 698.3 227.1 698.3 224.2 700.3 222.8 702.2 221.3 702.2 218.4 702.2 215.5 704.1 214.1 706.0 212.7 706.0 209.8 706.0 206.9 707.9 205.4 709.8 204.0 709.8 201.1 711.7 199.6 713.6 198.2 713.6 195.3 715.5 193.8 717.4 192.4 717.4 189.5 719.4 188.1 721.3 186.6 721.3 183.7 721.3 180.8 723.2 179.4 725.1 177.9 725.1 175.0 727.0 173.6 728.9 172.1 728.9 169.3 730.8 167.8 732.7 166.4 732.7 163.5 734.6 162.0 736.5 160.6 736.5 157.7 738.5 156.2 740.4 154.8 740.4 151.9 742.3 150.4 744.2 149.0 744.2 146.1 746.1 144.7 748.0 143.2" fill="none" stroke="#000" stroke-width="2.84" stroke-linejoin="miter" stroke-linecap="butt"/><path d="M310.2 674.2 312.1 672.7 312.1 669.8 314.0 668.4 315.9 666.9 315.9 664.0 317.8 662.6 319.7 661.1 319.7 658.2 321.6 656.8 323.5 655.4 325.4 653.9 327.4 652.5 327.4 649.6 329.3 648.1 331.2 646.7 331.2 643.8 333.1 642.3 335.0 640.9 336.9 639.4 338.8 638.0 338.8 635.1 340.7 633.7 342.6 632.2 344.5 630.8 346.5 629.3 346.5 626.4 348.4 625.0 350.3 623.5 352.2 622.1 354.1 620.6 354.1 617.7 356.0 616.3 357.9 614.8 359.8 613.4 361.7 611.9 361.7 609.1 363.7 607.6" fill="none" stroke="#000" stroke-width="8.2" stroke-linejoin="round" stroke-linecap="round"/><path d="M312.2 669.8 314.1 668.4 316.0 666.9 316.0 664.0 317.9 662.6 319.8 661.1 319.8 658.2 321.7 656.8 323.6 655.4 325.5 653.9 327.5 652.5 327.5 649.6 329.4 648.1 331.3 646.7 331.3 643.8 333.2 642.3 335.1 640.9 337.0 639.4 338.9 638.0 338.9 635.1 340.8 633.7 342.7 632.2 344.6 630.8 346.6 629.3 346.6 626.4 348.5 625.0 350.4 623.5 352.3 622.1 354.2 620.6 354.2 617.7 356.1 616.3 358.0 614.8 359.9 613.4 361.8 611.9" fill="none" stroke="#6FA5FF" stroke-width="1.5" stroke-linejoin="round" stroke-dasharray="9 3"/></g>
<g fill="#000" fill-opacity=".7">
<circle cx="348.7" cy="403.6" r="5.25"/>
<circle cx="297.8" cy="548.3" r="5.25"/>
<circle cx="246.8" cy="490.4" r="5.25"/>
<circle cx="221.4" cy="519.4" r="5.25"/>
<circle cx="323.3" cy="374.7" r="5.25"/>
<circle cx="425.2" cy="287.9" r="5.25"/>
<circle cx="221.4" cy="432.6" r="5.25"/>
<circle cx="323.3" cy="432.6" r="5.25"/>
<circle cx="170.4" cy="577.2" r="5.25"/>
<circle cx="297.8" cy="519.4" r="5.25"/>
<circle cx="425.2" cy="345.8" r="5.25"/>
<circle cx="272.3" cy="432.6" r="5.25"/>
<circle cx="272.3" cy="548.3" r="5.25"/>
<circle cx="145.0" cy="548.3" r="5.25"/>
<circle cx="527.1" cy="259.0" r="5.25"/>
<circle cx="501.6" cy="143.2" r="5.25"/>
<circle cx="425.2" cy="287.9" r="5.25"/>
<circle cx="348.7" cy="403.6" r="5.25"/>
<circle cx="501.6" cy="316.8" r="5.25"/>
<circle cx="348.7" cy="316.8" r="5.25"/>
<circle cx="425.2" cy="432.6" r="5.25"/>
<circle cx="348.7" cy="345.8" r="5.25"/>
<circle cx="221.4" cy="374.7" r="5.25"/>
<circle cx="348.7" cy="461.5" r="5.25"/>
<circle cx="272.3" cy="432.6" r="5.25"/>
<circle cx="323.3" cy="548.3" r="5.25"/>
<circle cx="323.3" cy="432.6" r="5.25"/>
<circle cx="374.2" cy="403.6" r="5.25"/>
<circle cx="374.2" cy="432.6" r="5.25"/>
<circle cx="246.8" cy="490.4" r="5.25"/>
<circle cx="272.3" cy="519.4" r="5.25"/>
<circle cx="425.2" cy="432.6" r="5.25"/>
<circle cx="374.2" cy="230.0" r="5.25"/>
<circle cx="450.6" cy="201.1" r="5.25"/>
<circle cx="297.8" cy="519.4" r="5.25"/>
<circle cx="323.3" cy="490.4" r="5.25"/>
<circle cx="450.6" cy="403.6" r="5.25"/>
<circle cx="297.8" cy="374.7" r="5.25"/>
<circle cx="170.4" cy="548.3" r="5.25"/>
<circle cx="348.7" cy="432.6" r="5.25"/>
<circle cx="323.3" cy="403.6" r="5.25"/>
<circle cx="195.9" cy="750.8" r="5.25"/>
<circle cx="170.4" cy="490.4" r="5.25"/>
<circle cx="323.3" cy="403.6" r="5.25"/>
<circle cx="348.7" cy="316.8" r="5.25"/>
<circle cx="272.3" cy="548.3" r="5.25"/>
<circle cx="348.7" cy="316.8" r="5.25"/>
<circle cx="221.4" cy="490.4" r="5.25"/>
<circle cx="399.7" cy="345.8" r="5.25"/>
<circle cx="323.3" cy="461.5" r="5.25"/>
<path d="M832.7 482.3l7.01 12.15h-14.03z"/>
<path d="M679.9 482.3l7.01 12.15h-14.03z"/>
<path d="M807.3 511.3l7.01 12.15h-14.03z"/>
<path d="M450.6 742.7l7.01 12.15h-14.03z"/>
<path d="M705.4 598.1l7.01 12.15h-14.03z"/>
<path d="M501.6 598.1l7.01 12.15h-14.03z"/>
<path d="M654.4 453.4l7.01 12.15h-14.03z"/>
<path d="M297.8 713.8l7.01 12.15h-14.03z"/>
<path d="M730.8 569.1l7.01 12.15h-14.03z"/>
<path d="M374.2 627.0l7.01 12.15h-14.03z"/>
<path d="M323.3 829.5l7.01 12.15h-14.03z"/>
<path d="M552.5 540.2l7.01 12.15h-14.03z"/>
<path d="M578.0 771.7l7.01 12.15h-14.03z"/>
<path d="M603.5 569.1l7.01 12.15h-14.03z"/>
<path d="M476.1 569.1l7.01 12.15h-14.03z"/>
<path d="M756.3 511.3l7.01 12.15h-14.03z"/>
<path d="M476.1 540.2l7.01 12.15h-14.03z"/>
<path d="M527.1 627.0l7.01 12.15h-14.03z"/>
<path d="M628.9 771.7l7.01 12.15h-14.03z"/>
<path d="M476.1 684.9l7.01 12.15h-14.03z"/>
<path d="M552.5 482.3l7.01 12.15h-14.03z"/>
<path d="M603.5 598.1l7.01 12.15h-14.03z"/>
<path d="M654.4 684.9l7.01 12.15h-14.03z"/>
<path d="M603.5 598.1l7.01 12.15h-14.03z"/>
<path d="M679.9 569.1l7.01 12.15h-14.03z"/>
<path d="M730.8 540.2l7.01 12.15h-14.03z"/>
<path d="M781.8 598.1l7.01 12.15h-14.03z"/>
<path d="M756.3 540.2l7.01 12.15h-14.03z"/>
<path d="M578.0 569.1l7.01 12.15h-14.03z"/>
<path d="M501.6 655.9l7.01 12.15h-14.03z"/>
<path d="M450.6 713.8l7.01 12.15h-14.03z"/>
<path d="M450.6 713.8l7.01 12.15h-14.03z"/>
<path d="M527.1 627.0l7.01 12.15h-14.03z"/>
<path d="M578.0 627.0l7.01 12.15h-14.03z"/>
<path d="M425.2 540.2l7.01 12.15h-14.03z"/>
<path d="M578.0 424.5l7.01 12.15h-14.03z"/>
<path d="M756.3 511.3l7.01 12.15h-14.03z"/>
<path d="M654.4 742.7l7.01 12.15h-14.03z"/>
<path d="M476.1 540.2l7.01 12.15h-14.03z"/>
<path d="M450.6 684.9l7.01 12.15h-14.03z"/>
<path d="M450.6 655.9l7.01 12.15h-14.03z"/>
<path d="M603.5 540.2l7.01 12.15h-14.03z"/>
<path d="M527.1 655.9l7.01 12.15h-14.03z"/>
<path d="M323.3 742.7l7.01 12.15h-14.03z"/>
<path d="M476.1 627.0l7.01 12.15h-14.03z"/>
<path d="M501.6 540.2l7.01 12.15h-14.03z"/>
<path d="M501.6 569.1l7.01 12.15h-14.03z"/>
<path d="M628.9 569.1l7.01 12.15h-14.03z"/>
<path d="M348.7 684.9l7.01 12.15h-14.03z"/>
<path d="M501.6 598.1l7.01 12.15h-14.03z"/>
<rect x="649.3" y="456.4" width="10.20" height="10.20"/>
<rect x="522.0" y="630.0" width="10.20" height="10.20"/>
<rect x="853.1" y="543.2" width="10.20" height="10.20"/>
<rect x="649.3" y="572.1" width="10.20" height="10.20"/>
<rect x="700.3" y="543.2" width="10.20" height="10.20"/>
<rect x="980.5" y="543.2" width="10.20" height="10.20"/>
<rect x="292.7" y="687.9" width="10.20" height="10.20"/>
<rect x="904.1" y="572.1" width="10.20" height="10.20"/>
<rect x="751.2" y="687.9" width="10.20" height="10.20"/>
<rect x="878.6" y="369.6" width="10.20" height="10.20"/>
<rect x="700.3" y="485.3" width="10.20" height="10.20"/>
<rect x="674.8" y="630.0" width="10.20" height="10.20"/>
<rect x="776.7" y="543.2" width="10.20" height="10.20"/>
<rect x="496.5" y="687.9" width="10.20" height="10.20"/>
<rect x="522.0" y="601.1" width="10.20" height="10.20"/>
<rect x="674.8" y="485.3" width="10.20" height="10.20"/>
<rect x="700.3" y="543.2" width="10.20" height="10.20"/>
<rect x="1005.9" y="311.7" width="10.20" height="10.20"/>
<rect x="1005.9" y="658.9" width="10.20" height="10.20"/>
<rect x="572.9" y="774.7" width="10.20" height="10.20"/>
<rect x="802.2" y="485.3" width="10.20" height="10.20"/>
<rect x="471.0" y="601.1" width="10.20" height="10.20"/>
<rect x="1005.9" y="601.1" width="10.20" height="10.20"/>
<rect x="649.3" y="630.0" width="10.20" height="10.20"/>
<rect x="751.2" y="456.4" width="10.20" height="10.20"/>
<rect x="878.6" y="485.3" width="10.20" height="10.20"/>
<rect x="623.8" y="601.1" width="10.20" height="10.20"/>
<rect x="598.4" y="543.2" width="10.20" height="10.20"/>
<rect x="674.8" y="601.1" width="10.20" height="10.20"/>
<rect x="878.6" y="543.2" width="10.20" height="10.20"/>
<rect x="929.5" y="601.1" width="10.20" height="10.20"/>
<rect x="1056.9" y="311.7" width="10.20" height="10.20"/>
<rect x="674.8" y="601.1" width="10.20" height="10.20"/>
<rect x="649.3" y="601.1" width="10.20" height="10.20"/>
<rect x="598.4" y="658.9" width="10.20" height="10.20"/>
<rect x="1005.9" y="543.2" width="10.20" height="10.20"/>
<rect x="649.3" y="427.5" width="10.20" height="10.20"/>
<rect x="674.8" y="514.3" width="10.20" height="10.20"/>
<rect x="572.9" y="543.2" width="10.20" height="10.20"/>
<rect x="802.2" y="514.3" width="10.20" height="10.20"/>
<rect x="751.2" y="514.3" width="10.20" height="10.20"/>
<rect x="802.2" y="514.3" width="10.20" height="10.20"/>
<rect x="522.0" y="630.0" width="10.20" height="10.20"/>
<rect x="776.7" y="485.3" width="10.20" height="10.20"/>
<rect x="751.2" y="456.4" width="10.20" height="10.20"/>
<rect x="751.2" y="543.2" width="10.20" height="10.20"/>
<rect x="649.3" y="687.9" width="10.20" height="10.20"/>
<rect x="700.3" y="543.2" width="10.20" height="10.20"/>
<rect x="623.8" y="427.5" width="10.20" height="10.20"/>
<rect x="547.4" y="543.2" width="10.20" height="10.20"/>
</g>
<g stroke="#333" stroke-width="2.84"><line x1="323.27" x2="323.27" y1="873.95" y2="881.28"/><line x1="578.00" x2="578.00" y1="873.95" y2="881.28"/><line x1="832.74" x2="832.74" y1="873.95" y2="881.28"/><line x1="1087.47" x2="1087.47" y1="873.95" y2="881.28"/><line x1="89.67" x2="97.00" y1="837.64" y2="837.64"/><line x1="89.67" x2="97.00" y1="692.97" y2="692.97"/><line x1="89.67" x2="97.00" y1="548.29" y2="548.29"/><line x1="89.67" x2="97.00" y1="403.62" y2="403.62"/><line x1="89.67" x2="97.00" y1="258.95" y2="258.95"/><line x1="89.67" x2="97.00" y1="114.28" y2="114.28"/></g>
<g font-size="23.47" fill="#4D4D4D"><text x="323.27" y="903.6" text-anchor="middle">5</text><text x="578.00" y="903.6" text-anchor="middle">6</text><text x="832.74" y="903.6" text-anchor="middle">7</text><text x="1087.47" y="903.6" text-anchor="middle">8</text><text x="83.8" y="846.04" text-anchor="end">2.0</text><text x="83.8" y="701.37" text-anchor="end">2.5</text><text x="83.8" y="556.69" text-anchor="end">3.0</text><text x="83.8" y="412.02" text-anchor="end">3.5</text><text x="83.8" y="267.35" text-anchor="end">4.0</text><text x="83.8" y="122.68" text-anchor="end">4.5</text></g>
<text x="603.8" y="937.8" font-size="29.33" text-anchor="middle" textLength="169.3" lengthAdjust="spacingAndGlyphs">Sepal.Length</text>
<text transform="translate(36.6,490.4) rotate(-90)" font-size="29.33" text-anchor="middle" textLength="155.9" lengthAdjust="spacingAndGlyphs">Sepal.Width</text>
<g font-size="23.47"><text x="1153.2" y="137.6" font-size="29.33">Species</text><rect x="1154.0" y="157" width="46.1" height="138.2" fill="#EBEBEB"/><text x="1215" y="187.8">setosa</text><text x="1215" y="233.8">versicolor</text><text x="1215" y="279.8">virginica</text><g fill="#000" fill-opacity=".7"><circle cx="1177.0" cy="180" r="5.25"/><path d="M1177.0 217.9l7.01 12.15h-14.03z"/><rect x="1171.9" y="266.9" width="10.20" height="10.20"/></g><text x="1153.2" y="377.6" font-size="29.33">prediction</text><rect x="1154.0" y="397.00" width="46.1" height="46.3" fill="#F8766D"/><text x="1215" y="427.8">setosa</text><rect x="1154.0" y="443.08" width="46.1" height="46.3" fill="#00BA38"/><text x="1215" y="473.8">versicolor</text><rect x="1154.0" y="489.16" width="46.1" height="46.3" fill="#619CFF"/><text x="1215" y="519.8">virginica</text><text x="1153.2" y="618.4" font-size="29.33">delta_prob</text><rect x="1154.0" y="637.10" width="46.1" height="46.30" fill="#EBEBEB"/><text x="1215" y="668.4">0.00</text><rect x="1154.0" y="683.18" width="46.1" height="46.30" fill="#BDBDBD"/><text x="1215" y="714.5">0.25</text><rect x="1154.0" y="729.26" width="46.1" height="46.30" fill="#8F8F8F"/><text x="1215" y="760.6">0.50</text><rect x="1154.0" y="775.34" width="46.1" height="46.30" fill="#616161"/><text x="1215" y="806.7">0.75</text><rect x="1154.0" y="821.42" width="46.1" height="46.08" fill="#333333"/><text x="1215" y="852.8">1.00</text></g>
</svg>
</body></html>
